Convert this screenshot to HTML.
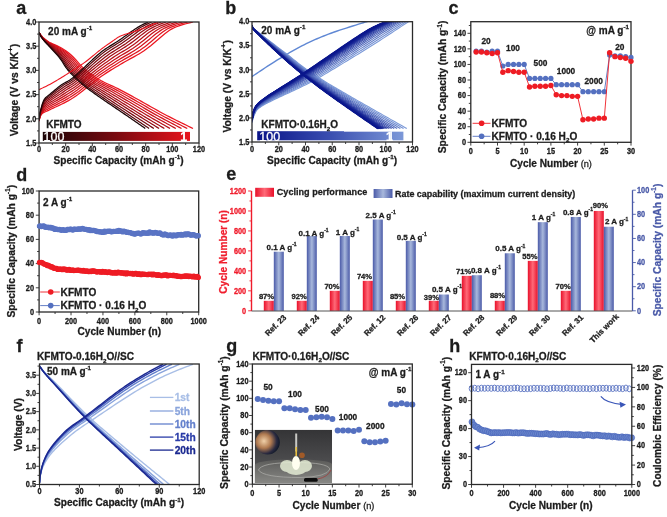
<!DOCTYPE html>
<html><head><meta charset="utf-8"><style>html,body{margin:0;padding:0;background:#fff;}svg{display:block;font-family:"Liberation Sans",sans-serif;filter:blur(0.4px);}</style></head><body>
<svg width="667" height="517" viewBox="0 0 667 517" font-family="Liberation Sans, sans-serif">
<rect width="667" height="517" fill="#ffffff"/>
<defs>
<clipPath id="ca"><rect x="39" y="22" width="160" height="121"/></clipPath>
<clipPath id="cb"><rect x="252" y="21.7" width="160.5" height="120.3"/></clipPath>
<clipPath id="cf"><rect x="39.5" y="364" width="159.7" height="120.5"/></clipPath>
<linearGradient id="gra" x1="0" x2="1"><stop offset="0" stop-color="#1a0406"/><stop offset="0.5" stop-color="#7a0a10"/><stop offset="1" stop-color="#e8141c"/></linearGradient>
<linearGradient id="grb" x1="0" x2="1"><stop offset="0" stop-color="#0a1488"/><stop offset="0.5" stop-color="#3a4eb0"/><stop offset="1" stop-color="#7c98d8"/></linearGradient>
<linearGradient id="barR" x1="0" x2="1"><stop offset="0" stop-color="#e8102a"/><stop offset="0.5" stop-color="#ff6a78"/><stop offset="1" stop-color="#e8102a"/></linearGradient>
<linearGradient id="barB" x1="0" x2="1"><stop offset="0" stop-color="#4a5aa8"/><stop offset="0.5" stop-color="#a8b8dc"/><stop offset="1" stop-color="#4a5aa8"/></linearGradient>
<radialGradient id="planet" cx="0.35" cy="0.45" r="0.65"><stop offset="0" stop-color="#f0d0a8"/><stop offset="0.45" stop-color="#b07a50"/><stop offset="0.8" stop-color="#2a2a40"/><stop offset="1" stop-color="#101828"/></radialGradient>
<radialGradient id="glow" cx="0.5" cy="0.5" r="0.5"><stop offset="0" stop-color="#ffffe0"/><stop offset="0.5" stop-color="#e8f0c0"/><stop offset="1" stop-color="#a0b090" stop-opacity="0"/></radialGradient>
<linearGradient id="photobg" x1="0" y1="0" x2="0" y2="1"><stop offset="0" stop-color="#343436"/><stop offset="0.6" stop-color="#4c4c4e"/><stop offset="1" stop-color="#6a6a6a"/></linearGradient>
<linearGradient id="tray" x1="0" y1="0" x2="0" y2="1"><stop offset="0" stop-color="#5c5c5a"/><stop offset="1" stop-color="#878784"/></linearGradient>
</defs>
<text x="16.30" y="13.80" font-size="18" font-weight="bold" text-anchor="start" fill="#1c1c1c" stroke="#1c1c1c" stroke-width="0.28">a</text>
<line x1="39.00" y1="143.00" x2="39.00" y2="146.30" stroke="#2a2a2a" stroke-width="0.9"/>
<text transform="translate(39.00 151.60) scale(0.93 1.12)" font-size="7.9" font-weight="bold" text-anchor="middle" fill="#1c1c1c" stroke="#1c1c1c" stroke-width="0.28">0</text>
<line x1="52.33" y1="143.00" x2="52.33" y2="145.00" stroke="#2a2a2a" stroke-width="0.9"/>
<line x1="65.67" y1="143.00" x2="65.67" y2="146.30" stroke="#2a2a2a" stroke-width="0.9"/>
<text transform="translate(65.67 151.60) scale(0.93 1.12)" font-size="7.9" font-weight="bold" text-anchor="middle" fill="#1c1c1c" stroke="#1c1c1c" stroke-width="0.28">20</text>
<line x1="79.00" y1="143.00" x2="79.00" y2="145.00" stroke="#2a2a2a" stroke-width="0.9"/>
<line x1="92.33" y1="143.00" x2="92.33" y2="146.30" stroke="#2a2a2a" stroke-width="0.9"/>
<text transform="translate(92.33 151.60) scale(0.93 1.12)" font-size="7.9" font-weight="bold" text-anchor="middle" fill="#1c1c1c" stroke="#1c1c1c" stroke-width="0.28">40</text>
<line x1="105.67" y1="143.00" x2="105.67" y2="145.00" stroke="#2a2a2a" stroke-width="0.9"/>
<line x1="119.00" y1="143.00" x2="119.00" y2="146.30" stroke="#2a2a2a" stroke-width="0.9"/>
<text transform="translate(119.00 151.60) scale(0.93 1.12)" font-size="7.9" font-weight="bold" text-anchor="middle" fill="#1c1c1c" stroke="#1c1c1c" stroke-width="0.28">60</text>
<line x1="132.33" y1="143.00" x2="132.33" y2="145.00" stroke="#2a2a2a" stroke-width="0.9"/>
<line x1="145.67" y1="143.00" x2="145.67" y2="146.30" stroke="#2a2a2a" stroke-width="0.9"/>
<text transform="translate(145.67 151.60) scale(0.93 1.12)" font-size="7.9" font-weight="bold" text-anchor="middle" fill="#1c1c1c" stroke="#1c1c1c" stroke-width="0.28">80</text>
<line x1="159.00" y1="143.00" x2="159.00" y2="145.00" stroke="#2a2a2a" stroke-width="0.9"/>
<line x1="172.33" y1="143.00" x2="172.33" y2="146.30" stroke="#2a2a2a" stroke-width="0.9"/>
<text transform="translate(172.33 151.60) scale(0.93 1.12)" font-size="7.9" font-weight="bold" text-anchor="middle" fill="#1c1c1c" stroke="#1c1c1c" stroke-width="0.28">100</text>
<line x1="185.67" y1="143.00" x2="185.67" y2="145.00" stroke="#2a2a2a" stroke-width="0.9"/>
<line x1="199.00" y1="143.00" x2="199.00" y2="146.30" stroke="#2a2a2a" stroke-width="0.9"/>
<text transform="translate(199.00 151.60) scale(0.93 1.12)" font-size="7.9" font-weight="bold" text-anchor="middle" fill="#1c1c1c" stroke="#1c1c1c" stroke-width="0.28">120</text>
<line x1="35.70" y1="143.00" x2="39.00" y2="143.00" stroke="#2a2a2a" stroke-width="0.9"/>
<text transform="translate(36.30 145.70) scale(0.93 1.12)" font-size="7.9" font-weight="bold" text-anchor="end" fill="#1c1c1c" stroke="#1c1c1c" stroke-width="0.28">1.5</text>
<line x1="37.00" y1="130.90" x2="39.00" y2="130.90" stroke="#2a2a2a" stroke-width="0.9"/>
<line x1="35.70" y1="118.80" x2="39.00" y2="118.80" stroke="#2a2a2a" stroke-width="0.9"/>
<text transform="translate(36.30 121.50) scale(0.93 1.12)" font-size="7.9" font-weight="bold" text-anchor="end" fill="#1c1c1c" stroke="#1c1c1c" stroke-width="0.28">2.0</text>
<line x1="37.00" y1="106.70" x2="39.00" y2="106.70" stroke="#2a2a2a" stroke-width="0.9"/>
<line x1="35.70" y1="94.60" x2="39.00" y2="94.60" stroke="#2a2a2a" stroke-width="0.9"/>
<text transform="translate(36.30 97.30) scale(0.93 1.12)" font-size="7.9" font-weight="bold" text-anchor="end" fill="#1c1c1c" stroke="#1c1c1c" stroke-width="0.28">2.5</text>
<line x1="37.00" y1="82.50" x2="39.00" y2="82.50" stroke="#2a2a2a" stroke-width="0.9"/>
<line x1="35.70" y1="70.40" x2="39.00" y2="70.40" stroke="#2a2a2a" stroke-width="0.9"/>
<text transform="translate(36.30 73.10) scale(0.93 1.12)" font-size="7.9" font-weight="bold" text-anchor="end" fill="#1c1c1c" stroke="#1c1c1c" stroke-width="0.28">3.0</text>
<line x1="37.00" y1="58.30" x2="39.00" y2="58.30" stroke="#2a2a2a" stroke-width="0.9"/>
<line x1="35.70" y1="46.20" x2="39.00" y2="46.20" stroke="#2a2a2a" stroke-width="0.9"/>
<text transform="translate(36.30 48.90) scale(0.93 1.12)" font-size="7.9" font-weight="bold" text-anchor="end" fill="#1c1c1c" stroke="#1c1c1c" stroke-width="0.28">3.5</text>
<line x1="37.00" y1="34.10" x2="39.00" y2="34.10" stroke="#2a2a2a" stroke-width="0.9"/>
<line x1="35.70" y1="22.00" x2="39.00" y2="22.00" stroke="#2a2a2a" stroke-width="0.9"/>
<text transform="translate(36.30 24.70) scale(0.93 1.12)" font-size="7.9" font-weight="bold" text-anchor="end" fill="#1c1c1c" stroke="#1c1c1c" stroke-width="0.28">4.0</text>
<text x="53.50" y="164.20" font-size="10.1" font-weight="bold" text-anchor="start" fill="#1c1c1c" stroke="#1c1c1c" stroke-width="0.28">Specific Capacity (mAh g<tspan dy="-4.85" font-size="6.26">-1</tspan><tspan dy="4.85">)</tspan></text>
<text x="18.20" y="90.00" font-size="10.3" font-weight="bold" text-anchor="middle" fill="#1c1c1c" stroke="#1c1c1c" stroke-width="0.28" transform="rotate(-90 18.20 90.00)">Voltage (V vs K/K<tspan dy="-4.94" font-size="7.73">+</tspan><tspan dy="4.94">)</tspan></text>
<text x="48.10" y="34.80" font-size="10.0" font-weight="bold" text-anchor="start" fill="#1c1c1c" stroke="#1c1c1c" stroke-width="0.28">20 mA g<tspan dy="-4.80" font-size="6.20">-1</tspan></text>
<polyline points="39.00,32.65 39.64,33.49 40.28,34.36 40.92,35.19 41.57,35.97 42.21,36.70 42.85,37.34 43.49,37.93 44.13,38.49 44.77,39.03 45.42,39.55 46.06,40.04 46.70,40.51 47.34,40.95 47.98,41.38 48.62,41.78 49.27,42.17 49.91,42.53 50.55,42.87 51.19,43.18 51.83,43.48 52.48,43.77 53.12,44.04 53.76,44.31 54.40,44.58 56.75,45.59 59.10,46.74 61.45,48.04 63.80,49.45 66.15,51.00 68.49,52.76 70.84,54.76 73.19,56.98 75.54,59.35 77.89,62.07 80.24,64.86 82.59,67.35 84.94,69.45 87.29,71.35 89.64,73.13 91.99,74.83 94.34,76.46 96.68,78.00 99.03,79.46 101.38,80.83 103.73,82.06 106.08,83.21 108.43,84.30 110.78,85.36 113.13,86.42 115.48,87.52 117.83,88.67 120.18,89.88 122.53,91.10 124.87,92.35 127.22,93.61 129.57,94.89 131.92,96.17 134.27,97.46 136.62,98.75 138.97,100.05 141.32,101.36 143.67,102.68 146.02,104.01 148.37,105.35 150.72,106.68 153.06,108.00 155.41,109.32 157.76,110.63 160.11,111.93 162.46,113.21 164.81,114.47 167.16,115.71 169.51,116.92 171.86,118.11 174.21,119.29 176.56,120.46 178.91,121.61 181.25,122.77 183.60,123.91 185.95,125.05 188.30,126.19 190.65,127.33 193.00,128.48" fill="none" stroke="#ec1620" stroke-width="1.25" stroke-opacity="1.0" stroke-linejoin="round" clip-path="url(#ca)"/>
<polyline points="39.00,121.22 39.64,118.44 40.28,116.49 40.92,115.21 41.57,114.26 42.21,113.61 42.85,113.10 43.49,112.67 44.13,112.32 44.77,112.03 45.42,111.76 46.06,111.49 46.70,111.21 47.34,110.92 47.98,110.62 48.62,110.32 49.27,110.00 49.91,109.68 50.55,109.37 51.19,109.05 51.83,108.74 52.48,108.44 53.12,108.14 53.76,107.84 54.40,107.54 56.75,106.45 59.10,105.35 61.45,104.23 63.80,103.07 66.15,101.86 68.49,100.59 70.84,99.24 73.19,97.80 75.54,96.24 77.89,94.56 80.24,92.80 82.59,90.96 84.94,89.09 87.29,87.19 89.64,85.28 91.99,83.38 94.34,81.51 96.68,79.68 99.03,77.93 101.38,76.26 103.73,74.66 106.08,73.11 108.43,71.61 110.78,70.15 113.13,68.72 115.48,67.32 117.83,65.92 120.18,64.52 122.53,63.12 124.87,61.76 127.22,60.45 129.57,59.16 131.92,57.89 134.27,56.60 136.62,55.29 138.97,53.92 141.32,52.49 143.67,50.97 146.02,49.34 148.37,47.57 150.72,45.71 153.06,43.76 155.41,41.76 157.76,39.74 160.11,37.71 162.46,35.71 164.81,33.77 167.16,31.96 169.51,30.32 171.86,28.87 174.21,27.69 176.56,26.77 178.91,25.91 181.25,25.10 183.60,24.41 185.95,23.77 188.30,23.17 190.65,22.59 193.00,22.00" fill="none" stroke="#ec1620" stroke-width="1.25" stroke-opacity="1.0" stroke-linejoin="round" clip-path="url(#ca)"/>
<polyline points="39.00,32.65 39.62,33.49 40.24,34.37 40.85,35.20 41.47,35.99 42.09,36.71 42.71,37.37 43.32,37.97 43.94,38.53 44.56,39.08 45.18,39.59 45.80,40.09 46.41,40.56 47.03,41.02 47.65,41.45 48.27,41.87 48.88,42.27 49.50,42.65 50.12,43.00 50.74,43.33 51.36,43.65 51.97,43.96 52.59,44.26 53.21,44.56 53.83,44.85 56.09,45.95 58.35,47.17 60.61,48.53 62.87,49.97 65.14,51.55 67.40,53.33 69.66,55.36 71.92,57.62 74.18,60.01 76.44,62.70 78.71,65.42 80.97,67.85 83.23,69.91 85.49,71.78 87.75,73.54 90.02,75.23 92.28,76.84 94.54,78.37 96.80,79.83 99.06,81.20 101.32,82.46 103.59,83.63 105.85,84.74 108.11,85.82 110.37,86.90 112.63,88.01 114.90,89.16 117.16,90.36 119.42,91.57 121.68,92.81 123.94,94.05 126.20,95.31 128.47,96.57 130.73,97.84 132.99,99.11 135.25,100.39 137.51,101.68 139.77,102.97 142.04,104.27 144.30,105.58 146.56,106.88 148.82,108.18 151.08,109.47 153.35,110.76 155.61,112.03 157.87,113.29 160.13,114.53 162.39,115.75 164.65,116.95 166.92,118.14 169.18,119.31 171.44,120.47 173.70,121.63 175.96,122.77 178.22,123.92 180.49,125.06 182.75,126.19 185.01,127.33 187.27,128.48" fill="none" stroke="#df151e" stroke-width="1.25" stroke-opacity="1.0" stroke-linejoin="round" clip-path="url(#ca)"/>
<polyline points="39.00,121.05 39.62,118.18 40.24,116.13 40.86,114.75 41.48,113.70 42.10,112.91 42.72,112.26 43.33,111.70 43.95,111.22 44.57,110.82 45.19,110.45 45.81,110.10 46.43,109.77 47.05,109.44 47.67,109.11 48.29,108.78 48.91,108.45 49.53,108.13 50.15,107.81 50.76,107.49 51.38,107.18 52.00,106.87 52.62,106.56 53.24,106.25 53.86,105.95 56.13,104.82 58.39,103.68 60.66,102.53 62.93,101.34 65.20,100.12 67.46,98.84 69.73,97.51 72.00,96.10 74.26,94.62 76.53,93.05 78.80,91.39 81.06,89.65 83.33,87.86 85.60,86.03 87.86,84.19 90.13,82.34 92.40,80.50 94.67,78.71 96.93,76.98 99.20,75.33 101.47,73.72 103.73,72.17 106.00,70.66 108.27,69.19 110.53,67.75 112.80,66.33 115.07,64.91 117.33,63.50 119.60,62.09 121.87,60.73 124.13,59.41 126.40,58.13 128.67,56.87 130.94,55.60 133.20,54.31 135.47,52.99 137.74,51.61 140.00,50.15 142.27,48.59 144.54,46.91 146.80,45.14 149.07,43.29 151.34,41.40 153.60,39.47 155.87,37.55 158.14,35.64 160.41,33.79 162.67,32.06 164.94,30.48 167.21,29.06 169.47,27.88 171.74,26.94 174.01,26.06 176.27,25.23 178.54,24.51 180.81,23.85 183.07,23.22 185.34,22.62 187.61,22.00" fill="none" stroke="#df151e" stroke-width="1.25" stroke-opacity="1.0" stroke-linejoin="round" clip-path="url(#ca)"/>
<polyline points="39.00,32.65 39.59,33.50 40.19,34.37 40.78,35.21 41.38,36.00 41.97,36.73 42.56,37.39 43.16,38.00 43.75,38.57 44.35,39.12 44.94,39.64 45.53,40.14 46.13,40.62 46.72,41.09 47.32,41.53 47.91,41.96 48.50,42.37 49.10,42.76 49.69,43.13 50.28,43.49 50.88,43.83 51.47,44.16 52.07,44.48 52.66,44.80 53.25,45.12 55.43,46.30 57.60,47.59 59.78,49.01 61.95,50.50 64.13,52.10 66.30,53.91 68.48,55.96 70.65,58.25 72.82,60.67 75.00,63.33 77.17,65.98 79.35,68.34 81.52,70.36 83.70,72.21 85.87,73.95 88.04,75.62 90.22,77.22 92.39,78.75 94.57,80.20 96.74,81.58 98.92,82.85 101.09,84.04 103.27,85.17 105.44,86.28 107.61,87.38 109.79,88.49 111.96,89.65 114.14,90.84 116.31,92.04 118.49,93.26 120.66,94.49 122.84,95.73 125.01,96.98 127.18,98.23 129.36,99.47 131.53,100.73 133.71,101.99 135.88,103.26 138.06,104.53 140.23,105.81 142.40,107.08 144.58,108.35 146.75,109.62 148.93,110.88 151.10,112.13 153.28,113.37 155.45,114.59 157.63,115.80 159.80,116.99 161.97,118.17 164.15,119.33 166.32,120.49 168.50,121.64 170.67,122.78 172.85,123.92 175.02,125.06 177.20,126.20 179.37,127.34 181.54,128.48" fill="none" stroke="#d2131d" stroke-width="1.25" stroke-opacity="1.0" stroke-linejoin="round" clip-path="url(#ca)"/>
<polyline points="39.00,120.87 39.60,117.92 40.19,115.77 40.79,114.30 41.39,113.14 41.98,112.21 42.58,111.42 43.18,110.72 43.77,110.12 44.37,109.60 44.97,109.14 45.56,108.72 46.16,108.32 46.76,107.95 47.35,107.59 47.95,107.24 48.55,106.91 49.14,106.57 49.74,106.25 50.34,105.93 50.93,105.61 51.53,105.30 52.13,104.98 52.72,104.67 53.32,104.35 55.51,103.18 57.69,102.01 59.88,100.82 62.06,99.61 64.24,98.38 66.43,97.10 68.61,95.78 70.80,94.41 72.98,93.00 75.17,91.53 77.35,89.98 79.54,88.34 81.72,86.63 83.91,84.88 86.09,83.09 88.28,81.29 90.46,79.50 92.65,77.74 94.83,76.04 97.01,74.39 99.20,72.79 101.38,71.24 103.57,69.72 105.75,68.23 107.94,66.77 110.12,65.33 112.31,63.91 114.49,62.48 116.68,61.07 118.86,59.70 121.05,58.38 123.23,57.11 125.42,55.85 127.60,54.60 129.78,53.34 131.97,52.05 134.15,50.72 136.34,49.32 138.52,47.84 140.71,46.25 142.89,44.57 145.08,42.82 147.26,41.03 149.45,39.21 151.63,37.38 153.82,35.57 156.00,33.81 158.18,32.15 160.37,30.63 162.55,29.24 164.74,28.07 166.92,27.11 169.11,26.20 171.29,25.36 173.48,24.61 175.66,23.92 177.85,23.27 180.03,22.65 182.22,22.00" fill="none" stroke="#d2131d" stroke-width="1.25" stroke-opacity="1.0" stroke-linejoin="round" clip-path="url(#ca)"/>
<polyline points="39.00,32.65 39.57,33.50 40.14,34.38 40.71,35.23 41.28,36.02 41.85,36.75 42.42,37.42 42.99,38.03 43.56,38.61 44.13,39.17 44.70,39.69 45.27,40.20 45.84,40.68 46.41,41.15 46.98,41.61 47.55,42.04 48.12,42.47 48.69,42.87 49.26,43.26 49.83,43.64 50.40,44.00 50.97,44.35 51.54,44.70 52.11,45.05 52.68,45.39 54.77,46.66 56.86,48.02 58.94,49.50 61.03,51.02 63.12,52.65 65.20,54.48 67.29,56.56 69.38,58.89 71.46,61.34 73.55,63.95 75.64,66.53 77.73,68.83 79.81,70.81 81.90,72.64 83.99,74.36 86.07,76.02 88.16,77.60 90.25,79.12 92.34,80.58 94.42,81.96 96.51,83.24 98.60,84.45 100.68,85.61 102.77,86.74 104.86,87.85 106.94,88.98 109.03,90.14 111.12,91.32 113.21,92.51 115.29,93.71 117.38,94.93 119.47,96.15 121.55,97.38 123.64,98.61 125.73,99.84 127.81,101.07 129.90,102.31 131.99,103.55 134.08,104.79 136.16,106.04 138.25,107.29 140.34,108.53 142.42,109.77 144.51,111.00 146.60,112.23 148.68,113.45 150.77,114.65 152.86,115.85 154.95,117.03 157.03,118.19 159.12,119.35 161.21,120.50 163.29,121.65 165.38,122.79 167.47,123.93 169.55,125.07 171.64,126.20 173.73,127.34 175.82,128.48" fill="none" stroke="#c4121b" stroke-width="1.25" stroke-opacity="1.0" stroke-linejoin="round" clip-path="url(#ca)"/>
<polyline points="39.00,120.70 39.57,117.66 40.15,115.41 40.72,113.84 41.30,112.58 41.87,111.51 42.45,110.58 43.02,109.74 43.59,109.02 44.17,108.39 44.74,107.83 45.32,107.33 45.89,106.88 46.47,106.46 47.04,106.07 47.61,105.71 48.19,105.36 48.76,105.02 49.34,104.69 49.91,104.37 50.49,104.05 51.06,103.73 51.63,103.41 52.21,103.08 52.78,102.76 54.88,101.55 56.99,100.34 59.09,99.12 61.19,97.89 63.29,96.64 65.40,95.36 67.50,94.05 69.60,92.71 71.70,91.38 73.81,90.01 75.91,88.57 78.01,87.03 80.11,85.40 82.22,83.72 84.32,81.99 86.42,80.25 88.52,78.50 90.63,76.78 92.73,75.09 94.83,73.46 96.93,71.86 99.04,70.30 101.14,68.77 103.24,67.27 105.34,65.80 107.44,64.34 109.55,62.90 111.65,61.47 113.75,60.04 115.85,58.67 117.96,57.35 120.06,56.08 122.16,54.83 124.26,53.60 126.37,52.36 128.47,51.11 130.57,49.83 132.67,48.50 134.78,47.09 136.88,45.59 138.98,44.00 141.08,42.35 143.19,40.66 145.29,38.94 147.39,37.22 149.49,35.51 151.60,33.84 153.70,32.25 155.80,30.78 157.90,29.43 160.00,28.26 162.11,27.28 164.21,26.35 166.31,25.49 168.41,24.71 170.52,24.00 172.62,23.33 174.72,22.67 176.82,22.00" fill="none" stroke="#c4121b" stroke-width="1.25" stroke-opacity="1.0" stroke-linejoin="round" clip-path="url(#ca)"/>
<polyline points="39.00,32.65 39.55,33.50 40.09,34.38 40.64,35.24 41.18,36.03 41.73,36.77 42.28,37.44 42.82,38.06 43.37,38.65 43.92,39.21 44.46,39.74 45.01,40.25 45.55,40.74 46.10,41.22 46.65,41.68 47.19,42.13 47.74,42.57 48.29,42.99 48.83,43.39 49.38,43.79 49.92,44.17 50.47,44.55 51.02,44.92 51.56,45.29 52.11,45.66 54.11,47.01 56.11,48.45 58.11,49.98 60.11,51.55 62.11,53.20 64.11,55.06 66.11,57.16 68.11,59.53 70.11,62.00 72.11,64.58 74.10,67.09 76.10,69.32 78.10,71.27 80.10,73.06 82.10,74.77 84.10,76.41 86.10,77.98 88.10,79.50 90.10,80.95 92.10,82.33 94.10,83.63 96.10,84.87 98.10,86.05 100.10,87.20 102.10,88.33 104.10,89.47 106.10,90.62 108.10,91.80 110.10,92.98 112.10,94.17 114.10,95.37 116.10,96.57 118.10,97.78 120.10,98.99 122.10,100.20 124.10,101.41 126.10,102.62 128.10,103.84 130.10,105.05 132.09,106.27 134.09,107.49 136.09,108.70 138.09,109.91 140.09,111.12 142.09,112.33 144.09,113.52 146.09,114.72 148.09,115.89 150.09,117.06 152.09,118.22 154.09,119.37 156.09,120.52 158.09,121.66 160.09,122.80 162.09,123.94 164.09,125.07 166.09,126.21 168.09,127.34 170.09,128.48" fill="none" stroke="#b51019" stroke-width="1.25" stroke-opacity="1.0" stroke-linejoin="round" clip-path="url(#ca)"/>
<polyline points="39.00,120.52 39.55,117.39 40.10,115.05 40.66,113.39 41.21,112.02 41.76,110.82 42.31,109.74 42.86,108.77 43.41,107.91 43.97,107.17 44.52,106.52 45.07,105.94 45.62,105.43 46.17,104.98 46.73,104.56 47.28,104.17 47.83,103.81 48.38,103.47 48.93,103.13 49.48,102.80 50.04,102.48 50.59,102.16 51.14,101.83 51.69,101.50 52.24,101.16 54.26,99.92 56.28,98.67 58.30,97.42 60.32,96.16 62.34,94.89 64.36,93.61 66.38,92.31 68.40,91.02 70.42,89.76 72.44,88.49 74.46,87.16 76.48,85.72 78.51,84.17 80.53,82.56 82.55,80.90 84.57,79.20 86.59,77.50 88.61,75.81 90.63,74.15 92.65,72.52 94.67,70.93 96.69,69.37 98.71,67.83 100.73,66.31 102.75,64.82 104.77,63.35 106.79,61.89 108.81,60.45 110.83,59.02 112.85,57.64 114.87,56.32 116.89,55.05 118.91,53.81 120.93,52.59 122.95,51.39 124.97,50.18 126.99,48.95 129.01,47.67 131.03,46.34 133.05,44.92 135.07,43.44 137.09,41.89 139.11,40.29 141.13,38.68 143.15,37.05 145.17,35.44 147.19,33.86 149.21,32.35 151.23,30.93 153.25,29.61 155.27,28.45 157.29,27.45 159.31,26.50 161.33,25.61 163.35,24.82 165.37,24.08 167.39,23.38 169.41,22.70 171.43,22.00" fill="none" stroke="#b51019" stroke-width="1.25" stroke-opacity="1.0" stroke-linejoin="round" clip-path="url(#ca)"/>
<polyline points="39.00,32.65 39.52,33.50 40.04,34.39 40.57,35.25 41.09,36.05 41.61,36.79 42.13,37.47 42.66,38.10 43.18,38.69 43.70,39.26 44.22,39.79 44.75,40.30 45.27,40.80 45.79,41.28 46.31,41.76 46.84,42.21 47.36,42.66 47.88,43.10 48.40,43.52 48.92,43.94 49.45,44.34 49.97,44.74 50.49,45.14 51.01,45.53 51.54,45.93 53.45,47.37 55.36,48.88 57.27,50.47 59.19,52.07 61.10,53.75 63.01,55.63 64.92,57.76 66.83,60.16 68.75,62.66 70.66,65.21 72.57,67.65 74.48,69.81 76.40,71.72 78.31,73.49 80.22,75.18 82.13,76.80 84.04,78.37 85.96,79.87 87.87,81.32 89.78,82.71 91.69,84.03 93.61,85.28 95.52,86.49 97.43,87.66 99.34,88.81 101.26,89.95 103.17,91.11 105.08,92.28 106.99,93.45 108.90,94.62 110.82,95.80 112.73,96.99 114.64,98.18 116.55,99.38 118.47,100.56 120.38,101.75 122.29,102.94 124.20,104.13 126.11,105.31 128.03,106.50 129.94,107.69 131.85,108.88 133.76,110.06 135.68,111.24 137.59,112.43 139.50,113.60 141.41,114.78 143.33,115.94 145.24,117.10 147.15,118.25 149.06,119.39 150.97,120.54 152.89,121.68 154.80,122.81 156.71,123.95 158.62,125.08 160.54,126.21 162.45,127.34 164.36,128.48" fill="none" stroke="#a50e17" stroke-width="1.25" stroke-opacity="1.0" stroke-linejoin="round" clip-path="url(#ca)"/>
<polyline points="39.00,120.35 39.53,117.13 40.06,114.68 40.59,112.93 41.12,111.46 41.65,110.12 42.18,108.90 42.71,107.79 43.23,106.81 43.76,105.96 44.29,105.20 44.82,104.55 45.35,103.99 45.88,103.49 46.41,103.04 46.94,102.64 47.47,102.26 48.00,101.91 48.53,101.57 49.06,101.24 49.59,100.91 50.12,100.59 50.65,100.25 51.17,99.91 51.70,99.57 53.64,98.28 55.58,97.00 57.52,95.72 59.46,94.44 61.39,93.15 63.33,91.87 65.27,90.58 67.21,89.32 69.15,88.13 71.08,86.98 73.02,85.75 74.96,84.41 76.90,82.95 78.83,81.41 80.77,79.80 82.71,78.16 84.65,76.50 86.59,74.84 88.52,73.20 90.46,71.59 92.40,70.00 94.34,68.43 96.28,66.88 98.21,65.36 100.15,63.85 102.09,62.36 104.03,60.89 105.97,59.43 107.90,57.99 109.84,56.61 111.78,55.29 113.72,54.02 115.65,52.79 117.59,51.59 119.53,50.41 121.47,49.24 123.41,48.06 125.34,46.85 127.28,45.59 129.22,44.26 131.16,42.87 133.10,41.42 135.03,39.92 136.97,38.41 138.91,36.89 140.85,35.37 142.79,33.88 144.72,32.44 146.66,31.08 148.60,29.80 150.54,28.65 152.47,27.62 154.41,26.65 156.35,25.74 158.29,24.92 160.23,24.15 162.16,23.43 164.10,22.72 166.04,22.00" fill="none" stroke="#a50e17" stroke-width="1.25" stroke-opacity="1.0" stroke-linejoin="round" clip-path="url(#ca)"/>
<polyline points="39.00,32.65 39.50,33.50 40.00,34.39 40.50,35.26 41.00,36.06 41.50,36.81 42.00,37.49 42.50,38.13 43.00,38.73 43.50,39.30 44.00,39.83 44.51,40.35 45.01,40.86 45.51,41.35 46.01,41.83 46.51,42.29 47.01,42.75 47.51,43.20 48.01,43.64 48.51,44.08 49.01,44.50 49.51,44.92 50.01,45.34 50.51,45.76 51.01,46.17 52.84,47.70 54.68,49.27 56.51,50.92 58.34,52.55 60.17,54.25 62.00,56.16 63.84,58.31 65.67,60.75 67.50,63.26 69.33,65.78 71.16,68.16 73.00,70.27 74.83,72.13 76.66,73.89 78.49,75.56 80.33,77.16 82.16,78.72 83.99,80.22 85.82,81.66 87.65,83.05 89.49,84.38 91.32,85.66 93.15,86.89 94.98,88.08 96.82,89.25 98.65,90.40 100.48,91.56 102.31,92.72 104.14,93.88 105.98,95.04 107.81,96.20 109.64,97.37 111.47,98.55 113.30,99.73 115.14,100.90 116.97,102.06 118.80,103.23 120.63,104.39 122.47,105.55 124.30,106.72 126.13,107.88 127.96,109.04 129.79,110.20 131.63,111.36 133.46,112.52 135.29,113.67 137.12,114.83 138.96,115.98 140.79,117.13 142.62,118.27 144.45,119.41 146.28,120.55 148.12,121.69 149.95,122.82 151.78,123.95 153.61,125.08 155.44,126.22 157.28,127.35 159.11,128.48" fill="none" stroke="#930c14" stroke-width="1.25" stroke-opacity="1.0" stroke-linejoin="round" clip-path="url(#ca)"/>
<polyline points="39.00,120.19 39.51,116.89 40.02,114.35 40.53,112.52 41.03,110.94 41.54,109.48 42.05,108.13 42.56,106.89 43.07,105.80 43.58,104.84 44.09,104.00 44.60,103.28 45.10,102.67 45.61,102.13 46.12,101.65 46.63,101.23 47.14,100.85 47.65,100.49 48.16,100.14 48.67,99.81 49.17,99.48 49.68,99.14 50.19,98.80 50.70,98.46 51.21,98.10 53.07,96.78 54.93,95.47 56.80,94.16 58.66,92.85 60.52,91.56 62.38,90.27 64.25,89.00 66.11,87.77 67.97,86.65 69.83,85.59 71.70,84.46 73.56,83.20 75.42,81.82 77.28,80.35 79.15,78.80 81.01,77.20 82.87,75.58 84.73,73.96 86.60,72.34 88.46,70.73 90.32,69.15 92.18,67.57 94.05,66.02 95.91,64.48 97.77,62.95 99.63,61.45 101.50,59.96 103.36,58.50 105.22,57.05 107.08,55.67 108.95,54.35 110.81,53.08 112.67,51.86 114.53,50.67 116.40,49.52 118.26,48.38 120.12,47.25 121.98,46.09 123.85,44.90 125.71,43.66 127.57,42.35 129.43,40.99 131.30,39.59 133.16,38.17 135.02,36.74 136.88,35.31 138.75,33.90 140.61,32.53 142.47,31.22 144.33,29.97 146.20,28.82 148.06,27.77 149.92,26.78 151.78,25.86 153.65,25.01 155.51,24.22 157.37,23.47 159.23,22.75 161.10,22.00" fill="none" stroke="#930c14" stroke-width="1.25" stroke-opacity="1.0" stroke-linejoin="round" clip-path="url(#ca)"/>
<polyline points="39.00,32.65 39.48,33.50 39.96,34.40 40.44,35.27 40.91,36.07 41.39,36.82 41.87,37.51 42.35,38.16 42.83,38.76 43.31,39.34 43.79,39.88 44.26,40.40 44.74,40.91 45.22,41.41 45.70,41.89 46.18,42.37 46.66,42.84 47.14,43.31 47.61,43.76 48.09,44.21 48.57,44.66 49.05,45.10 49.53,45.54 50.01,45.98 50.49,46.42 52.24,48.02 53.99,49.66 55.74,51.36 57.49,53.03 59.25,54.76 61.00,56.69 62.75,58.86 64.50,61.33 66.25,63.87 68.01,66.36 69.76,68.67 71.51,70.72 73.26,72.55 75.02,74.28 76.77,75.93 78.52,77.53 80.27,79.07 82.02,80.56 83.78,82.00 85.53,83.40 87.28,84.74 89.03,86.04 90.78,87.29 92.54,88.50 94.29,89.68 96.04,90.85 97.79,92.00 99.54,93.16 101.30,94.31 103.05,95.46 104.80,96.61 106.55,97.76 108.30,98.92 110.06,100.08 111.81,101.23 113.56,102.37 115.31,103.51 117.06,104.65 118.82,105.79 120.57,106.93 122.32,108.06 124.07,109.20 125.83,110.33 127.58,111.47 129.33,112.61 131.08,113.75 132.83,114.89 134.59,116.03 136.34,117.16 138.09,118.30 139.84,119.43 141.59,120.57 143.35,121.70 145.10,122.83 146.85,123.96 148.60,125.09 150.35,126.22 152.11,127.35 153.86,128.48" fill="none" stroke="#7a0a11" stroke-width="1.25" stroke-opacity="1.0" stroke-linejoin="round" clip-path="url(#ca)"/>
<polyline points="39.00,120.03 39.49,116.65 39.98,114.02 40.46,112.10 40.95,110.43 41.44,108.84 41.93,107.36 42.42,106.00 42.91,104.79 43.39,103.73 43.88,102.80 44.37,102.01 44.86,101.34 45.35,100.76 45.83,100.26 46.32,99.82 46.81,99.43 47.30,99.06 47.79,98.72 48.27,98.38 48.76,98.04 49.25,97.70 49.74,97.36 50.23,97.01 50.72,96.64 52.50,95.28 54.29,93.94 56.08,92.60 57.86,91.27 59.65,89.96 61.44,88.67 63.23,87.41 65.01,86.21 66.80,85.16 68.59,84.20 70.37,83.16 72.16,82.00 73.95,80.69 75.73,79.29 77.52,77.80 79.31,76.25 81.10,74.66 82.88,73.07 84.67,71.47 86.46,69.88 88.24,68.29 90.03,66.72 91.82,65.15 93.61,63.60 95.39,62.06 97.18,60.54 98.97,59.04 100.75,57.56 102.54,56.12 104.33,54.73 106.12,53.40 107.90,52.14 109.69,50.92 111.48,49.76 113.26,48.63 115.05,47.52 116.84,46.43 118.63,45.34 120.41,44.21 122.20,43.05 123.99,41.83 125.77,40.56 127.56,39.25 129.35,37.92 131.14,36.59 132.92,35.25 134.71,33.92 136.50,32.62 138.28,31.36 140.07,30.14 141.86,29.00 143.64,27.93 145.43,26.92 147.22,25.98 149.01,25.11 150.79,24.29 152.58,23.52 154.37,22.77 156.15,22.00" fill="none" stroke="#7a0a11" stroke-width="1.25" stroke-opacity="1.0" stroke-linejoin="round" clip-path="url(#ca)"/>
<polyline points="39.00,32.65 39.46,33.50 39.92,34.40 40.38,35.28 40.83,36.09 41.29,36.84 41.75,37.53 42.21,38.18 42.67,38.80 43.13,39.37 43.59,39.92 44.05,40.45 44.50,40.96 44.96,41.46 45.42,41.96 45.88,42.44 46.34,42.93 46.80,43.40 47.26,43.87 47.72,44.34 48.17,44.80 48.63,45.27 49.09,45.73 49.55,46.18 50.01,46.64 51.69,48.32 53.37,50.02 55.05,51.77 56.73,53.47 58.40,55.22 60.08,57.16 61.76,59.37 63.44,61.86 65.12,64.42 66.80,66.88 68.48,69.13 70.16,71.13 71.84,72.93 73.52,74.64 75.20,76.27 76.88,77.85 78.56,79.39 80.24,80.87 81.91,82.31 83.59,83.71 85.27,85.07 86.95,86.39 88.63,87.66 90.31,88.88 91.99,90.08 93.67,91.25 95.35,92.41 97.03,93.56 98.71,94.70 100.39,95.84 102.07,96.97 103.75,98.11 105.42,99.26 107.10,100.40 108.78,101.53 110.46,102.66 112.14,103.78 113.82,104.89 115.50,106.01 117.18,107.12 118.86,108.23 120.54,109.34 122.22,110.46 123.90,111.57 125.58,112.69 127.25,113.81 128.93,114.94 130.61,116.07 132.29,117.19 133.97,118.32 135.65,119.45 137.33,120.58 139.01,121.71 140.69,122.84 142.37,123.97 144.05,125.09 145.73,126.22 147.41,127.35 149.09,128.48" fill="none" stroke="#5a080d" stroke-width="1.25" stroke-opacity="1.0" stroke-linejoin="round" clip-path="url(#ca)"/>
<polyline points="39.00,119.88 39.47,116.44 39.94,113.72 40.41,111.72 40.88,109.96 41.35,108.25 41.82,106.66 42.29,105.18 42.76,103.88 43.22,102.72 43.69,101.71 44.16,100.85 44.63,100.14 45.10,99.52 45.57,99.00 46.04,98.54 46.51,98.14 46.98,97.77 47.45,97.42 47.92,97.08 48.39,96.74 48.86,96.40 49.33,96.04 49.80,95.69 50.27,95.31 51.98,93.92 53.70,92.54 55.42,91.18 57.14,89.83 58.86,88.51 60.58,87.22 62.30,85.97 64.01,84.80 65.73,83.81 67.45,82.93 69.17,81.99 70.89,80.91 72.61,79.67 74.33,78.32 76.04,76.88 77.76,75.38 79.48,73.83 81.20,72.26 82.92,70.69 84.64,69.10 86.36,67.52 88.07,65.94 89.79,64.36 91.51,62.80 93.23,61.25 94.95,59.71 96.67,58.20 98.39,56.72 100.10,55.26 101.82,53.87 103.54,52.54 105.26,51.28 106.98,50.07 108.70,48.92 110.42,47.81 112.13,46.74 113.85,45.69 115.57,44.65 117.29,43.59 119.01,42.50 120.73,41.36 122.45,40.17 124.16,38.94 125.88,37.70 127.60,36.45 129.32,35.19 131.04,33.94 132.76,32.70 134.48,31.48 136.19,30.30 137.91,29.15 139.63,28.07 141.35,27.04 143.07,26.09 144.79,25.19 146.51,24.36 148.22,23.56 149.94,22.79 151.66,22.00" fill="none" stroke="#5a080d" stroke-width="1.25" stroke-opacity="1.0" stroke-linejoin="round" clip-path="url(#ca)"/>
<polyline points="39.00,32.65 39.44,33.50 39.89,34.41 40.33,35.28 40.77,36.10 41.21,36.85 41.66,37.55 42.10,38.21 42.54,38.82 42.98,39.40 43.43,39.95 43.87,40.48 44.31,41.00 44.76,41.51 45.20,42.01 45.64,42.50 46.08,42.99 46.53,43.48 46.97,43.96 47.41,44.44 47.86,44.92 48.30,45.40 48.74,45.87 49.18,46.35 49.63,46.82 51.25,48.55 52.87,50.31 54.49,52.09 56.11,53.82 57.73,55.58 59.35,57.55 60.97,59.77 62.59,62.28 64.22,64.86 65.84,67.30 67.46,69.50 69.08,71.46 70.70,73.23 72.32,74.92 73.94,76.55 75.56,78.12 77.18,79.64 78.80,81.12 80.43,82.56 82.05,83.96 83.67,85.33 85.29,86.66 86.91,87.95 88.53,89.19 90.15,90.40 91.77,91.58 93.39,92.74 95.02,93.88 96.64,95.01 98.26,96.14 99.88,97.26 101.50,98.39 103.12,99.52 104.74,100.65 106.36,101.77 107.98,102.88 109.60,103.99 111.23,105.09 112.85,106.18 114.47,107.27 116.09,108.37 117.71,109.46 119.33,110.55 120.95,111.65 122.57,112.75 124.19,113.86 125.81,114.98 127.44,116.10 129.06,117.22 130.68,118.34 132.30,119.46 133.92,120.59 135.54,121.72 137.16,122.84 138.78,123.97 140.40,125.10 142.02,126.23 143.65,127.35 145.27,128.48" fill="none" stroke="#1c0406" stroke-width="1.25" stroke-opacity="1.0" stroke-linejoin="round" clip-path="url(#ca)"/>
<polyline points="39.00,119.77 39.45,116.26 39.91,113.48 40.36,111.42 40.82,109.59 41.27,107.79 41.73,106.10 42.18,104.53 42.64,103.14 43.09,101.91 43.54,100.83 44.00,99.93 44.45,99.18 44.91,98.53 45.36,97.99 45.82,97.52 46.27,97.11 46.73,96.73 47.18,96.38 47.63,96.04 48.09,95.69 48.54,95.35 49.00,94.99 49.45,94.63 49.91,94.25 51.57,92.83 53.23,91.43 54.90,90.04 56.56,88.68 58.23,87.35 59.89,86.06 61.55,84.81 63.22,83.67 64.88,82.73 66.54,81.92 68.21,81.05 69.87,80.03 71.54,78.85 73.20,77.55 74.86,76.15 76.53,74.68 78.19,73.16 79.85,71.62 81.52,70.06 83.18,68.48 84.84,66.90 86.51,65.31 88.17,63.73 89.84,62.16 91.50,60.60 93.16,59.05 94.83,57.53 96.49,56.04 98.15,54.58 99.82,53.18 101.48,51.86 103.15,50.59 104.81,49.39 106.47,48.25 108.14,47.16 109.80,46.12 111.46,45.10 113.13,44.10 114.79,43.09 116.46,42.06 118.12,40.98 119.78,39.85 121.45,38.70 123.11,37.52 124.77,36.34 126.44,35.15 128.10,33.96 129.77,32.77 131.43,31.58 133.09,30.42 134.76,29.28 136.42,28.18 138.08,27.14 139.75,26.17 141.41,25.26 143.08,24.41 144.74,23.59 146.40,22.81 148.07,22.00" fill="none" stroke="#1c0406" stroke-width="1.25" stroke-opacity="1.0" stroke-linejoin="round" clip-path="url(#ca)"/>
<polyline points="39.00,89.76 39.63,89.44 40.41,89.06 41.32,88.62 42.33,88.13 43.44,87.59 44.62,87.01 45.87,86.39 47.15,85.74 48.45,85.08 49.76,84.39 51.06,83.69 52.33,82.98 53.61,82.26 54.92,81.50 56.27,80.70 57.64,79.88 59.04,79.04 60.46,78.17 61.89,77.30 63.32,76.41 64.76,75.51 66.18,74.61 67.60,73.71 69.00,72.82 70.40,71.93 71.80,71.03 73.22,70.12 74.64,69.20 76.06,68.27 77.47,67.34 78.88,66.41 80.28,65.47 81.66,64.53 83.02,63.58 84.36,62.64 85.67,61.69 86.95,60.73 88.21,59.76 89.44,58.77 90.66,57.78 91.87,56.78 93.06,55.79 94.24,54.80 95.41,53.82 96.58,52.85 97.74,51.90 98.90,50.97 100.07,50.07 101.25,49.18 102.44,48.29 103.65,47.40 104.87,46.52 106.07,45.66 107.27,44.81 108.44,43.98 109.58,43.19 110.68,42.43 111.73,41.70 112.73,41.02 113.67,40.39 114.51,39.82 115.24,39.31 115.89,38.84 116.48,38.42 117.03,38.03 117.56,37.67 118.10,37.32 118.66,36.99 119.28,36.65 119.97,36.30 120.76,35.94 121.67,35.55 122.70,35.15 123.84,34.74 125.08,34.33 126.38,33.92 127.74,33.51 129.12,33.10 130.52,32.69 131.91,32.29 133.28,31.89 134.59,31.49 135.84,31.10 137.00,30.71 138.09,30.33 139.13,29.96 140.14,29.59 141.12,29.22 142.07,28.86 142.99,28.50 143.90,28.15 144.79,27.79 145.68,27.43 146.56,27.08 147.44,26.72 148.33,26.36 149.25,25.98 150.21,25.58 151.19,25.16 152.18,24.74 153.15,24.32 154.11,23.91 155.02,23.51 155.88,23.13 156.67,22.78 157.38,22.47 157.98,22.21 158.47,22.00" fill="none" stroke="#ec1620" stroke-width="1.1" stroke-opacity="1.0" stroke-linejoin="round" clip-path="url(#ca)"/>
<rect x="42.8" y="131.9" width="147.2" height="9" fill="url(#gra)"/>
<text x="43.60" y="141.00" font-size="12.5" font-weight="normal" text-anchor="start" fill="#ffffff" stroke="#ffffff" stroke-width="0.28">100</text>
<text x="180.20" y="141.00" font-size="12.5" font-weight="bold" text-anchor="start" fill="#ffffff" stroke="#ffffff" stroke-width="0.28">1</text>
<text x="46.20" y="127.60" font-size="10.0" font-weight="bold" text-anchor="start" fill="#1c1c1c" stroke="#1c1c1c" stroke-width="0.28">KFMTO</text>
<rect x="39.00" y="22.00" width="160.00" height="121.00" fill="none" stroke="#2a2a2a" stroke-width="1.3"/>
<text x="225.30" y="13.80" font-size="18" font-weight="bold" text-anchor="start" fill="#1c1c1c" stroke="#1c1c1c" stroke-width="0.28">b</text>
<line x1="252.00" y1="142.00" x2="252.00" y2="145.30" stroke="#2a2a2a" stroke-width="0.9"/>
<text transform="translate(252.00 151.50) scale(0.93 1.12)" font-size="7.9" font-weight="bold" text-anchor="middle" fill="#1c1c1c" stroke="#1c1c1c" stroke-width="0.28">0</text>
<line x1="265.38" y1="142.00" x2="265.38" y2="144.00" stroke="#2a2a2a" stroke-width="0.9"/>
<line x1="278.75" y1="142.00" x2="278.75" y2="145.30" stroke="#2a2a2a" stroke-width="0.9"/>
<text transform="translate(278.75 151.50) scale(0.93 1.12)" font-size="7.9" font-weight="bold" text-anchor="middle" fill="#1c1c1c" stroke="#1c1c1c" stroke-width="0.28">20</text>
<line x1="292.12" y1="142.00" x2="292.12" y2="144.00" stroke="#2a2a2a" stroke-width="0.9"/>
<line x1="305.50" y1="142.00" x2="305.50" y2="145.30" stroke="#2a2a2a" stroke-width="0.9"/>
<text transform="translate(305.50 151.50) scale(0.93 1.12)" font-size="7.9" font-weight="bold" text-anchor="middle" fill="#1c1c1c" stroke="#1c1c1c" stroke-width="0.28">40</text>
<line x1="318.88" y1="142.00" x2="318.88" y2="144.00" stroke="#2a2a2a" stroke-width="0.9"/>
<line x1="332.25" y1="142.00" x2="332.25" y2="145.30" stroke="#2a2a2a" stroke-width="0.9"/>
<text transform="translate(332.25 151.50) scale(0.93 1.12)" font-size="7.9" font-weight="bold" text-anchor="middle" fill="#1c1c1c" stroke="#1c1c1c" stroke-width="0.28">60</text>
<line x1="345.62" y1="142.00" x2="345.62" y2="144.00" stroke="#2a2a2a" stroke-width="0.9"/>
<line x1="359.00" y1="142.00" x2="359.00" y2="145.30" stroke="#2a2a2a" stroke-width="0.9"/>
<text transform="translate(359.00 151.50) scale(0.93 1.12)" font-size="7.9" font-weight="bold" text-anchor="middle" fill="#1c1c1c" stroke="#1c1c1c" stroke-width="0.28">80</text>
<line x1="372.38" y1="142.00" x2="372.38" y2="144.00" stroke="#2a2a2a" stroke-width="0.9"/>
<line x1="385.75" y1="142.00" x2="385.75" y2="145.30" stroke="#2a2a2a" stroke-width="0.9"/>
<text transform="translate(385.75 151.50) scale(0.93 1.12)" font-size="7.9" font-weight="bold" text-anchor="middle" fill="#1c1c1c" stroke="#1c1c1c" stroke-width="0.28">100</text>
<line x1="399.12" y1="142.00" x2="399.12" y2="144.00" stroke="#2a2a2a" stroke-width="0.9"/>
<line x1="412.50" y1="142.00" x2="412.50" y2="145.30" stroke="#2a2a2a" stroke-width="0.9"/>
<text transform="translate(412.50 151.50) scale(0.93 1.12)" font-size="7.9" font-weight="bold" text-anchor="middle" fill="#1c1c1c" stroke="#1c1c1c" stroke-width="0.28">120</text>
<line x1="248.70" y1="142.00" x2="252.00" y2="142.00" stroke="#2a2a2a" stroke-width="0.9"/>
<text transform="translate(249.30 144.70) scale(0.93 1.12)" font-size="7.9" font-weight="bold" text-anchor="end" fill="#1c1c1c" stroke="#1c1c1c" stroke-width="0.28">1.5</text>
<line x1="250.00" y1="129.97" x2="252.00" y2="129.97" stroke="#2a2a2a" stroke-width="0.9"/>
<line x1="248.70" y1="117.94" x2="252.00" y2="117.94" stroke="#2a2a2a" stroke-width="0.9"/>
<text transform="translate(249.30 120.64) scale(0.93 1.12)" font-size="7.9" font-weight="bold" text-anchor="end" fill="#1c1c1c" stroke="#1c1c1c" stroke-width="0.28">2.0</text>
<line x1="250.00" y1="105.91" x2="252.00" y2="105.91" stroke="#2a2a2a" stroke-width="0.9"/>
<line x1="248.70" y1="93.88" x2="252.00" y2="93.88" stroke="#2a2a2a" stroke-width="0.9"/>
<text transform="translate(249.30 96.58) scale(0.93 1.12)" font-size="7.9" font-weight="bold" text-anchor="end" fill="#1c1c1c" stroke="#1c1c1c" stroke-width="0.28">2.5</text>
<line x1="250.00" y1="81.85" x2="252.00" y2="81.85" stroke="#2a2a2a" stroke-width="0.9"/>
<line x1="248.70" y1="69.82" x2="252.00" y2="69.82" stroke="#2a2a2a" stroke-width="0.9"/>
<text transform="translate(249.30 72.52) scale(0.93 1.12)" font-size="7.9" font-weight="bold" text-anchor="end" fill="#1c1c1c" stroke="#1c1c1c" stroke-width="0.28">3.0</text>
<line x1="250.00" y1="57.79" x2="252.00" y2="57.79" stroke="#2a2a2a" stroke-width="0.9"/>
<line x1="248.70" y1="45.76" x2="252.00" y2="45.76" stroke="#2a2a2a" stroke-width="0.9"/>
<text transform="translate(249.30 48.46) scale(0.93 1.12)" font-size="7.9" font-weight="bold" text-anchor="end" fill="#1c1c1c" stroke="#1c1c1c" stroke-width="0.28">3.5</text>
<line x1="250.00" y1="33.73" x2="252.00" y2="33.73" stroke="#2a2a2a" stroke-width="0.9"/>
<line x1="248.70" y1="21.70" x2="252.00" y2="21.70" stroke="#2a2a2a" stroke-width="0.9"/>
<text transform="translate(249.30 24.40) scale(0.93 1.12)" font-size="7.9" font-weight="bold" text-anchor="end" fill="#1c1c1c" stroke="#1c1c1c" stroke-width="0.28">4.0</text>
<text x="267.00" y="164.20" font-size="10.1" font-weight="bold" text-anchor="start" fill="#1c1c1c" stroke="#1c1c1c" stroke-width="0.28">Specific Capacity (mAh g<tspan dy="-4.85" font-size="6.26">-1</tspan><tspan dy="4.85">)</tspan></text>
<text x="231.20" y="86.30" font-size="10.3" font-weight="bold" text-anchor="middle" fill="#1c1c1c" stroke="#1c1c1c" stroke-width="0.28" transform="rotate(-90 231.20 86.30)">Voltage (V vs K/K<tspan dy="-4.94" font-size="7.73">+</tspan><tspan dy="4.94">)</tspan></text>
<text x="261.30" y="33.90" font-size="10.0" font-weight="bold" text-anchor="start" fill="#1c1c1c" stroke="#1c1c1c" stroke-width="0.28">20 mA g<tspan dy="-4.80" font-size="6.20">-1</tspan></text>
<polyline points="252.00,76.56 253.20,75.76 254.70,74.77 256.45,73.59 258.41,72.28 260.55,70.85 262.82,69.34 265.18,67.77 267.60,66.18 270.03,64.60 272.44,63.06 274.78,61.58 277.01,60.20 279.19,58.87 281.40,57.53 283.63,56.19 285.87,54.85 288.13,53.52 290.40,52.20 292.68,50.89 294.96,49.61 297.24,48.35 299.51,47.13 301.78,45.94 304.03,44.80 306.25,43.70 308.43,42.64 310.59,41.63 312.73,40.65 314.87,39.69 317.03,38.75 319.21,37.83 321.42,36.92 323.69,36.01 326.02,35.10 328.42,34.18 330.91,33.25 333.60,32.28 336.55,31.25 339.68,30.20 342.94,29.13 346.24,28.07 349.52,27.02 352.72,26.02 355.76,25.07 358.58,24.19 361.11,23.41 363.28,22.73 365.02,22.18 366.32,21.77 367.23,21.48 367.82,21.31 368.14,21.22 368.23,21.21 368.15,21.25 367.96,21.33 367.69,21.43 367.42,21.54 367.18,21.63 367.03,21.69 367.02,21.70" fill="none" stroke="#6088d4" stroke-width="1.4" stroke-opacity="1.0" stroke-linejoin="round" clip-path="url(#cb)"/>
<polyline points="252.00,26.51 252.64,27.75 253.29,28.28 253.93,28.80 254.58,29.32 255.22,29.83 255.87,30.34 256.51,30.85 257.16,31.36 257.80,31.86 258.45,32.37 259.09,32.87 259.74,33.37 260.38,33.88 261.03,34.38 261.67,34.88 262.32,35.38 262.96,35.88 263.61,36.38 264.25,36.88 264.90,37.38 265.54,37.88 266.19,38.38 266.83,38.88 267.47,39.37 269.84,41.19 272.20,43.01 274.56,44.81 276.92,46.61 279.28,48.41 281.64,50.20 284.00,51.98 286.36,53.75 288.72,55.55 291.08,57.41 293.44,59.31 295.80,61.22 298.16,63.12 300.52,64.99 302.88,66.80 305.24,68.55 307.60,70.24 309.97,71.89 312.33,73.50 314.69,75.06 317.05,76.60 319.41,78.09 321.77,79.58 324.13,81.02 326.49,82.46 328.85,83.87 331.21,85.28 333.57,86.68 335.93,88.07 338.29,89.45 340.65,90.83 343.01,92.20 345.37,93.56 347.73,94.93 350.09,96.29 352.46,97.65 354.82,99.00 357.18,100.36 359.54,101.71 361.90,103.06 364.26,104.40 366.62,105.75 368.98,107.09 371.34,108.43 373.70,109.77 376.06,111.11 378.42,112.45 380.78,113.79 383.14,115.13 385.50,116.46 387.86,117.80 390.22,119.14 392.59,120.47 394.95,121.81 397.31,123.15 399.67,124.49 402.03,125.83 404.39,127.18 406.75,128.53" fill="none" stroke="#7c9ad8" stroke-width="1.1" stroke-opacity="1.0" stroke-linejoin="round" clip-path="url(#cb)"/>
<polyline points="252.00,122.75 252.65,119.85 253.30,117.40 253.96,115.65 254.61,114.16 255.26,112.69 255.91,111.48 256.56,110.52 257.22,109.73 257.87,109.05 258.52,108.46 259.17,107.93 259.82,107.44 260.48,106.97 261.13,106.52 261.78,106.11 262.43,105.71 263.08,105.32 263.74,104.95 264.39,104.58 265.04,104.22 265.69,103.88 266.34,103.53 267.00,103.19 267.65,102.85 270.04,101.64 272.42,100.44 274.81,99.27 277.20,98.14 279.58,97.03 281.97,95.93 284.36,94.84 286.75,93.75 289.13,92.66 291.52,91.56 293.91,90.45 296.29,89.32 298.68,88.17 301.07,87.01 303.46,85.86 305.84,84.71 308.23,83.53 310.62,82.29 313.00,80.99 315.39,79.65 317.78,78.29 320.16,76.91 322.55,75.51 324.94,74.10 327.33,72.69 329.71,71.27 332.10,69.84 334.49,68.41 336.87,66.98 339.26,65.54 341.65,64.10 344.04,62.65 346.42,61.20 348.81,59.75 351.20,58.29 353.58,56.84 355.97,55.37 358.36,53.91 360.75,52.44 363.13,50.97 365.52,49.49 367.91,48.01 370.29,46.52 372.68,45.02 375.07,43.50 377.46,41.98 379.84,40.45 382.23,38.91 384.62,37.37 387.00,35.81 389.39,34.26 391.78,32.69 394.16,31.13 396.55,29.56 398.94,27.98 401.33,26.41 403.71,24.83 406.10,23.26 408.49,21.70" fill="none" stroke="#7c9ad8" stroke-width="1.1" stroke-opacity="1.0" stroke-linejoin="round" clip-path="url(#cb)"/>
<polyline points="252.00,26.41 252.63,27.78 253.26,28.32 253.89,28.85 254.53,29.37 255.16,29.88 255.79,30.40 256.42,30.91 257.05,31.42 257.68,31.92 258.31,32.43 258.95,32.94 259.58,33.44 260.21,33.95 260.84,34.45 261.47,34.95 262.10,35.46 262.74,35.96 263.37,36.46 264.00,36.96 264.63,37.46 265.26,37.97 265.89,38.47 266.52,38.96 267.16,39.46 269.47,41.29 271.78,43.10 274.09,44.92 276.40,46.72 278.71,48.52 281.03,50.31 283.34,52.09 285.65,53.86 287.96,55.66 290.27,57.50 292.59,59.38 294.90,61.27 297.21,63.14 299.52,64.98 301.83,66.78 304.15,68.51 306.46,70.20 308.77,71.84 311.08,73.45 313.39,75.01 315.70,76.55 318.02,78.05 320.33,79.54 322.64,80.99 324.95,82.43 327.26,83.85 329.58,85.26 331.89,86.67 334.20,88.06 336.51,89.45 338.82,90.83 341.14,92.21 343.45,93.58 345.76,94.95 348.07,96.31 350.38,97.67 352.69,99.02 355.01,100.38 357.32,101.73 359.63,103.07 361.94,104.42 364.25,105.77 366.57,107.11 368.88,108.45 371.19,109.79 373.50,111.13 375.81,112.47 378.13,113.80 380.44,115.14 382.75,116.47 385.06,117.81 387.37,119.15 389.68,120.48 392.00,121.82 394.31,123.15 396.62,124.49 398.93,125.83 401.24,127.18 403.56,128.53" fill="none" stroke="#7591d3" stroke-width="1.1" stroke-opacity="1.0" stroke-linejoin="round" clip-path="url(#cb)"/>
<polyline points="252.00,122.43 252.64,119.38 253.28,116.91 253.92,115.16 254.57,113.66 255.21,112.22 255.85,111.02 256.49,110.06 257.13,109.27 257.77,108.59 258.42,108.00 259.06,107.46 259.70,106.96 260.34,106.49 260.98,106.04 261.62,105.62 262.27,105.21 262.91,104.82 263.55,104.44 264.19,104.06 264.83,103.70 265.47,103.34 266.12,102.99 266.76,102.65 267.40,102.30 269.75,101.06 272.10,99.83 274.45,98.65 276.79,97.50 279.14,96.38 281.49,95.26 283.84,94.14 286.19,93.03 288.54,91.92 290.89,90.80 293.24,89.67 295.59,88.53 297.93,87.36 300.28,86.18 302.63,85.02 304.98,83.85 307.33,82.65 309.68,81.40 312.03,80.10 314.38,78.76 316.73,77.39 319.08,76.01 321.42,74.61 323.77,73.21 326.12,71.80 328.47,70.38 330.82,68.95 333.17,67.53 335.52,66.10 337.87,64.66 340.22,63.22 342.56,61.79 344.91,60.34 347.26,58.90 349.61,57.45 351.96,55.99 354.31,54.54 356.66,53.08 359.01,51.62 361.36,50.16 363.71,48.69 366.05,47.22 368.40,45.75 370.75,44.26 373.10,42.77 375.45,41.27 377.80,39.76 380.15,38.25 382.50,36.73 384.85,35.22 387.19,33.70 389.54,32.19 391.89,30.68 394.24,29.18 396.59,27.68 398.94,26.18 401.29,24.68 403.64,23.19 405.99,21.70" fill="none" stroke="#7591d3" stroke-width="1.1" stroke-opacity="1.0" stroke-linejoin="round" clip-path="url(#cb)"/>
<polyline points="252.00,26.30 252.62,27.81 253.24,28.36 253.85,28.89 254.47,29.42 255.09,29.94 255.71,30.45 256.33,30.96 256.95,31.47 257.56,31.99 258.18,32.49 258.80,33.00 259.42,33.51 260.04,34.02 260.65,34.52 261.27,35.03 261.89,35.53 262.51,36.04 263.13,36.54 263.75,37.05 264.36,37.55 264.98,38.05 265.60,38.55 266.22,39.05 266.84,39.55 269.10,41.38 271.36,43.20 273.63,45.02 275.89,46.83 278.15,48.63 280.42,50.42 282.68,52.20 284.94,53.97 287.20,55.76 289.47,57.59 291.73,59.45 293.99,61.31 296.26,63.16 298.52,64.98 300.78,66.75 303.05,68.48 305.31,70.16 307.57,71.80 309.84,73.40 312.10,74.96 314.36,76.50 316.63,78.01 318.89,79.50 321.15,80.95 323.42,82.41 325.68,83.83 327.94,85.25 330.21,86.67 332.47,88.06 334.73,89.45 336.99,90.84 339.26,92.22 341.52,93.59 343.78,94.96 346.05,96.32 348.31,97.68 350.57,99.04 352.84,100.39 355.10,101.74 357.36,103.09 359.63,104.44 361.89,105.78 364.15,107.12 366.42,108.46 368.68,109.80 370.94,111.14 373.21,112.48 375.47,113.82 377.73,115.15 379.99,116.49 382.26,117.82 384.52,119.15 386.78,120.49 389.05,121.82 391.31,123.16 393.57,124.50 395.84,125.83 398.10,127.18 400.36,128.53" fill="none" stroke="#6782ca" stroke-width="1.1" stroke-opacity="1.0" stroke-linejoin="round" clip-path="url(#cb)"/>
<polyline points="252.00,122.12 252.63,118.90 253.26,116.41 253.89,114.67 254.52,113.17 255.16,111.74 255.79,110.56 256.42,109.60 257.05,108.81 257.68,108.13 258.31,107.53 258.94,106.99 259.57,106.48 260.21,106.01 260.84,105.55 261.47,105.13 262.10,104.71 262.73,104.31 263.36,103.93 263.99,103.55 264.62,103.18 265.25,102.81 265.89,102.45 266.52,102.10 267.15,101.75 269.46,100.48 271.77,99.23 274.08,98.03 276.39,96.86 278.70,95.72 281.01,94.58 283.32,93.45 285.63,92.31 287.95,91.18 290.26,90.04 292.57,88.89 294.88,87.73 297.19,86.55 299.50,85.36 301.81,84.18 304.12,82.99 306.43,81.78 308.74,80.51 311.05,79.20 313.36,77.86 315.68,76.49 317.99,75.11 320.30,73.71 322.61,72.31 324.92,70.90 327.23,69.48 329.54,68.07 331.85,66.64 334.16,65.22 336.47,63.79 338.78,62.35 341.09,60.92 343.40,59.48 345.72,58.04 348.03,56.60 350.34,55.15 352.65,53.70 354.96,52.26 357.27,50.80 359.58,49.35 361.89,47.90 364.20,46.44 366.51,44.98 368.82,43.51 371.13,42.03 373.44,40.55 375.76,39.07 378.07,37.58 380.38,36.10 382.69,34.62 385.00,33.15 387.31,31.69 389.62,30.24 391.93,28.80 394.24,27.37 396.55,25.95 398.86,24.53 401.17,23.11 403.49,21.70" fill="none" stroke="#6782ca" stroke-width="1.1" stroke-opacity="1.0" stroke-linejoin="round" clip-path="url(#cb)"/>
<polyline points="252.00,26.19 252.60,27.84 253.21,28.40 253.81,28.94 254.42,29.46 255.02,29.99 255.63,30.50 256.23,31.02 256.84,31.53 257.44,32.05 258.05,32.56 258.65,33.07 259.26,33.58 259.86,34.09 260.47,34.60 261.07,35.10 261.68,35.61 262.28,36.12 262.89,36.62 263.49,37.13 264.10,37.63 264.70,38.14 265.31,38.64 265.91,39.14 266.52,39.64 268.73,41.48 270.95,43.30 273.16,45.12 275.37,46.93 277.59,48.73 279.80,50.53 282.02,52.31 284.23,54.08 286.45,55.86 288.66,57.68 290.88,59.51 293.09,61.35 295.31,63.18 297.52,64.97 299.73,66.73 301.95,68.44 304.16,70.11 306.38,71.75 308.59,73.35 310.81,74.91 313.02,76.46 315.24,77.96 317.45,79.46 319.66,80.92 321.88,82.38 324.09,83.82 326.31,85.24 328.52,86.66 330.74,88.06 332.95,89.46 335.17,90.85 337.38,92.23 339.59,93.60 341.81,94.97 344.02,96.34 346.24,97.70 348.45,99.06 350.67,100.41 352.88,101.76 355.10,103.11 357.31,104.45 359.52,105.80 361.74,107.14 363.95,108.48 366.17,109.82 368.38,111.16 370.60,112.49 372.81,113.83 375.03,115.16 377.24,116.50 379.46,117.83 381.67,119.16 383.88,120.50 386.10,121.83 388.31,123.16 390.53,124.50 392.74,125.84 394.96,127.18 397.17,128.53" fill="none" stroke="#5a73c1" stroke-width="1.1" stroke-opacity="1.0" stroke-linejoin="round" clip-path="url(#cb)"/>
<polyline points="252.00,121.80 252.62,118.43 253.24,115.91 253.86,114.18 254.48,112.68 255.10,111.26 255.72,110.09 256.35,109.15 256.97,108.35 257.59,107.67 258.21,107.07 258.83,106.52 259.45,106.01 260.07,105.53 260.69,105.07 261.31,104.63 261.93,104.22 262.55,103.81 263.17,103.42 263.79,103.03 264.42,102.65 265.04,102.28 265.66,101.92 266.28,101.55 266.90,101.19 269.17,99.90 271.44,98.62 273.72,97.40 275.99,96.22 278.26,95.06 280.53,93.91 282.81,92.75 285.08,91.59 287.35,90.44 289.62,89.28 291.90,88.11 294.17,86.93 296.44,85.74 298.72,84.53 300.99,83.33 303.26,82.13 305.53,80.90 307.81,79.63 310.08,78.31 312.35,76.96 314.62,75.59 316.90,74.21 319.17,72.81 321.44,71.41 323.71,70.00 325.99,68.59 328.26,67.18 330.53,65.76 332.80,64.34 335.08,62.91 337.35,61.48 339.62,60.05 341.90,58.62 344.17,57.18 346.44,55.75 348.71,54.31 350.99,52.87 353.26,51.43 355.53,49.99 357.80,48.54 360.08,47.10 362.35,45.66 364.62,44.21 366.89,42.76 369.17,41.30 371.44,39.84 373.71,38.38 375.99,36.92 378.26,35.47 380.53,34.02 382.80,32.59 385.08,31.18 387.35,29.79 389.62,28.42 391.89,27.06 394.17,25.71 396.44,24.37 398.71,23.04 400.98,21.70" fill="none" stroke="#5a73c1" stroke-width="1.1" stroke-opacity="1.0" stroke-linejoin="round" clip-path="url(#cb)"/>
<polyline points="252.00,26.10 252.59,27.87 253.19,28.43 253.78,28.98 254.37,29.51 254.96,30.04 255.56,30.55 256.15,31.07 256.74,31.59 257.34,32.10 257.93,32.62 258.52,33.13 259.11,33.64 259.71,34.15 260.30,34.66 260.89,35.17 261.48,35.68 262.08,36.19 262.67,36.70 263.26,37.20 263.86,37.71 264.45,38.21 265.04,38.72 265.63,39.22 266.23,39.73 268.40,41.56 270.57,43.39 272.74,45.22 274.91,47.03 277.08,48.83 279.25,50.62 281.42,52.41 283.59,54.18 285.76,55.96 287.93,57.76 290.10,59.57 292.27,61.39 294.44,63.19 296.61,64.97 298.78,66.71 300.95,68.41 303.12,70.07 305.29,71.71 307.46,73.30 309.63,74.87 311.80,76.42 313.97,77.92 316.14,79.43 318.31,80.89 320.48,82.35 322.65,83.80 324.82,85.23 326.99,86.65 329.16,88.06 331.33,89.46 333.50,90.85 335.67,92.24 337.84,93.61 340.01,94.99 342.18,96.35 344.35,97.71 346.52,99.07 348.69,100.43 350.86,101.78 353.03,103.13 355.20,104.47 357.38,105.82 359.55,107.16 361.72,108.50 363.89,109.83 366.06,111.17 368.23,112.51 370.40,113.84 372.57,115.18 374.74,116.51 376.91,117.84 379.08,119.17 381.25,120.50 383.42,121.84 385.59,123.17 387.76,124.50 389.93,125.84 392.10,127.18 394.27,128.53" fill="none" stroke="#4e65b9" stroke-width="1.1" stroke-opacity="1.0" stroke-linejoin="round" clip-path="url(#cb)"/>
<polyline points="252.00,121.51 252.61,118.00 253.22,115.46 253.83,113.74 254.45,112.23 255.06,110.83 255.67,109.67 256.28,108.73 256.89,107.94 257.50,107.25 258.11,106.64 258.72,106.09 259.34,105.58 259.95,105.09 260.56,104.63 261.17,104.19 261.78,103.76 262.39,103.35 263.00,102.95 263.61,102.56 264.23,102.18 264.84,101.80 265.45,101.43 266.06,101.06 266.67,100.69 268.91,99.37 271.15,98.07 273.38,96.83 275.62,95.64 277.86,94.47 280.10,93.29 282.34,92.11 284.57,90.94 286.81,89.76 289.05,88.59 291.29,87.40 293.53,86.21 295.76,85.00 298.00,83.78 300.24,82.57 302.48,81.35 304.72,80.10 306.95,78.82 309.19,77.50 311.43,76.15 313.67,74.78 315.91,73.39 318.14,72.00 320.38,70.60 322.62,69.19 324.86,67.78 327.10,66.37 329.33,64.96 331.57,63.54 333.81,62.12 336.05,60.69 338.29,59.27 340.52,57.84 342.76,56.41 345.00,54.98 347.24,53.54 349.48,52.11 351.71,50.68 353.95,49.24 356.19,47.81 358.43,46.38 360.67,44.94 362.90,43.51 365.14,42.08 367.38,40.63 369.62,39.19 371.85,37.75 374.09,36.31 376.33,34.89 378.57,33.48 380.81,32.09 383.04,30.72 385.28,29.39 387.52,28.08 389.76,26.78 392.00,25.50 394.23,24.23 396.47,22.97 398.71,21.70" fill="none" stroke="#4e65b9" stroke-width="1.1" stroke-opacity="1.0" stroke-linejoin="round" clip-path="url(#cb)"/>
<polyline points="252.00,26.01 252.58,27.89 253.16,28.46 253.75,29.01 254.33,29.55 254.91,30.08 255.49,30.60 256.07,31.12 256.66,31.64 257.24,32.15 257.82,32.67 258.40,33.18 258.98,33.70 259.56,34.21 260.15,34.72 260.73,35.23 261.31,35.74 261.89,36.25 262.47,36.76 263.06,37.27 263.64,37.78 264.22,38.28 264.80,38.79 265.38,39.29 265.97,39.80 268.10,41.64 270.23,43.48 272.36,45.30 274.49,47.11 276.62,48.92 278.75,50.71 280.88,52.50 283.01,54.27 285.14,56.04 287.27,57.83 289.40,59.63 291.53,61.42 293.66,63.21 295.79,64.97 297.92,66.69 300.05,68.38 302.18,70.04 304.31,71.67 306.44,73.26 308.57,74.83 310.70,76.38 312.83,77.89 314.96,79.39 317.09,80.87 319.22,82.33 321.35,83.78 323.49,85.21 325.62,86.64 327.75,88.06 329.88,89.46 332.01,90.86 334.14,92.25 336.27,93.62 338.40,95.00 340.53,96.37 342.66,97.73 344.79,99.09 346.92,100.44 349.05,101.79 351.18,103.14 353.31,104.48 355.44,105.83 357.57,107.17 359.70,108.51 361.83,109.85 363.96,111.18 366.09,112.52 368.22,113.85 370.35,115.19 372.48,116.52 374.61,117.85 376.74,119.18 378.87,120.51 381.00,121.84 383.13,123.17 385.27,124.51 387.40,125.84 389.53,127.18 391.66,128.53" fill="none" stroke="#4359b2" stroke-width="1.1" stroke-opacity="1.0" stroke-linejoin="round" clip-path="url(#cb)"/>
<polyline points="252.00,121.25 252.60,117.61 253.21,115.05 253.81,113.34 254.41,111.82 255.01,110.44 255.62,109.30 256.22,108.35 256.82,107.56 257.42,106.87 258.03,106.26 258.63,105.71 259.23,105.19 259.84,104.70 260.44,104.23 261.04,103.79 261.64,103.36 262.25,102.94 262.85,102.53 263.45,102.14 264.06,101.75 264.66,101.36 265.26,100.99 265.86,100.61 266.47,100.24 268.67,98.89 270.88,97.58 273.09,96.32 275.29,95.12 277.50,93.93 279.71,92.74 281.91,91.54 284.12,90.35 286.33,89.16 288.53,87.96 290.74,86.77 292.95,85.56 295.15,84.33 297.36,83.10 299.57,81.88 301.77,80.65 303.98,79.39 306.19,78.09 308.39,76.77 310.60,75.41 312.81,74.04 315.01,72.66 317.22,71.26 319.43,69.86 321.63,68.46 323.84,67.05 326.05,65.64 328.26,64.23 330.46,62.82 332.67,61.40 334.88,59.98 337.08,58.56 339.29,57.13 341.50,55.71 343.70,54.28 345.91,52.85 348.12,51.43 350.32,50.00 352.53,48.57 354.74,47.15 356.94,45.72 359.15,44.30 361.36,42.89 363.56,41.46 365.77,40.03 367.98,38.61 370.18,37.18 372.39,35.77 374.60,34.37 376.80,32.99 379.01,31.64 381.22,30.31 383.42,29.03 385.63,27.77 387.84,26.53 390.04,25.32 392.25,24.11 394.46,22.91 396.66,21.70" fill="none" stroke="#4359b2" stroke-width="1.1" stroke-opacity="1.0" stroke-linejoin="round" clip-path="url(#cb)"/>
<polyline points="252.00,25.93 252.57,27.92 253.14,28.49 253.72,29.04 254.29,29.58 254.86,30.12 255.43,30.64 256.01,31.16 256.58,31.68 257.15,32.20 257.72,32.72 258.29,33.23 258.87,33.75 259.44,34.26 260.01,34.77 260.58,35.29 261.16,35.80 261.73,36.31 262.30,36.82 262.87,37.33 263.44,37.84 264.02,38.35 264.59,38.85 265.16,39.36 265.73,39.86 267.83,41.71 269.92,43.55 272.02,45.37 274.11,47.19 276.21,49.00 278.30,50.79 280.40,52.58 282.49,54.35 284.59,56.12 286.68,57.90 288.78,59.68 290.87,61.45 292.97,63.22 295.06,64.96 297.16,66.68 299.25,68.36 301.35,70.01 303.44,71.63 305.54,73.23 307.63,74.79 309.73,76.34 311.82,77.86 313.92,79.37 316.01,80.85 318.11,82.31 320.20,83.77 322.30,85.20 324.39,86.64 326.49,88.06 328.58,89.47 330.68,90.86 332.77,92.26 334.87,93.63 336.96,95.01 339.06,96.38 341.15,97.74 343.25,99.10 345.34,100.45 347.44,101.80 349.53,103.15 351.63,104.50 353.72,105.84 355.82,107.18 357.91,108.52 360.01,109.86 362.10,111.19 364.20,112.53 366.29,113.86 368.39,115.19 370.48,116.52 372.58,117.86 374.67,119.19 376.76,120.52 378.86,121.85 380.95,123.18 383.05,124.51 385.14,125.84 387.24,127.18 389.33,128.53" fill="none" stroke="#3a4dac" stroke-width="1.1" stroke-opacity="1.0" stroke-linejoin="round" clip-path="url(#cb)"/>
<polyline points="252.00,121.02 252.60,117.27 253.19,114.69 253.79,112.98 254.38,111.46 254.98,110.09 255.57,108.96 256.17,108.02 256.76,107.23 257.36,106.54 257.95,105.92 258.55,105.36 259.14,104.84 259.74,104.35 260.33,103.88 260.93,103.43 261.52,103.00 262.12,102.57 262.71,102.16 263.31,101.76 263.90,101.37 264.50,100.98 265.09,100.59 265.69,100.21 266.28,99.84 268.46,98.47 270.64,97.14 272.82,95.87 275.00,94.65 277.18,93.45 279.36,92.25 281.54,91.03 283.72,89.82 285.90,88.62 288.07,87.41 290.25,86.20 292.43,84.98 294.61,83.74 296.79,82.50 298.97,81.27 301.15,80.02 303.33,78.75 305.51,77.45 307.69,76.12 309.86,74.76 312.04,73.39 314.22,72.00 316.40,70.61 318.58,69.21 320.76,67.81 322.94,66.40 325.12,65.00 327.30,63.59 329.48,62.18 331.65,60.76 333.83,59.35 336.01,57.93 338.19,56.51 340.37,55.09 342.55,53.66 344.73,52.24 346.91,50.82 349.09,49.40 351.27,47.98 353.44,46.56 355.62,45.15 357.80,43.73 359.98,42.33 362.16,40.91 364.34,39.50 366.52,38.09 368.70,36.68 370.88,35.28 373.06,33.91 375.23,32.56 377.41,31.24 379.59,29.95 381.77,28.70 383.95,27.50 386.13,26.31 388.31,25.15 390.49,24.00 392.67,22.85 394.85,21.70" fill="none" stroke="#3a4dac" stroke-width="1.1" stroke-opacity="1.0" stroke-linejoin="round" clip-path="url(#cb)"/>
<polyline points="252.00,25.87 252.56,27.93 253.13,28.51 253.69,29.07 254.26,29.61 254.82,30.15 255.38,30.67 255.95,31.20 256.51,31.72 257.07,32.24 257.64,32.76 258.20,33.27 258.77,33.79 259.33,34.31 259.89,34.82 260.46,35.33 261.02,35.85 261.58,36.36 262.15,36.87 262.71,37.38 263.28,37.89 263.84,38.40 264.40,38.91 264.97,39.41 265.53,39.92 267.59,41.77 269.66,43.61 271.72,45.44 273.79,47.26 275.85,49.07 277.91,50.86 279.98,52.65 282.04,54.42 284.11,56.18 286.17,57.95 288.23,59.72 290.30,61.48 292.36,63.23 294.43,64.96 296.49,66.66 298.55,68.34 300.62,69.98 302.68,71.60 304.75,73.20 306.81,74.76 308.87,76.31 310.94,77.83 313.00,79.34 315.06,80.83 317.13,82.30 319.19,83.76 321.26,85.20 323.32,86.63 325.38,88.05 327.45,89.47 329.51,90.87 331.58,92.26 333.64,93.64 335.70,95.02 337.77,96.39 339.83,97.75 341.90,99.11 343.96,100.46 346.02,101.81 348.09,103.16 350.15,104.51 352.22,105.85 354.28,107.19 356.34,108.53 358.41,109.87 360.47,111.20 362.54,112.54 364.60,113.87 366.66,115.20 368.73,116.53 370.79,117.86 372.86,119.19 374.92,120.52 376.98,121.85 379.05,123.18 381.11,124.51 383.17,125.85 385.24,127.18 387.30,128.53" fill="none" stroke="#3244a6" stroke-width="1.1" stroke-opacity="1.0" stroke-linejoin="round" clip-path="url(#cb)"/>
<polyline points="252.00,120.82 252.59,116.97 253.18,114.37 253.77,112.67 254.35,111.15 254.94,109.79 255.53,108.66 256.12,107.73 256.71,106.94 257.30,106.24 257.89,105.63 258.47,105.06 259.06,104.54 259.65,104.04 260.24,103.57 260.83,103.12 261.42,102.68 262.01,102.25 262.59,101.84 263.18,101.43 263.77,101.03 264.36,100.64 264.95,100.25 265.54,99.87 266.13,99.48 268.28,98.10 270.43,96.75 272.59,95.47 274.74,94.25 276.90,93.03 279.05,91.81 281.21,90.59 283.36,89.37 285.52,88.15 287.67,86.93 289.83,85.70 291.98,84.47 294.14,83.23 296.29,81.98 298.45,80.73 300.60,79.47 302.76,78.19 304.91,76.88 307.06,75.55 309.22,74.19 311.37,72.82 313.53,71.43 315.68,70.04 317.84,68.64 319.99,67.24 322.15,65.83 324.30,64.43 326.46,63.03 328.61,61.62 330.77,60.21 332.92,58.79 335.08,57.38 337.23,55.96 339.39,54.54 341.54,53.12 343.69,51.71 345.85,50.29 348.00,48.87 350.16,47.46 352.31,46.05 354.47,44.64 356.62,43.24 358.78,41.84 360.93,40.43 363.09,39.03 365.24,37.63 367.40,36.24 369.55,34.86 371.71,33.51 373.86,32.18 376.02,30.88 378.17,29.62 380.33,28.42 382.48,27.26 384.63,26.12 386.79,25.00 388.94,23.90 391.10,22.81 393.25,21.70" fill="none" stroke="#3244a6" stroke-width="1.1" stroke-opacity="1.0" stroke-linejoin="round" clip-path="url(#cb)"/>
<polyline points="252.00,25.81 252.56,27.95 253.11,28.53 253.67,29.10 254.23,29.64 254.78,30.18 255.34,30.70 255.90,31.23 256.45,31.75 257.01,32.27 257.57,32.79 258.12,33.31 258.68,33.83 259.23,34.34 259.79,34.86 260.35,35.38 260.90,35.89 261.46,36.40 262.02,36.91 262.57,37.43 263.13,37.94 263.69,38.45 264.24,38.95 264.80,39.46 265.36,39.97 267.39,41.82 269.43,43.67 271.47,45.50 273.51,47.32 275.54,49.13 277.58,50.92 279.62,52.71 281.66,54.48 283.69,56.24 285.73,58.00 287.77,59.76 289.80,61.50 291.84,63.24 293.88,64.96 295.92,66.65 297.95,68.32 299.99,69.96 302.03,71.58 304.07,73.17 306.10,74.74 308.14,76.29 310.18,77.81 312.22,79.32 314.25,80.81 316.29,82.28 318.33,83.75 320.37,85.19 322.40,86.63 324.44,88.05 326.48,89.47 328.51,90.87 330.55,92.27 332.59,93.65 334.63,95.03 336.66,96.40 338.70,97.76 340.74,99.12 342.78,100.47 344.81,101.82 346.85,103.17 348.89,104.52 350.93,105.86 352.96,107.20 355.00,108.54 357.04,109.88 359.08,111.21 361.11,112.54 363.15,113.88 365.19,115.21 367.23,116.54 369.26,117.87 371.30,119.20 373.34,120.53 375.37,121.85 377.41,123.18 379.45,124.51 381.49,125.85 383.52,127.18 385.56,128.53" fill="none" stroke="#2a3ba2" stroke-width="1.1" stroke-opacity="1.0" stroke-linejoin="round" clip-path="url(#cb)"/>
<polyline points="252.00,120.64 252.58,116.71 253.17,114.10 253.75,112.40 254.33,110.88 254.91,109.53 255.50,108.41 256.08,107.48 256.66,106.69 257.25,105.99 257.83,105.37 258.41,104.81 258.99,104.28 259.58,103.78 260.16,103.31 260.74,102.85 261.33,102.41 261.91,101.98 262.49,101.56 263.07,101.15 263.66,100.75 264.24,100.35 264.82,99.96 265.41,99.57 265.99,99.18 268.12,97.78 270.26,96.42 272.39,95.13 274.52,93.90 276.66,92.67 278.79,91.45 280.93,90.21 283.06,88.97 285.19,87.74 287.33,86.51 289.46,85.28 291.60,84.04 293.73,82.79 295.86,81.53 298.00,80.27 300.13,79.00 302.27,77.72 304.40,76.40 306.53,75.06 308.67,73.70 310.80,72.33 312.93,70.94 315.07,69.55 317.20,68.15 319.34,66.75 321.47,65.35 323.60,63.95 325.74,62.55 327.87,61.14 330.01,59.73 332.14,58.32 334.27,56.90 336.41,55.49 338.54,54.08 340.68,52.66 342.81,51.25 344.94,49.83 347.08,48.42 349.21,47.01 351.34,45.61 353.48,44.20 355.61,42.81 357.75,41.42 359.88,40.02 362.01,38.63 364.15,37.24 366.28,35.86 368.42,34.50 370.55,33.16 372.68,31.85 374.82,30.58 376.95,29.35 379.09,28.18 381.22,27.05 383.35,25.95 385.49,24.87 387.62,23.82 389.76,22.77 391.89,21.70" fill="none" stroke="#2a3ba2" stroke-width="1.1" stroke-opacity="1.0" stroke-linejoin="round" clip-path="url(#cb)"/>
<polyline points="252.00,25.76 252.55,27.97 253.10,28.55 253.65,29.12 254.20,29.66 254.75,30.20 255.30,30.73 255.85,31.25 256.40,31.78 256.95,32.30 257.50,32.82 258.06,33.34 258.61,33.86 259.16,34.38 259.71,34.89 260.26,35.41 260.81,35.93 261.36,36.44 261.91,36.95 262.46,37.46 263.01,37.97 263.56,38.49 264.11,38.99 264.66,39.50 265.21,40.01 267.23,41.87 269.24,43.71 271.26,45.54 273.27,47.36 275.29,49.18 277.30,50.97 279.32,52.76 281.33,54.53 283.35,56.29 285.36,58.04 287.38,59.79 289.39,61.52 291.41,63.25 293.42,64.96 295.44,66.64 297.45,68.30 299.47,69.94 301.49,71.55 303.50,73.15 305.52,74.71 307.53,76.27 309.55,77.79 311.56,79.30 313.58,80.79 315.59,82.27 317.61,83.74 319.62,85.18 321.64,86.63 323.65,88.05 325.67,89.47 327.68,90.87 329.70,92.27 331.71,93.65 333.73,95.03 335.74,96.40 337.76,97.77 339.77,99.13 341.79,100.48 343.81,101.83 345.82,103.18 347.84,104.53 349.85,105.87 351.87,107.21 353.88,108.55 355.90,109.88 357.91,111.22 359.93,112.55 361.94,113.88 363.96,115.21 365.97,116.54 367.99,117.87 370.00,119.20 372.02,120.53 374.03,121.86 376.05,123.19 378.06,124.52 380.08,125.85 382.09,127.19 384.11,128.53" fill="none" stroke="#24349e" stroke-width="1.1" stroke-opacity="1.0" stroke-linejoin="round" clip-path="url(#cb)"/>
<polyline points="252.00,120.50 252.58,116.50 253.16,113.88 253.73,112.18 254.31,110.66 254.89,109.31 255.47,108.20 256.05,107.27 256.63,106.48 257.20,105.78 257.78,105.16 258.36,104.59 258.94,104.06 259.52,103.56 260.09,103.09 260.67,102.63 261.25,102.18 261.83,101.75 262.41,101.33 262.98,100.92 263.56,100.51 264.14,100.11 264.72,99.71 265.30,99.32 265.88,98.93 267.99,97.52 270.11,96.15 272.22,94.85 274.34,93.61 276.46,92.38 278.57,91.14 280.69,89.89 282.81,88.65 284.92,87.41 287.04,86.17 289.16,84.92 291.27,83.67 293.39,82.42 295.51,81.15 297.62,79.89 299.74,78.61 301.86,77.32 303.97,76.00 306.09,74.66 308.21,73.29 310.32,71.92 312.44,70.53 314.56,69.14 316.67,67.74 318.79,66.34 320.91,64.94 323.02,63.54 325.14,62.14 327.26,60.74 329.37,59.33 331.49,57.92 333.61,56.51 335.72,55.10 337.84,53.69 339.95,52.27 342.07,50.86 344.19,49.45 346.30,48.05 348.42,46.64 350.54,45.24 352.65,43.84 354.77,42.45 356.89,41.07 359.00,39.68 361.12,38.30 363.24,36.92 365.35,35.55 367.47,34.20 369.59,32.87 371.70,31.58 373.82,30.33 375.94,29.12 378.05,27.98 380.17,26.88 382.29,25.81 384.40,24.77 386.52,23.75 388.64,22.73 390.75,21.70" fill="none" stroke="#24349e" stroke-width="1.1" stroke-opacity="1.0" stroke-linejoin="round" clip-path="url(#cb)"/>
<polyline points="252.00,25.72 252.55,27.98 253.09,28.56 253.64,29.13 254.18,29.68 254.73,30.22 255.27,30.75 255.82,31.27 256.36,31.80 256.91,32.32 257.46,32.84 258.00,33.36 258.55,33.89 259.09,34.40 259.64,34.92 260.18,35.44 260.73,35.95 261.28,36.47 261.82,36.98 262.37,37.49 262.91,38.01 263.46,38.52 264.00,39.03 264.55,39.54 265.09,40.04 267.09,41.90 269.09,43.75 271.09,45.58 273.09,47.40 275.08,49.22 277.08,51.01 279.08,52.80 281.08,54.57 283.07,56.32 285.07,58.08 287.07,59.82 289.07,61.54 291.06,63.25 293.06,64.95 295.06,66.63 297.06,68.29 299.05,69.92 301.05,71.54 303.05,73.13 305.05,74.70 307.04,76.25 309.04,77.77 311.04,79.29 313.04,80.78 315.03,82.26 317.03,83.73 319.03,85.18 321.03,86.62 323.02,88.05 325.02,89.47 327.02,90.88 329.02,92.28 331.01,93.66 333.01,95.04 335.01,96.41 337.01,97.77 339.00,99.13 341.00,100.49 343.00,101.84 345.00,103.19 346.99,104.53 348.99,105.88 350.99,107.22 352.99,108.55 354.98,109.89 356.98,111.22 358.98,112.56 360.98,113.89 362.97,115.22 364.97,116.55 366.97,117.88 368.97,119.20 370.96,120.53 372.96,121.86 374.96,123.19 376.96,124.52 378.95,125.85 380.95,127.19 382.95,128.53" fill="none" stroke="#202f9a" stroke-width="1.6" stroke-opacity="1.0" stroke-linejoin="round" clip-path="url(#cb)"/>
<polyline points="252.00,120.38 252.57,116.32 253.15,113.70 253.72,112.00 254.30,110.48 254.87,109.14 255.45,108.03 256.02,107.10 256.59,106.31 257.17,105.61 257.74,104.99 258.32,104.42 258.89,103.89 259.47,103.39 260.04,102.91 260.62,102.45 261.19,102.00 261.76,101.57 262.34,101.14 262.91,100.73 263.49,100.32 264.06,99.92 264.64,99.52 265.21,99.12 265.78,98.73 267.89,97.31 269.99,95.93 272.09,94.62 274.20,93.37 276.30,92.14 278.40,90.89 280.50,89.64 282.61,88.38 284.71,87.14 286.81,85.89 288.91,84.64 291.02,83.39 293.12,82.12 295.22,80.85 297.32,79.58 299.43,78.30 301.53,77.00 303.63,75.68 305.74,74.33 307.84,72.97 309.94,71.59 312.04,70.20 314.15,68.81 316.25,67.41 318.35,66.01 320.45,64.62 322.56,63.22 324.66,61.82 326.76,60.42 328.86,59.01 330.97,57.60 333.07,56.20 335.17,54.79 337.28,53.38 339.38,51.97 341.48,50.56 343.58,49.15 345.69,47.74 347.79,46.34 349.89,44.95 351.99,43.55 354.10,42.17 356.20,40.79 358.30,39.41 360.41,38.03 362.51,36.66 364.61,35.29 366.71,33.95 368.82,32.64 370.92,31.36 373.02,30.13 375.12,28.94 377.23,27.82 379.33,26.74 381.43,25.70 383.53,24.68 385.64,23.69 387.74,22.70 389.84,21.70" fill="none" stroke="#202f9a" stroke-width="1.6" stroke-opacity="1.0" stroke-linejoin="round" clip-path="url(#cb)"/>
<polyline points="252.00,25.69 252.54,27.99 253.08,28.57 253.63,29.15 254.17,29.69 254.71,30.23 255.25,30.76 255.79,31.29 256.34,31.82 256.88,32.34 257.42,32.86 257.96,33.38 258.50,33.90 259.05,34.42 259.59,34.94 260.13,35.46 260.67,35.97 261.21,36.49 261.76,37.00 262.30,37.51 262.84,38.03 263.38,38.54 263.92,39.05 264.47,39.56 265.01,40.07 266.99,41.93 268.98,43.77 270.96,45.61 272.94,47.43 274.93,49.25 276.91,51.04 278.90,52.83 280.88,54.60 282.87,56.35 284.85,58.10 286.83,59.83 288.82,61.55 290.80,63.26 292.79,64.95 294.77,66.63 296.76,68.28 298.74,69.91 300.72,71.52 302.71,73.11 304.69,74.68 306.68,76.24 308.66,77.76 310.65,79.28 312.63,80.77 314.61,82.25 316.60,83.72 318.58,85.17 320.57,86.62 322.55,88.05 324.54,89.47 326.52,90.88 328.50,92.28 330.49,93.66 332.47,95.04 334.46,96.41 336.44,97.78 338.43,99.14 340.41,100.49 342.39,101.84 344.38,103.19 346.36,104.54 348.35,105.88 350.33,107.22 352.31,108.56 354.30,109.89 356.28,111.23 358.27,112.56 360.25,113.89 362.24,115.22 364.22,116.55 366.20,117.88 368.19,119.21 370.17,120.53 372.16,121.86 374.14,123.19 376.13,124.52 378.11,125.85 380.09,127.19 382.08,128.53" fill="none" stroke="#1c2b98" stroke-width="1.6" stroke-opacity="1.0" stroke-linejoin="round" clip-path="url(#cb)"/>
<polyline points="252.00,120.30 252.57,116.20 253.14,113.56 253.71,111.87 254.29,110.34 254.86,109.01 255.43,107.91 256.00,106.98 256.57,106.19 257.14,105.49 257.72,104.86 258.29,104.29 258.86,103.76 259.43,103.26 260.00,102.78 260.57,102.31 261.14,101.87 261.72,101.43 262.29,101.00 262.86,100.59 263.43,100.18 264.00,99.77 264.57,99.37 265.14,98.97 265.72,98.58 267.81,97.15 269.90,95.76 271.99,94.45 274.09,93.20 276.18,91.96 278.27,90.71 280.36,89.45 282.45,88.19 284.55,86.93 286.64,85.68 288.73,84.43 290.82,83.17 292.92,81.90 295.01,80.63 297.10,79.35 299.19,78.06 301.28,76.76 303.38,75.43 305.47,74.09 307.56,72.72 309.65,71.35 311.75,69.96 313.84,68.56 315.93,67.17 318.02,65.77 320.12,64.37 322.21,62.98 324.30,61.58 326.39,60.18 328.48,58.77 330.58,57.37 332.67,55.96 334.76,54.55 336.85,53.14 338.95,51.73 341.04,50.33 343.13,48.92 345.22,47.52 347.32,46.12 349.41,44.72 351.50,43.34 353.59,41.96 355.68,40.58 357.78,39.20 359.87,37.83 361.96,36.46 364.05,35.11 366.15,33.77 368.24,32.47 370.33,31.20 372.42,29.98 374.51,28.80 376.61,27.70 378.70,26.64 380.79,25.61 382.88,24.62 384.98,23.65 387.07,22.68 389.16,21.70" fill="none" stroke="#1c2b98" stroke-width="1.6" stroke-opacity="1.0" stroke-linejoin="round" clip-path="url(#cb)"/>
<polyline points="252.00,25.67 252.54,27.99 253.08,28.58 253.62,29.16 254.16,29.70 254.69,30.24 255.23,30.77 255.77,31.30 256.31,31.83 256.85,32.35 257.39,32.88 257.93,33.40 258.47,33.92 259.01,34.44 259.55,34.96 260.08,35.47 260.62,35.99 261.16,36.51 261.70,37.02 262.24,37.53 262.78,38.05 263.32,38.56 263.86,39.07 264.40,39.58 264.94,40.09 266.91,41.95 268.88,43.80 270.85,45.63 272.83,47.46 274.80,49.27 276.77,51.07 278.75,52.85 280.72,54.62 282.69,56.38 284.67,58.12 286.64,59.85 288.61,61.56 290.59,63.26 292.56,64.95 294.53,66.62 296.51,68.27 298.48,69.90 300.45,71.51 302.43,73.10 304.40,74.67 306.37,76.23 308.35,77.75 310.32,79.27 312.29,80.77 314.26,82.25 316.24,83.72 318.21,85.17 320.18,86.62 322.16,88.05 324.13,89.47 326.10,90.88 328.08,92.28 330.05,93.66 332.02,95.05 334.00,96.42 335.97,97.78 337.94,99.14 339.92,100.50 341.89,101.85 343.86,103.20 345.84,104.54 347.81,105.88 349.78,107.22 351.76,108.56 353.73,109.90 355.70,111.23 357.67,112.56 359.65,113.89 361.62,115.22 363.59,116.55 365.57,117.88 367.54,119.21 369.51,120.54 371.49,121.86 373.46,123.19 375.43,124.52 377.41,125.85 379.38,127.19 381.35,128.53" fill="none" stroke="#192796" stroke-width="1.6" stroke-opacity="1.0" stroke-linejoin="round" clip-path="url(#cb)"/>
<polyline points="252.00,120.23 252.57,116.09 253.14,113.45 253.71,111.76 254.28,110.23 254.85,108.90 255.41,107.80 255.98,106.87 256.55,106.08 257.12,105.38 257.69,104.76 258.26,104.19 258.83,103.65 259.40,103.15 259.97,102.67 260.54,102.20 261.11,101.75 261.68,101.32 262.24,100.89 262.81,100.47 263.38,100.06 263.95,99.65 264.52,99.25 265.09,98.85 265.66,98.45 267.74,97.02 269.83,95.62 271.91,94.31 273.99,93.05 276.08,91.81 278.16,90.55 280.24,89.29 282.33,88.02 284.41,86.77 286.50,85.51 288.58,84.25 290.66,82.99 292.75,81.72 294.83,80.44 296.91,79.16 299.00,77.87 301.08,76.56 303.16,75.23 305.25,73.88 307.33,72.52 309.42,71.14 311.50,69.75 313.58,68.36 315.67,66.96 317.75,65.57 319.83,64.17 321.92,62.78 324.00,61.38 326.08,59.98 328.17,58.58 330.25,57.17 332.33,55.76 334.42,54.36 336.50,52.95 338.59,51.54 340.67,50.14 342.75,48.73 344.84,47.33 346.92,45.93 349.00,44.54 351.09,43.15 353.17,41.78 355.25,40.41 357.34,39.03 359.42,37.66 361.51,36.30 363.59,34.95 365.67,33.62 367.76,32.33 369.84,31.07 371.92,29.85 374.01,28.69 376.09,27.59 378.17,26.55 380.26,25.54 382.34,24.57 384.42,23.61 386.51,22.67 388.59,21.70" fill="none" stroke="#192796" stroke-width="1.6" stroke-opacity="1.0" stroke-linejoin="round" clip-path="url(#cb)"/>
<polyline points="252.00,25.65 252.54,28.00 253.07,28.59 253.61,29.17 254.14,29.71 254.68,30.26 255.22,30.79 255.75,31.31 256.29,31.84 256.82,32.37 257.36,32.89 257.90,33.41 258.43,33.93 258.97,34.45 259.50,34.97 260.04,35.49 260.58,36.01 261.11,36.52 261.65,37.04 262.18,37.55 262.72,38.07 263.25,38.58 263.79,39.09 264.33,39.60 264.86,40.11 266.82,41.97 268.79,43.82 270.75,45.65 272.71,47.48 274.67,49.30 276.64,51.09 278.60,52.88 280.56,54.65 282.52,56.40 284.48,58.14 286.45,59.86 288.41,61.57 290.37,63.27 292.33,64.95 294.29,66.62 296.26,68.26 298.22,69.89 300.18,71.50 302.14,73.09 304.10,74.66 306.07,76.21 308.03,77.74 309.99,79.26 311.95,80.76 313.92,82.24 315.88,83.72 317.84,85.17 319.80,86.62 321.76,88.05 323.73,89.47 325.69,90.88 327.65,92.29 329.61,93.67 331.57,95.05 333.54,96.42 335.50,97.78 337.46,99.15 339.42,100.50 341.39,101.85 343.35,103.20 345.31,104.54 347.27,105.89 349.23,107.23 351.20,108.56 353.16,109.90 355.12,111.23 357.08,112.57 359.04,113.90 361.01,115.23 362.97,116.56 364.93,117.88 366.89,119.21 368.85,120.54 370.82,121.86 372.78,123.19 374.74,124.52 376.70,125.85 378.67,127.19 380.63,128.53" fill="none" stroke="#162494" stroke-width="1.6" stroke-opacity="1.0" stroke-linejoin="round" clip-path="url(#cb)"/>
<polyline points="252.00,120.15 252.57,115.98 253.13,113.34 253.70,111.64 254.27,110.12 254.83,108.79 255.40,107.70 255.97,106.77 256.53,105.98 257.10,105.28 257.67,104.65 258.23,104.08 258.80,103.54 259.37,103.04 259.93,102.56 260.50,102.09 261.07,101.64 261.64,101.20 262.20,100.77 262.77,100.35 263.34,99.94 263.90,99.53 264.47,99.13 265.04,98.73 265.60,98.33 267.68,96.89 269.75,95.49 271.83,94.17 273.90,92.91 275.98,91.66 278.05,90.40 280.13,89.13 282.20,87.86 284.28,86.60 286.35,85.34 288.43,84.07 290.50,82.81 292.58,81.53 294.65,80.25 296.73,78.97 298.80,77.67 300.88,76.36 302.95,75.03 305.03,73.68 307.10,72.32 309.18,70.94 311.25,69.55 313.33,68.16 315.40,66.76 317.48,65.36 319.55,63.97 321.63,62.58 323.70,61.18 325.78,59.78 327.85,58.38 329.93,56.97 332.00,55.57 334.08,54.16 336.15,52.75 338.23,51.35 340.30,49.94 342.38,48.54 344.45,47.14 346.52,45.75 348.60,44.36 350.67,42.97 352.75,41.60 354.82,40.23 356.90,38.86 358.97,37.50 361.05,36.14 363.12,34.79 365.20,33.47 367.27,32.18 369.35,30.93 371.42,29.72 373.50,28.57 375.57,27.49 377.65,26.47 379.72,25.47 381.80,24.52 383.87,23.58 385.95,22.65 388.02,21.70" fill="none" stroke="#162494" stroke-width="1.6" stroke-opacity="1.0" stroke-linejoin="round" clip-path="url(#cb)"/>
<polyline points="252.00,25.63 252.53,28.01 253.07,28.60 253.60,29.17 254.13,29.72 254.67,30.27 255.20,30.80 255.73,31.33 256.27,31.85 256.80,32.38 257.34,32.90 257.87,33.42 258.40,33.95 258.94,34.47 259.47,34.99 260.00,35.50 260.54,36.02 261.07,36.54 261.60,37.05 262.14,37.57 262.67,38.08 263.20,38.59 263.74,39.10 264.27,39.62 264.80,40.13 266.76,41.99 268.71,43.84 270.66,45.67 272.62,47.50 274.57,49.32 276.52,51.11 278.48,52.90 280.43,54.67 282.38,56.42 284.34,58.16 286.29,59.88 288.24,61.58 290.20,63.27 292.15,64.95 294.10,66.61 296.06,68.26 298.01,69.89 299.96,71.49 301.92,73.08 303.87,74.65 305.82,76.21 307.78,77.74 309.73,79.25 311.68,80.75 313.64,82.24 315.59,83.71 317.54,85.17 319.50,86.62 321.45,88.05 323.40,89.48 325.36,90.88 327.31,92.29 329.26,93.67 331.22,95.05 333.17,96.42 335.12,97.79 337.08,99.15 339.03,100.50 340.98,101.85 342.94,103.20 344.89,104.55 346.84,105.89 348.79,107.23 350.75,108.57 352.70,109.90 354.65,111.24 356.61,112.57 358.56,113.90 360.51,115.23 362.47,116.56 364.42,117.89 366.37,119.21 368.33,120.54 370.28,121.87 372.23,123.19 374.19,124.52 376.14,125.85 378.09,127.19 380.05,128.53" fill="none" stroke="#142192" stroke-width="1.6" stroke-opacity="1.0" stroke-linejoin="round" clip-path="url(#cb)"/>
<polyline points="252.00,120.10 252.56,115.90 253.13,113.25 253.69,111.56 254.26,110.03 254.82,108.71 255.39,107.61 255.95,106.69 256.52,105.90 257.08,105.20 257.65,104.57 258.21,103.99 258.78,103.46 259.34,102.95 259.91,102.47 260.47,102.00 261.04,101.55 261.60,101.11 262.17,100.68 262.73,100.26 263.30,99.84 263.86,99.43 264.43,99.03 264.99,98.63 265.56,98.23 267.62,96.78 269.69,95.37 271.76,94.06 273.83,92.79 275.90,91.54 277.96,90.28 280.03,89.00 282.10,87.73 284.17,86.46 286.24,85.20 288.30,83.93 290.37,82.66 292.44,81.39 294.51,80.10 296.58,78.82 298.64,77.52 300.71,76.20 302.78,74.87 304.85,73.52 306.92,72.15 308.98,70.77 311.05,69.39 313.12,67.99 315.19,66.60 317.26,65.20 319.32,63.81 321.39,62.41 323.46,61.02 325.53,59.62 327.60,58.22 329.66,56.81 331.73,55.41 333.80,54.00 335.87,52.60 337.94,51.19 340.00,49.79 342.07,48.39 344.14,46.99 346.21,45.60 348.28,44.21 350.34,42.83 352.41,41.46 354.48,40.09 356.55,38.72 358.62,37.36 360.68,36.01 362.75,34.67 364.82,33.35 366.89,32.07 368.96,30.82 371.02,29.62 373.09,28.48 375.16,27.41 377.23,26.40 379.30,25.42 381.36,24.47 383.43,23.55 385.50,22.64 387.57,21.70" fill="none" stroke="#142192" stroke-width="1.6" stroke-opacity="1.0" stroke-linejoin="round" clip-path="url(#cb)"/>
<polyline points="252.00,25.61 252.53,28.01 253.06,28.61 253.59,29.18 254.12,29.73 254.66,30.27 255.19,30.81 255.72,31.34 256.25,31.86 256.78,32.39 257.31,32.91 257.84,33.44 258.37,33.96 258.90,34.48 259.44,35.00 259.97,35.52 260.50,36.04 261.03,36.55 261.56,37.07 262.09,37.58 262.62,38.10 263.15,38.61 263.68,39.12 264.22,39.63 264.75,40.14 266.69,42.00 268.64,43.86 270.58,45.69 272.52,47.52 274.47,49.34 276.41,51.13 278.36,52.92 280.30,54.69 282.25,56.44 284.19,58.17 286.14,59.89 288.08,61.59 290.02,63.27 291.97,64.95 293.91,66.61 295.86,68.25 297.80,69.88 299.75,71.49 301.69,73.07 303.63,74.64 305.58,76.20 307.52,77.73 309.47,79.25 311.41,80.75 313.36,82.23 315.30,83.71 317.25,85.16 319.19,86.61 321.13,88.05 323.08,89.48 325.02,90.88 326.97,92.29 328.91,93.67 330.86,95.05 332.80,96.42 334.75,97.79 336.69,99.15 338.63,100.51 340.58,101.86 342.52,103.21 344.47,104.55 346.41,105.89 348.36,107.23 350.30,108.57 352.24,109.91 354.19,111.24 356.13,112.57 358.08,113.90 360.02,115.23 361.97,116.56 363.91,117.89 365.86,119.21 367.80,120.54 369.74,121.87 371.69,123.19 373.63,124.52 375.58,125.85 377.52,127.19 379.47,128.53" fill="none" stroke="#111e91" stroke-width="1.6" stroke-opacity="1.0" stroke-linejoin="round" clip-path="url(#cb)"/>
<polyline points="252.00,120.04 252.56,115.81 253.13,113.15 253.69,111.47 254.25,109.94 254.81,108.62 255.38,107.53 255.94,106.60 256.50,105.81 257.07,105.11 257.63,104.48 258.19,103.91 258.76,103.37 259.32,102.87 259.88,102.38 260.44,101.91 261.01,101.46 261.57,101.02 262.13,100.59 262.70,100.16 263.26,99.75 263.82,99.34 264.39,98.93 264.95,98.53 265.51,98.13 267.57,96.67 269.63,95.26 271.69,93.94 273.76,92.68 275.82,91.42 277.88,90.15 279.94,88.87 282.00,87.60 284.06,86.33 286.12,85.06 288.18,83.79 290.24,82.52 292.31,81.24 294.37,79.95 296.43,78.66 298.49,77.36 300.55,76.04 302.61,74.71 304.67,73.36 306.73,71.99 308.79,70.61 310.85,69.22 312.92,67.83 314.98,66.43 317.04,65.04 319.10,63.64 321.16,62.25 323.22,60.86 325.28,59.46 327.34,58.06 329.40,56.66 331.47,55.25 333.53,53.85 335.59,52.44 337.65,51.04 339.71,49.64 341.77,48.24 343.83,46.84 345.89,45.45 347.95,44.06 350.02,42.68 352.08,41.31 354.14,39.95 356.20,38.59 358.26,37.23 360.32,35.88 362.38,34.54 364.44,33.23 366.50,31.95 368.56,30.71 370.63,29.52 372.69,28.39 374.75,27.33 376.81,26.33 378.87,25.36 380.93,24.43 382.99,23.52 385.05,22.62 387.11,21.70" fill="none" stroke="#111e91" stroke-width="1.6" stroke-opacity="1.0" stroke-linejoin="round" clip-path="url(#cb)"/>
<polyline points="252.00,25.59 252.53,28.02 253.06,28.61 253.59,29.19 254.12,29.73 254.65,30.28 255.18,30.81 255.71,31.34 256.23,31.87 256.76,32.40 257.29,32.92 257.82,33.45 258.35,33.97 258.88,34.49 259.41,35.01 259.94,35.53 260.47,36.05 261.00,36.56 261.53,37.08 262.06,37.59 262.59,38.11 263.12,38.62 263.64,39.13 264.17,39.64 264.70,40.15 266.64,42.02 268.58,43.87 270.52,45.71 272.45,47.53 274.39,49.35 276.33,51.15 278.27,52.93 280.21,54.70 282.14,56.45 284.08,58.19 286.02,59.90 287.96,61.59 289.89,63.27 291.83,64.95 293.77,66.60 295.71,68.25 297.65,69.87 299.58,71.48 301.52,73.07 303.46,74.64 305.40,76.19 307.33,77.72 309.27,79.24 311.21,80.74 313.15,82.23 315.08,83.71 317.02,85.16 318.96,86.61 320.90,88.05 322.84,89.48 324.77,90.89 326.71,92.29 328.65,93.67 330.59,95.06 332.52,96.43 334.46,97.79 336.40,99.16 338.34,100.51 340.28,101.86 342.21,103.21 344.15,104.55 346.09,105.90 348.03,107.24 349.96,108.57 351.90,109.91 353.84,111.24 355.78,112.57 357.72,113.90 359.65,115.23 361.59,116.56 363.53,117.89 365.47,119.22 367.40,120.54 369.34,121.87 371.28,123.19 373.22,124.52 375.16,125.85 377.09,127.19 379.03,128.53" fill="none" stroke="#0f1c90" stroke-width="1.6" stroke-opacity="1.0" stroke-linejoin="round" clip-path="url(#cb)"/>
<polyline points="252.00,119.99 252.56,115.74 253.12,113.09 253.68,111.40 254.25,109.87 254.81,108.55 255.37,107.47 255.93,106.54 256.49,105.75 257.05,105.05 257.62,104.42 258.18,103.84 258.74,103.30 259.30,102.80 259.86,102.32 260.42,101.85 260.98,101.39 261.55,100.95 262.11,100.52 262.67,100.09 263.23,99.68 263.79,99.26 264.35,98.86 264.92,98.45 265.48,98.05 267.53,96.60 269.59,95.18 271.64,93.86 273.70,92.59 275.76,91.33 277.81,90.06 279.87,88.78 281.92,87.50 283.98,86.23 286.04,84.95 288.09,83.68 290.15,82.41 292.20,81.13 294.26,79.84 296.32,78.55 298.37,77.24 300.43,75.92 302.48,74.59 304.54,73.23 306.59,71.87 308.65,70.49 310.71,69.10 312.76,67.71 314.82,66.31 316.87,64.92 318.93,63.52 320.99,62.13 323.04,60.74 325.10,59.34 327.15,57.94 329.21,56.54 331.26,55.13 333.32,53.73 335.38,52.33 337.43,50.92 339.49,49.52 341.54,48.12 343.60,46.73 345.66,45.34 347.71,43.95 349.77,42.58 351.82,41.21 353.88,39.85 355.94,38.49 357.99,37.13 360.05,35.78 362.10,34.45 364.16,33.14 366.21,31.86 368.27,30.63 370.33,29.45 372.38,28.32 374.44,27.27 376.49,26.28 378.55,25.32 380.61,24.40 382.66,23.50 384.72,22.61 386.77,21.70" fill="none" stroke="#0f1c90" stroke-width="1.6" stroke-opacity="1.0" stroke-linejoin="round" clip-path="url(#cb)"/>
<polyline points="252.00,25.58 252.53,28.02 253.05,28.62 253.58,29.19 254.11,29.74 254.64,30.29 255.16,30.82 255.69,31.35 256.22,31.88 256.75,32.41 257.27,32.93 257.80,33.46 258.33,33.98 258.86,34.50 259.38,35.02 259.91,35.54 260.44,36.06 260.97,36.57 261.49,37.09 262.02,37.60 262.55,38.12 263.08,38.63 263.60,39.14 264.13,39.66 264.66,40.17 266.59,42.03 268.52,43.88 270.45,45.72 272.38,47.55 274.32,49.37 276.25,51.16 278.18,52.95 280.11,54.72 282.04,56.46 283.97,58.20 285.90,59.91 287.83,61.60 289.76,63.28 291.70,64.95 293.63,66.60 295.56,68.24 297.49,69.87 299.42,71.47 301.35,73.06 303.28,74.63 305.21,76.19 307.14,77.72 309.08,79.24 311.01,80.74 312.94,82.23 314.87,83.70 316.80,85.16 318.73,86.61 320.66,88.05 322.59,89.48 324.52,90.89 326.46,92.29 328.39,93.67 330.32,95.06 332.25,96.43 334.18,97.79 336.11,99.16 338.04,100.51 339.97,101.86 341.90,103.21 343.84,104.56 345.77,105.90 347.70,107.24 349.63,108.57 351.56,109.91 353.49,111.24 355.42,112.58 357.35,113.91 359.28,115.24 361.22,116.56 363.15,117.89 365.08,119.22 367.01,120.54 368.94,121.87 370.87,123.20 372.80,124.52 374.73,125.85 376.66,127.19 378.60,128.53" fill="none" stroke="#0e1a8e" stroke-width="1.6" stroke-opacity="1.0" stroke-linejoin="round" clip-path="url(#cb)"/>
<polyline points="252.00,119.95 252.56,115.68 253.12,113.02 253.68,111.33 254.24,109.80 254.80,108.49 255.36,107.40 255.92,106.48 256.48,105.69 257.04,104.99 257.60,104.36 258.16,103.78 258.72,103.24 259.28,102.73 259.84,102.25 260.40,101.78 260.96,101.32 261.52,100.88 262.08,100.45 262.64,100.02 263.20,99.60 263.76,99.19 264.32,98.78 264.88,98.38 265.44,97.98 267.49,96.52 269.54,95.10 271.60,93.77 273.65,92.50 275.70,91.24 277.75,89.97 279.80,88.68 281.85,87.40 283.90,86.13 285.95,84.85 288.00,83.58 290.05,82.30 292.10,81.02 294.15,79.73 296.20,78.43 298.25,77.13 300.30,75.80 302.36,74.47 304.41,73.11 306.46,71.75 308.51,70.37 310.56,68.98 312.61,67.58 314.66,66.19 316.71,64.79 318.76,63.40 320.81,62.01 322.86,60.62 324.91,59.22 326.96,57.82 329.01,56.42 331.06,55.01 333.11,53.61 335.17,52.21 337.22,50.81 339.27,49.41 341.32,48.01 343.37,46.62 345.42,45.23 347.47,43.84 349.52,42.47 351.57,41.10 353.62,39.74 355.67,38.38 357.72,37.03 359.77,35.68 361.82,34.35 363.87,33.05 365.93,31.78 367.98,30.55 370.03,29.37 372.08,28.25 374.13,27.21 376.18,26.22 378.23,25.28 380.28,24.37 382.33,23.48 384.38,22.60 386.43,21.70" fill="none" stroke="#0e1a8e" stroke-width="1.6" stroke-opacity="1.0" stroke-linejoin="round" clip-path="url(#cb)"/>
<polyline points="252.00,25.56 252.53,28.02 253.05,28.62 253.58,29.20 254.10,29.75 254.63,30.30 255.15,30.83 255.68,31.36 256.21,31.89 256.73,32.41 257.26,32.94 257.78,33.46 258.31,33.99 258.83,34.51 259.36,35.03 259.89,35.55 260.41,36.07 260.94,36.58 261.46,37.10 261.99,37.62 262.51,38.13 263.04,38.64 263.56,39.16 264.09,39.67 264.62,40.18 266.54,42.04 268.46,43.90 270.39,45.73 272.31,47.56 274.24,49.38 276.16,51.18 278.09,52.96 280.01,54.73 281.94,56.48 283.86,58.21 285.79,59.92 287.71,61.60 289.63,63.28 291.56,64.95 293.48,66.60 295.41,68.24 297.33,69.86 299.26,71.47 301.18,73.05 303.11,74.62 305.03,76.18 306.95,77.71 308.88,79.23 310.80,80.74 312.73,82.22 314.65,83.70 316.58,85.16 318.50,86.61 320.43,88.05 322.35,89.48 324.27,90.89 326.20,92.29 328.12,93.68 330.05,95.06 331.97,96.43 333.90,97.80 335.82,99.16 337.75,100.51 339.67,101.87 341.60,103.22 343.52,104.56 345.44,105.90 347.37,107.24 349.29,108.58 351.22,109.91 353.14,111.25 355.07,112.58 356.99,113.91 358.92,115.24 360.84,116.56 362.76,117.89 364.69,119.22 366.61,120.54 368.54,121.87 370.46,123.20 372.39,124.52 374.31,125.85 376.24,127.19 378.16,128.53" fill="none" stroke="#0c188d" stroke-width="1.6" stroke-opacity="1.0" stroke-linejoin="round" clip-path="url(#cb)"/>
<polyline points="252.00,119.91 252.56,115.62 253.12,112.95 253.68,111.27 254.23,109.74 254.79,108.42 255.35,107.34 255.91,106.42 256.47,105.62 257.03,104.92 257.59,104.29 258.15,103.71 258.70,103.17 259.26,102.67 259.82,102.18 260.38,101.71 260.94,101.26 261.50,100.81 262.06,100.38 262.62,99.95 263.17,99.53 263.73,99.12 264.29,98.71 264.85,98.30 265.41,97.90 267.45,96.44 269.50,95.02 271.55,93.69 273.59,92.41 275.64,91.15 277.68,89.88 279.73,88.59 281.77,87.30 283.82,86.02 285.86,84.75 287.91,83.47 289.95,82.19 292.00,80.91 294.05,79.62 296.09,78.32 298.14,77.01 300.18,75.69 302.23,74.34 304.27,72.99 306.32,71.62 308.36,70.24 310.41,68.85 312.45,67.46 314.50,66.07 316.55,64.67 318.59,63.28 320.64,61.89 322.68,60.50 324.73,59.10 326.77,57.70 328.82,56.30 330.86,54.90 332.91,53.49 334.95,52.09 337.00,50.69 339.05,49.29 341.09,47.90 343.14,46.50 345.18,45.12 347.23,43.73 349.27,42.36 351.32,40.99 353.36,39.64 355.41,38.28 357.45,36.93 359.50,35.58 361.55,34.26 363.59,32.96 365.64,31.69 367.68,30.47 369.73,29.30 371.77,28.18 373.82,27.15 375.86,26.17 377.91,25.24 379.95,24.34 382.00,23.46 384.05,22.59 386.09,21.70" fill="none" stroke="#0c188d" stroke-width="1.6" stroke-opacity="1.0" stroke-linejoin="round" clip-path="url(#cb)"/>
<polyline points="252.00,25.55 252.52,28.03 253.05,28.63 253.57,29.21 254.10,29.75 254.62,30.30 255.14,30.84 255.67,31.37 256.19,31.90 256.71,32.42 257.24,32.95 257.76,33.47 258.29,34.00 258.81,34.52 259.33,35.04 259.86,35.56 260.38,36.08 260.91,36.59 261.43,37.11 261.95,37.63 262.48,38.14 263.00,38.66 263.52,39.17 264.05,39.68 264.57,40.19 266.49,42.06 268.41,43.91 270.33,45.75 272.24,47.58 274.16,49.39 276.08,51.19 278.00,52.98 279.92,54.75 281.83,56.49 283.75,58.22 285.67,59.93 287.59,61.61 289.50,63.28 291.42,64.95 293.34,66.59 295.26,68.23 297.18,69.85 299.09,71.46 301.01,73.05 302.93,74.62 304.85,76.17 306.76,77.71 308.68,79.23 310.60,80.73 312.52,82.22 314.44,83.70 316.35,85.16 318.27,86.61 320.19,88.05 322.11,89.48 324.03,90.89 325.94,92.29 327.86,93.68 329.78,95.06 331.70,96.43 333.61,97.80 335.53,99.16 337.45,100.52 339.37,101.87 341.29,103.22 343.20,104.56 345.12,105.90 347.04,107.24 348.96,108.58 350.88,109.92 352.79,111.25 354.71,112.58 356.63,113.91 358.55,115.24 360.46,116.57 362.38,117.89 364.30,119.22 366.22,120.54 368.14,121.87 370.05,123.20 371.97,124.52 373.89,125.85 375.81,127.19 377.73,128.53" fill="none" stroke="#0a168c" stroke-width="1.6" stroke-opacity="1.0" stroke-linejoin="round" clip-path="url(#cb)"/>
<polyline points="252.00,119.86 252.56,115.55 253.11,112.88 253.67,111.20 254.23,109.67 254.79,108.36 255.34,107.28 255.90,106.35 256.46,105.56 257.02,104.86 257.57,104.23 258.13,103.65 258.69,103.11 259.24,102.60 259.80,102.12 260.36,101.64 260.92,101.19 261.47,100.75 262.03,100.31 262.59,99.88 263.15,99.46 263.70,99.05 264.26,98.64 264.82,98.23 265.38,97.83 267.42,96.36 269.46,94.93 271.50,93.60 273.54,92.33 275.58,91.06 277.62,89.79 279.66,88.49 281.70,87.20 283.74,85.92 285.78,84.64 287.82,83.36 289.86,82.08 291.90,80.80 293.94,79.50 295.98,78.20 298.02,76.89 300.06,75.57 302.10,74.22 304.14,72.87 306.18,71.50 308.22,70.12 310.26,68.73 312.30,67.34 314.34,65.94 316.38,64.55 318.42,63.16 320.46,61.77 322.50,60.38 324.54,58.98 326.58,57.58 328.62,56.18 330.66,54.78 332.70,53.38 334.74,51.98 336.78,50.58 338.82,49.18 340.86,47.78 342.90,46.39 344.94,45.00 346.99,43.62 349.03,42.25 351.07,40.89 353.11,39.53 355.15,38.18 357.19,36.83 359.23,35.49 361.27,34.16 363.31,32.87 365.35,31.61 367.39,30.39 369.43,29.22 371.47,28.11 373.51,27.09 375.55,26.12 377.59,25.20 379.63,24.31 381.67,23.44 383.71,22.58 385.75,21.70" fill="none" stroke="#0a168c" stroke-width="1.6" stroke-opacity="1.0" stroke-linejoin="round" clip-path="url(#cb)"/>
<rect x="257.2" y="131.2" width="146.2" height="9.1" fill="url(#grb)"/>
<text x="259.30" y="140.60" font-size="12.5" font-weight="normal" text-anchor="start" fill="#ffffff" stroke="#ffffff" stroke-width="0.28">100</text>
<text x="386.00" y="140.60" font-size="12.5" font-weight="bold" text-anchor="start" fill="#ffffff" stroke="#ffffff" stroke-width="0.28">1</text>
<rect x="390.6" y="131.2" width="1.3" height="9.1" fill="#ffffff"/>
<rect x="344" y="131.2" width="60" height="0.6" fill="#ffffff"/>
<text x="261.30" y="128.20" font-size="10.0" font-weight="bold" text-anchor="start" fill="#1c1c1c" stroke="#1c1c1c" stroke-width="0.28">KFMTO&#183;0.16H<tspan dy="2.50" font-size="6.20">2</tspan><tspan dy="-2.50">O</tspan></text>
<rect x="252.00" y="21.70" width="160.50" height="120.30" fill="none" stroke="#2a2a2a" stroke-width="1.3"/>
<text x="448.50" y="14.20" font-size="18" font-weight="bold" text-anchor="start" fill="#1c1c1c" stroke="#1c1c1c" stroke-width="0.28">c</text>
<rect x="470.80" y="21.70" width="160.20" height="120.60" fill="none" stroke="#2a2a2a" stroke-width="1.3"/>
<line x1="470.80" y1="142.30" x2="470.80" y2="145.60" stroke="#2a2a2a" stroke-width="0.9"/>
<text transform="translate(470.80 153.80) scale(0.93 1.12)" font-size="7.9" font-weight="bold" text-anchor="middle" fill="#1c1c1c" stroke="#1c1c1c" stroke-width="0.28">0</text>
<line x1="484.15" y1="142.30" x2="484.15" y2="144.30" stroke="#2a2a2a" stroke-width="0.9"/>
<line x1="497.50" y1="142.30" x2="497.50" y2="145.60" stroke="#2a2a2a" stroke-width="0.9"/>
<text transform="translate(497.50 153.80) scale(0.93 1.12)" font-size="7.9" font-weight="bold" text-anchor="middle" fill="#1c1c1c" stroke="#1c1c1c" stroke-width="0.28">5</text>
<line x1="510.85" y1="142.30" x2="510.85" y2="144.30" stroke="#2a2a2a" stroke-width="0.9"/>
<line x1="524.20" y1="142.30" x2="524.20" y2="145.60" stroke="#2a2a2a" stroke-width="0.9"/>
<text transform="translate(524.20 153.80) scale(0.93 1.12)" font-size="7.9" font-weight="bold" text-anchor="middle" fill="#1c1c1c" stroke="#1c1c1c" stroke-width="0.28">10</text>
<line x1="537.55" y1="142.30" x2="537.55" y2="144.30" stroke="#2a2a2a" stroke-width="0.9"/>
<line x1="550.90" y1="142.30" x2="550.90" y2="145.60" stroke="#2a2a2a" stroke-width="0.9"/>
<text transform="translate(550.90 153.80) scale(0.93 1.12)" font-size="7.9" font-weight="bold" text-anchor="middle" fill="#1c1c1c" stroke="#1c1c1c" stroke-width="0.28">15</text>
<line x1="564.25" y1="142.30" x2="564.25" y2="144.30" stroke="#2a2a2a" stroke-width="0.9"/>
<line x1="577.60" y1="142.30" x2="577.60" y2="145.60" stroke="#2a2a2a" stroke-width="0.9"/>
<text transform="translate(577.60 153.80) scale(0.93 1.12)" font-size="7.9" font-weight="bold" text-anchor="middle" fill="#1c1c1c" stroke="#1c1c1c" stroke-width="0.28">20</text>
<line x1="590.95" y1="142.30" x2="590.95" y2="144.30" stroke="#2a2a2a" stroke-width="0.9"/>
<line x1="604.30" y1="142.30" x2="604.30" y2="145.60" stroke="#2a2a2a" stroke-width="0.9"/>
<text transform="translate(604.30 153.80) scale(0.93 1.12)" font-size="7.9" font-weight="bold" text-anchor="middle" fill="#1c1c1c" stroke="#1c1c1c" stroke-width="0.28">25</text>
<line x1="617.65" y1="142.30" x2="617.65" y2="144.30" stroke="#2a2a2a" stroke-width="0.9"/>
<line x1="631.00" y1="142.30" x2="631.00" y2="145.60" stroke="#2a2a2a" stroke-width="0.9"/>
<text transform="translate(631.00 153.80) scale(0.93 1.12)" font-size="7.9" font-weight="bold" text-anchor="middle" fill="#1c1c1c" stroke="#1c1c1c" stroke-width="0.28">30</text>
<line x1="467.50" y1="142.30" x2="470.80" y2="142.30" stroke="#2a2a2a" stroke-width="0.9"/>
<text transform="translate(466.00 145.00) scale(0.93 1.12)" font-size="7.9" font-weight="bold" text-anchor="end" fill="#1c1c1c" stroke="#1c1c1c" stroke-width="0.28">0</text>
<line x1="468.80" y1="134.51" x2="470.80" y2="134.51" stroke="#2a2a2a" stroke-width="0.9"/>
<line x1="467.50" y1="126.73" x2="470.80" y2="126.73" stroke="#2a2a2a" stroke-width="0.9"/>
<text transform="translate(466.00 129.43) scale(0.93 1.12)" font-size="7.9" font-weight="bold" text-anchor="end" fill="#1c1c1c" stroke="#1c1c1c" stroke-width="0.28">20</text>
<line x1="468.80" y1="118.94" x2="470.80" y2="118.94" stroke="#2a2a2a" stroke-width="0.9"/>
<line x1="467.50" y1="111.16" x2="470.80" y2="111.16" stroke="#2a2a2a" stroke-width="0.9"/>
<text transform="translate(466.00 113.86) scale(0.93 1.12)" font-size="7.9" font-weight="bold" text-anchor="end" fill="#1c1c1c" stroke="#1c1c1c" stroke-width="0.28">40</text>
<line x1="468.80" y1="103.37" x2="470.80" y2="103.37" stroke="#2a2a2a" stroke-width="0.9"/>
<line x1="467.50" y1="95.59" x2="470.80" y2="95.59" stroke="#2a2a2a" stroke-width="0.9"/>
<text transform="translate(466.00 98.29) scale(0.93 1.12)" font-size="7.9" font-weight="bold" text-anchor="end" fill="#1c1c1c" stroke="#1c1c1c" stroke-width="0.28">60</text>
<line x1="468.80" y1="87.80" x2="470.80" y2="87.80" stroke="#2a2a2a" stroke-width="0.9"/>
<line x1="467.50" y1="80.01" x2="470.80" y2="80.01" stroke="#2a2a2a" stroke-width="0.9"/>
<text transform="translate(466.00 82.71) scale(0.93 1.12)" font-size="7.9" font-weight="bold" text-anchor="end" fill="#1c1c1c" stroke="#1c1c1c" stroke-width="0.28">80</text>
<line x1="468.80" y1="72.23" x2="470.80" y2="72.23" stroke="#2a2a2a" stroke-width="0.9"/>
<line x1="467.50" y1="64.44" x2="470.80" y2="64.44" stroke="#2a2a2a" stroke-width="0.9"/>
<text transform="translate(466.00 67.14) scale(0.93 1.12)" font-size="7.9" font-weight="bold" text-anchor="end" fill="#1c1c1c" stroke="#1c1c1c" stroke-width="0.28">100</text>
<line x1="468.80" y1="56.66" x2="470.80" y2="56.66" stroke="#2a2a2a" stroke-width="0.9"/>
<line x1="467.50" y1="48.87" x2="470.80" y2="48.87" stroke="#2a2a2a" stroke-width="0.9"/>
<text transform="translate(466.00 51.57) scale(0.93 1.12)" font-size="7.9" font-weight="bold" text-anchor="end" fill="#1c1c1c" stroke="#1c1c1c" stroke-width="0.28">120</text>
<line x1="468.80" y1="41.09" x2="470.80" y2="41.09" stroke="#2a2a2a" stroke-width="0.9"/>
<line x1="467.50" y1="33.30" x2="470.80" y2="33.30" stroke="#2a2a2a" stroke-width="0.9"/>
<text transform="translate(466.00 36.00) scale(0.93 1.12)" font-size="7.9" font-weight="bold" text-anchor="end" fill="#1c1c1c" stroke="#1c1c1c" stroke-width="0.28">140</text>
<line x1="468.80" y1="25.51" x2="470.80" y2="25.51" stroke="#2a2a2a" stroke-width="0.9"/>
<text x="510.00" y="167.00" font-size="10.1" font-weight="bold" text-anchor="start" fill="#1c1c1c" stroke="#1c1c1c" stroke-width="0.28">Cycle Number <tspan font-weight="normal" font-size="9.2">(n)</tspan></text>
<text x="446.50" y="86.90" font-size="10.3" font-weight="bold" text-anchor="middle" fill="#1c1c1c" stroke="#1c1c1c" stroke-width="0.28" transform="rotate(-90 446.50 86.90)">Specific Capacity (mAh g<tspan dy="-4.94" font-size="6.39">-1</tspan><tspan dy="4.94">)</tspan></text>
<polyline points="476.14,51.21 481.48,51.21 486.82,51.99 492.16,51.21 497.50,51.21 502.84,66.00 508.18,64.44 513.52,64.44 518.86,64.44 524.20,64.44 529.54,78.46 534.88,78.46 540.22,78.46 545.56,78.46 550.90,78.46 556.24,84.69 561.58,84.69 566.92,84.69 572.26,84.69 577.60,84.69 582.94,91.69 588.28,91.69 593.62,91.69 598.96,91.69 604.30,91.69 609.64,55.10 614.98,55.88 620.32,55.88 625.66,56.66 631.00,57.44" fill="none" stroke="#5470c0" stroke-width="0.9"/>
<circle cx="476.14" cy="51.21" r="2.6" fill="#5470c0"/>
<circle cx="481.48" cy="51.21" r="2.6" fill="#5470c0"/>
<circle cx="486.82" cy="51.99" r="2.6" fill="#5470c0"/>
<circle cx="492.16" cy="51.21" r="2.6" fill="#5470c0"/>
<circle cx="497.50" cy="51.21" r="2.6" fill="#5470c0"/>
<circle cx="502.84" cy="66.00" r="2.6" fill="#5470c0"/>
<circle cx="508.18" cy="64.44" r="2.6" fill="#5470c0"/>
<circle cx="513.52" cy="64.44" r="2.6" fill="#5470c0"/>
<circle cx="518.86" cy="64.44" r="2.6" fill="#5470c0"/>
<circle cx="524.20" cy="64.44" r="2.6" fill="#5470c0"/>
<circle cx="529.54" cy="78.46" r="2.6" fill="#5470c0"/>
<circle cx="534.88" cy="78.46" r="2.6" fill="#5470c0"/>
<circle cx="540.22" cy="78.46" r="2.6" fill="#5470c0"/>
<circle cx="545.56" cy="78.46" r="2.6" fill="#5470c0"/>
<circle cx="550.90" cy="78.46" r="2.6" fill="#5470c0"/>
<circle cx="556.24" cy="84.69" r="2.6" fill="#5470c0"/>
<circle cx="561.58" cy="84.69" r="2.6" fill="#5470c0"/>
<circle cx="566.92" cy="84.69" r="2.6" fill="#5470c0"/>
<circle cx="572.26" cy="84.69" r="2.6" fill="#5470c0"/>
<circle cx="577.60" cy="84.69" r="2.6" fill="#5470c0"/>
<circle cx="582.94" cy="91.69" r="2.6" fill="#5470c0"/>
<circle cx="588.28" cy="91.69" r="2.6" fill="#5470c0"/>
<circle cx="593.62" cy="91.69" r="2.6" fill="#5470c0"/>
<circle cx="598.96" cy="91.69" r="2.6" fill="#5470c0"/>
<circle cx="604.30" cy="91.69" r="2.6" fill="#5470c0"/>
<circle cx="609.64" cy="55.10" r="2.6" fill="#5470c0"/>
<circle cx="614.98" cy="55.88" r="2.6" fill="#5470c0"/>
<circle cx="620.32" cy="55.88" r="2.6" fill="#5470c0"/>
<circle cx="625.66" cy="56.66" r="2.6" fill="#5470c0"/>
<circle cx="631.00" cy="57.44" r="2.6" fill="#5470c0"/>
<polyline points="476.14,51.99 481.48,51.99 486.82,52.76 492.16,53.54 497.50,52.76 502.84,72.23 508.18,70.67 513.52,71.45 518.86,72.23 524.20,72.23 529.54,87.02 534.88,86.24 540.22,86.24 545.56,86.24 550.90,85.46 556.24,94.81 561.58,95.59 566.92,95.59 572.26,96.36 577.60,96.36 582.94,119.72 588.28,118.94 593.62,118.94 598.96,118.16 604.30,118.16 609.64,52.76 614.98,56.66 620.32,57.44 625.66,58.21 631.00,61.33" fill="none" stroke="#ee1c24" stroke-width="0.9"/>
<circle cx="476.14" cy="51.99" r="2.7" fill="#ee1c24"/>
<circle cx="481.48" cy="51.99" r="2.7" fill="#ee1c24"/>
<circle cx="486.82" cy="52.76" r="2.7" fill="#ee1c24"/>
<circle cx="492.16" cy="53.54" r="2.7" fill="#ee1c24"/>
<circle cx="497.50" cy="52.76" r="2.7" fill="#ee1c24"/>
<circle cx="502.84" cy="72.23" r="2.7" fill="#ee1c24"/>
<circle cx="508.18" cy="70.67" r="2.7" fill="#ee1c24"/>
<circle cx="513.52" cy="71.45" r="2.7" fill="#ee1c24"/>
<circle cx="518.86" cy="72.23" r="2.7" fill="#ee1c24"/>
<circle cx="524.20" cy="72.23" r="2.7" fill="#ee1c24"/>
<circle cx="529.54" cy="87.02" r="2.7" fill="#ee1c24"/>
<circle cx="534.88" cy="86.24" r="2.7" fill="#ee1c24"/>
<circle cx="540.22" cy="86.24" r="2.7" fill="#ee1c24"/>
<circle cx="545.56" cy="86.24" r="2.7" fill="#ee1c24"/>
<circle cx="550.90" cy="85.46" r="2.7" fill="#ee1c24"/>
<circle cx="556.24" cy="94.81" r="2.7" fill="#ee1c24"/>
<circle cx="561.58" cy="95.59" r="2.7" fill="#ee1c24"/>
<circle cx="566.92" cy="95.59" r="2.7" fill="#ee1c24"/>
<circle cx="572.26" cy="96.36" r="2.7" fill="#ee1c24"/>
<circle cx="577.60" cy="96.36" r="2.7" fill="#ee1c24"/>
<circle cx="582.94" cy="119.72" r="2.7" fill="#ee1c24"/>
<circle cx="588.28" cy="118.94" r="2.7" fill="#ee1c24"/>
<circle cx="593.62" cy="118.94" r="2.7" fill="#ee1c24"/>
<circle cx="598.96" cy="118.16" r="2.7" fill="#ee1c24"/>
<circle cx="604.30" cy="118.16" r="2.7" fill="#ee1c24"/>
<circle cx="609.64" cy="52.76" r="2.7" fill="#ee1c24"/>
<circle cx="614.98" cy="56.66" r="2.7" fill="#ee1c24"/>
<circle cx="620.32" cy="57.44" r="2.7" fill="#ee1c24"/>
<circle cx="625.66" cy="58.21" r="2.7" fill="#ee1c24"/>
<circle cx="631.00" cy="61.33" r="2.7" fill="#ee1c24"/>
<text x="486.00" y="43.50" font-size="8.3" font-weight="bold" text-anchor="middle" fill="#1c1c1c" stroke="#1c1c1c" stroke-width="0.28">20</text>
<text x="513.00" y="51.40" font-size="8.3" font-weight="bold" text-anchor="middle" fill="#1c1c1c" stroke="#1c1c1c" stroke-width="0.28">100</text>
<text x="540.50" y="66.00" font-size="8.3" font-weight="bold" text-anchor="middle" fill="#1c1c1c" stroke="#1c1c1c" stroke-width="0.28">500</text>
<text x="566.00" y="74.00" font-size="8.3" font-weight="bold" text-anchor="middle" fill="#1c1c1c" stroke="#1c1c1c" stroke-width="0.28">1000</text>
<text x="593.70" y="84.30" font-size="8.3" font-weight="bold" text-anchor="middle" fill="#1c1c1c" stroke="#1c1c1c" stroke-width="0.28">2000</text>
<text x="619.80" y="50.00" font-size="8.3" font-weight="bold" text-anchor="middle" fill="#1c1c1c" stroke="#1c1c1c" stroke-width="0.28">20</text>
<text x="629.00" y="34.20" font-size="10.0" font-weight="bold" text-anchor="end" fill="#1c1c1c" stroke="#1c1c1c" stroke-width="0.28">@ mA g<tspan dy="-4.80" font-size="6.20">-1</tspan></text>
<line x1="472.60" y1="123.30" x2="490.50" y2="123.30" stroke="#ee1c24" stroke-width="0.9"/>
<circle cx="481.6" cy="123.3" r="2.8" fill="#ee1c24"/>
<text x="491.50" y="126.80" font-size="10.1" font-weight="bold" text-anchor="start" fill="#1c1c1c" stroke="#1c1c1c" stroke-width="0.28">KFMTO</text>
<line x1="472.60" y1="136.30" x2="490.50" y2="136.30" stroke="#5470c0" stroke-width="0.9"/>
<circle cx="481.6" cy="136.3" r="2.8" fill="#5470c0"/>
<text x="491.50" y="139.80" font-size="10.1" font-weight="bold" text-anchor="start" fill="#1c1c1c" stroke="#1c1c1c" stroke-width="0.28">KFMTO &#183; 0.16 H<tspan dy="2.52" font-size="6.26">2</tspan><tspan dy="-2.52">O</tspan></text>
<text x="16.30" y="181.00" font-size="18" font-weight="bold" text-anchor="start" fill="#1c1c1c" stroke="#1c1c1c" stroke-width="0.28">d</text>
<rect x="39.10" y="191.00" width="159.60" height="121.00" fill="none" stroke="#2a2a2a" stroke-width="1.3"/>
<line x1="39.10" y1="312.00" x2="39.10" y2="315.30" stroke="#2a2a2a" stroke-width="0.9"/>
<text transform="translate(39.10 323.80) scale(0.93 1.12)" font-size="7.9" font-weight="bold" text-anchor="middle" fill="#1c1c1c" stroke="#1c1c1c" stroke-width="0.28">0</text>
<line x1="55.06" y1="312.00" x2="55.06" y2="314.00" stroke="#2a2a2a" stroke-width="0.9"/>
<line x1="71.02" y1="312.00" x2="71.02" y2="315.30" stroke="#2a2a2a" stroke-width="0.9"/>
<text transform="translate(71.02 323.80) scale(0.93 1.12)" font-size="7.9" font-weight="bold" text-anchor="middle" fill="#1c1c1c" stroke="#1c1c1c" stroke-width="0.28">200</text>
<line x1="86.98" y1="312.00" x2="86.98" y2="314.00" stroke="#2a2a2a" stroke-width="0.9"/>
<line x1="102.94" y1="312.00" x2="102.94" y2="315.30" stroke="#2a2a2a" stroke-width="0.9"/>
<text transform="translate(102.94 323.80) scale(0.93 1.12)" font-size="7.9" font-weight="bold" text-anchor="middle" fill="#1c1c1c" stroke="#1c1c1c" stroke-width="0.28">400</text>
<line x1="118.90" y1="312.00" x2="118.90" y2="314.00" stroke="#2a2a2a" stroke-width="0.9"/>
<line x1="134.86" y1="312.00" x2="134.86" y2="315.30" stroke="#2a2a2a" stroke-width="0.9"/>
<text transform="translate(134.86 323.80) scale(0.93 1.12)" font-size="7.9" font-weight="bold" text-anchor="middle" fill="#1c1c1c" stroke="#1c1c1c" stroke-width="0.28">600</text>
<line x1="150.82" y1="312.00" x2="150.82" y2="314.00" stroke="#2a2a2a" stroke-width="0.9"/>
<line x1="166.78" y1="312.00" x2="166.78" y2="315.30" stroke="#2a2a2a" stroke-width="0.9"/>
<text transform="translate(166.78 323.80) scale(0.93 1.12)" font-size="7.9" font-weight="bold" text-anchor="middle" fill="#1c1c1c" stroke="#1c1c1c" stroke-width="0.28">800</text>
<line x1="182.74" y1="312.00" x2="182.74" y2="314.00" stroke="#2a2a2a" stroke-width="0.9"/>
<line x1="198.70" y1="312.00" x2="198.70" y2="315.30" stroke="#2a2a2a" stroke-width="0.9"/>
<text transform="translate(198.70 323.80) scale(0.93 1.12)" font-size="7.9" font-weight="bold" text-anchor="middle" fill="#1c1c1c" stroke="#1c1c1c" stroke-width="0.28">1000</text>
<line x1="35.80" y1="312.00" x2="39.10" y2="312.00" stroke="#2a2a2a" stroke-width="0.9"/>
<text transform="translate(34.00 314.70) scale(0.93 1.12)" font-size="7.9" font-weight="bold" text-anchor="end" fill="#1c1c1c" stroke="#1c1c1c" stroke-width="0.28">0</text>
<line x1="37.10" y1="299.90" x2="39.10" y2="299.90" stroke="#2a2a2a" stroke-width="0.9"/>
<line x1="35.80" y1="287.80" x2="39.10" y2="287.80" stroke="#2a2a2a" stroke-width="0.9"/>
<text transform="translate(34.00 290.50) scale(0.93 1.12)" font-size="7.9" font-weight="bold" text-anchor="end" fill="#1c1c1c" stroke="#1c1c1c" stroke-width="0.28">20</text>
<line x1="37.10" y1="275.70" x2="39.10" y2="275.70" stroke="#2a2a2a" stroke-width="0.9"/>
<line x1="35.80" y1="263.60" x2="39.10" y2="263.60" stroke="#2a2a2a" stroke-width="0.9"/>
<text transform="translate(34.00 266.30) scale(0.93 1.12)" font-size="7.9" font-weight="bold" text-anchor="end" fill="#1c1c1c" stroke="#1c1c1c" stroke-width="0.28">40</text>
<line x1="37.10" y1="251.50" x2="39.10" y2="251.50" stroke="#2a2a2a" stroke-width="0.9"/>
<line x1="35.80" y1="239.40" x2="39.10" y2="239.40" stroke="#2a2a2a" stroke-width="0.9"/>
<text transform="translate(34.00 242.10) scale(0.93 1.12)" font-size="7.9" font-weight="bold" text-anchor="end" fill="#1c1c1c" stroke="#1c1c1c" stroke-width="0.28">60</text>
<line x1="37.10" y1="227.30" x2="39.10" y2="227.30" stroke="#2a2a2a" stroke-width="0.9"/>
<line x1="35.80" y1="215.20" x2="39.10" y2="215.20" stroke="#2a2a2a" stroke-width="0.9"/>
<text transform="translate(34.00 217.90) scale(0.93 1.12)" font-size="7.9" font-weight="bold" text-anchor="end" fill="#1c1c1c" stroke="#1c1c1c" stroke-width="0.28">80</text>
<line x1="37.10" y1="203.10" x2="39.10" y2="203.10" stroke="#2a2a2a" stroke-width="0.9"/>
<line x1="35.80" y1="191.00" x2="39.10" y2="191.00" stroke="#2a2a2a" stroke-width="0.9"/>
<text transform="translate(34.00 193.70) scale(0.93 1.12)" font-size="7.9" font-weight="bold" text-anchor="end" fill="#1c1c1c" stroke="#1c1c1c" stroke-width="0.28">100</text>
<text x="77.50" y="334.80" font-size="10.1" font-weight="bold" text-anchor="start" fill="#1c1c1c" stroke="#1c1c1c" stroke-width="0.28">Cycle Number (n)</text>
<text x="15.00" y="251.20" font-size="10.3" font-weight="bold" text-anchor="middle" fill="#1c1c1c" stroke="#1c1c1c" stroke-width="0.28" transform="rotate(-90 15.00 251.20)">Specific Capacity (mAh g<tspan dy="-4.94" font-size="6.39">-1</tspan><tspan dy="4.94">)</tspan></text>
<text x="43.00" y="205.50" font-size="10.0" font-weight="bold" text-anchor="start" fill="#1c1c1c" stroke="#1c1c1c" stroke-width="0.28">2 A g<tspan dy="-4.80" font-size="6.20">-1</tspan></text>
<g fill="#5a74c4"><circle cx="39.42" cy="226.04" r="2.6"/><circle cx="40.38" cy="225.89" r="2.6"/><circle cx="41.33" cy="226.58" r="2.6"/><circle cx="42.29" cy="226.36" r="2.6"/><circle cx="43.25" cy="225.91" r="2.6"/><circle cx="44.21" cy="226.01" r="2.6"/><circle cx="45.16" cy="227.19" r="2.6"/><circle cx="46.12" cy="227.17" r="2.6"/><circle cx="47.08" cy="227.51" r="2.6"/><circle cx="48.04" cy="227.09" r="2.6"/><circle cx="49.00" cy="227.86" r="2.6"/><circle cx="49.95" cy="227.45" r="2.6"/><circle cx="50.91" cy="227.40" r="2.6"/><circle cx="51.87" cy="228.19" r="2.6"/><circle cx="52.83" cy="227.88" r="2.6"/><circle cx="53.78" cy="228.30" r="2.6"/><circle cx="54.74" cy="229.43" r="2.6"/><circle cx="55.70" cy="228.87" r="2.6"/><circle cx="56.66" cy="229.47" r="2.6"/><circle cx="57.61" cy="229.40" r="2.6"/><circle cx="58.57" cy="229.76" r="2.6"/><circle cx="59.53" cy="229.31" r="2.6"/><circle cx="60.49" cy="229.82" r="2.6"/><circle cx="61.44" cy="230.35" r="2.6"/><circle cx="62.40" cy="229.88" r="2.6"/><circle cx="63.36" cy="229.61" r="2.6"/><circle cx="64.32" cy="230.35" r="2.6"/><circle cx="65.27" cy="230.49" r="2.6"/><circle cx="66.23" cy="230.24" r="2.6"/><circle cx="67.19" cy="229.40" r="2.6"/><circle cx="68.15" cy="229.28" r="2.6"/><circle cx="69.10" cy="229.63" r="2.6"/><circle cx="70.06" cy="229.18" r="2.6"/><circle cx="71.02" cy="229.13" r="2.6"/><circle cx="71.98" cy="229.72" r="2.6"/><circle cx="72.94" cy="230.03" r="2.6"/><circle cx="73.89" cy="229.11" r="2.6"/><circle cx="74.85" cy="229.14" r="2.6"/><circle cx="75.81" cy="229.31" r="2.6"/><circle cx="76.77" cy="229.41" r="2.6"/><circle cx="77.72" cy="229.06" r="2.6"/><circle cx="78.68" cy="228.90" r="2.6"/><circle cx="79.64" cy="229.14" r="2.6"/><circle cx="80.60" cy="229.08" r="2.6"/><circle cx="81.55" cy="228.84" r="2.6"/><circle cx="82.51" cy="228.28" r="2.6"/><circle cx="83.47" cy="228.73" r="2.6"/><circle cx="84.43" cy="229.26" r="2.6"/><circle cx="85.38" cy="229.37" r="2.6"/><circle cx="86.34" cy="229.25" r="2.6"/><circle cx="87.30" cy="229.78" r="2.6"/><circle cx="88.26" cy="229.96" r="2.6"/><circle cx="89.21" cy="229.71" r="2.6"/><circle cx="90.17" cy="230.53" r="2.6"/><circle cx="91.13" cy="230.18" r="2.6"/><circle cx="92.09" cy="230.57" r="2.6"/><circle cx="93.04" cy="230.29" r="2.6"/><circle cx="94.00" cy="230.44" r="2.6"/><circle cx="94.96" cy="230.73" r="2.6"/><circle cx="95.92" cy="230.91" r="2.6"/><circle cx="96.88" cy="231.54" r="2.6"/><circle cx="97.83" cy="231.25" r="2.6"/><circle cx="98.79" cy="231.85" r="2.6"/><circle cx="99.75" cy="231.60" r="2.6"/><circle cx="100.71" cy="232.02" r="2.6"/><circle cx="101.66" cy="231.88" r="2.6"/><circle cx="102.62" cy="232.45" r="2.6"/><circle cx="103.58" cy="232.17" r="2.6"/><circle cx="104.54" cy="231.08" r="2.6"/><circle cx="105.49" cy="232.10" r="2.6"/><circle cx="106.45" cy="231.36" r="2.6"/><circle cx="107.41" cy="231.33" r="2.6"/><circle cx="108.37" cy="231.13" r="2.6"/><circle cx="109.32" cy="231.39" r="2.6"/><circle cx="110.28" cy="231.11" r="2.6"/><circle cx="111.24" cy="231.78" r="2.6"/><circle cx="112.20" cy="231.69" r="2.6"/><circle cx="113.15" cy="231.43" r="2.6"/><circle cx="114.11" cy="231.44" r="2.6"/><circle cx="115.07" cy="231.49" r="2.6"/><circle cx="116.03" cy="231.43" r="2.6"/><circle cx="116.98" cy="230.84" r="2.6"/><circle cx="117.94" cy="231.41" r="2.6"/><circle cx="118.90" cy="230.38" r="2.6"/><circle cx="119.86" cy="230.87" r="2.6"/><circle cx="120.82" cy="231.21" r="2.6"/><circle cx="121.77" cy="231.10" r="2.6"/><circle cx="122.73" cy="231.90" r="2.6"/><circle cx="123.69" cy="231.11" r="2.6"/><circle cx="124.65" cy="231.42" r="2.6"/><circle cx="125.60" cy="231.78" r="2.6"/><circle cx="126.56" cy="232.34" r="2.6"/><circle cx="127.52" cy="232.02" r="2.6"/><circle cx="128.48" cy="232.36" r="2.6"/><circle cx="129.43" cy="232.68" r="2.6"/><circle cx="130.39" cy="232.49" r="2.6"/><circle cx="131.35" cy="233.06" r="2.6"/><circle cx="132.31" cy="233.59" r="2.6"/><circle cx="133.26" cy="233.44" r="2.6"/><circle cx="134.22" cy="234.05" r="2.6"/><circle cx="135.18" cy="234.12" r="2.6"/><circle cx="136.14" cy="233.39" r="2.6"/><circle cx="137.09" cy="233.31" r="2.6"/><circle cx="138.05" cy="233.02" r="2.6"/><circle cx="139.01" cy="233.15" r="2.6"/><circle cx="139.97" cy="233.53" r="2.6"/><circle cx="140.92" cy="234.11" r="2.6"/><circle cx="141.88" cy="233.42" r="2.6"/><circle cx="142.84" cy="232.67" r="2.6"/><circle cx="143.80" cy="232.75" r="2.6"/><circle cx="144.76" cy="233.06" r="2.6"/><circle cx="145.71" cy="232.98" r="2.6"/><circle cx="146.67" cy="233.21" r="2.6"/><circle cx="147.63" cy="233.16" r="2.6"/><circle cx="148.59" cy="233.22" r="2.6"/><circle cx="149.54" cy="231.96" r="2.6"/><circle cx="150.50" cy="232.27" r="2.6"/><circle cx="151.46" cy="232.98" r="2.6"/><circle cx="152.42" cy="232.60" r="2.6"/><circle cx="153.37" cy="233.18" r="2.6"/><circle cx="154.33" cy="233.02" r="2.6"/><circle cx="155.29" cy="232.36" r="2.6"/><circle cx="156.25" cy="232.61" r="2.6"/><circle cx="157.20" cy="233.01" r="2.6"/><circle cx="158.16" cy="233.48" r="2.6"/><circle cx="159.12" cy="233.12" r="2.6"/><circle cx="160.08" cy="232.88" r="2.6"/><circle cx="161.03" cy="233.85" r="2.6"/><circle cx="161.99" cy="234.60" r="2.6"/><circle cx="162.95" cy="234.84" r="2.6"/><circle cx="163.91" cy="235.02" r="2.6"/><circle cx="164.86" cy="233.95" r="2.6"/><circle cx="165.82" cy="234.74" r="2.6"/><circle cx="166.78" cy="234.48" r="2.6"/><circle cx="167.74" cy="235.60" r="2.6"/><circle cx="168.70" cy="235.60" r="2.6"/><circle cx="169.65" cy="235.07" r="2.6"/><circle cx="170.61" cy="234.84" r="2.6"/><circle cx="171.57" cy="235.69" r="2.6"/><circle cx="172.53" cy="236.11" r="2.6"/><circle cx="173.48" cy="234.93" r="2.6"/><circle cx="174.44" cy="235.73" r="2.6"/><circle cx="175.40" cy="235.01" r="2.6"/><circle cx="176.36" cy="235.78" r="2.6"/><circle cx="177.31" cy="234.91" r="2.6"/><circle cx="178.27" cy="234.59" r="2.6"/><circle cx="179.23" cy="234.65" r="2.6"/><circle cx="180.19" cy="235.07" r="2.6"/><circle cx="181.14" cy="234.42" r="2.6"/><circle cx="182.10" cy="235.18" r="2.6"/><circle cx="183.06" cy="234.84" r="2.6"/><circle cx="184.02" cy="234.61" r="2.6"/><circle cx="184.97" cy="233.90" r="2.6"/><circle cx="185.93" cy="234.92" r="2.6"/><circle cx="186.89" cy="233.86" r="2.6"/><circle cx="187.85" cy="234.01" r="2.6"/><circle cx="188.80" cy="233.81" r="2.6"/><circle cx="189.76" cy="234.77" r="2.6"/><circle cx="190.72" cy="235.12" r="2.6"/><circle cx="191.68" cy="235.21" r="2.6"/><circle cx="192.64" cy="234.51" r="2.6"/><circle cx="193.59" cy="234.49" r="2.6"/><circle cx="194.55" cy="235.08" r="2.6"/><circle cx="195.51" cy="235.60" r="2.6"/><circle cx="196.47" cy="236.10" r="2.6"/><circle cx="197.42" cy="235.52" r="2.6"/><circle cx="198.38" cy="235.68" r="2.6"/></g>
<g fill="#ee1c24"><circle cx="39.42" cy="262.40" r="2.6"/><circle cx="40.38" cy="262.61" r="2.6"/><circle cx="41.33" cy="262.23" r="2.6"/><circle cx="42.29" cy="262.57" r="2.6"/><circle cx="43.25" cy="263.58" r="2.6"/><circle cx="44.21" cy="264.01" r="2.6"/><circle cx="45.16" cy="264.26" r="2.6"/><circle cx="46.12" cy="264.57" r="2.6"/><circle cx="47.08" cy="265.54" r="2.6"/><circle cx="48.04" cy="265.08" r="2.6"/><circle cx="49.00" cy="265.88" r="2.6"/><circle cx="49.95" cy="266.03" r="2.6"/><circle cx="50.91" cy="267.12" r="2.6"/><circle cx="51.87" cy="266.67" r="2.6"/><circle cx="52.83" cy="267.36" r="2.6"/><circle cx="53.78" cy="268.29" r="2.6"/><circle cx="54.74" cy="267.99" r="2.6"/><circle cx="55.70" cy="268.49" r="2.6"/><circle cx="56.66" cy="268.39" r="2.6"/><circle cx="57.61" cy="269.43" r="2.6"/><circle cx="58.57" cy="269.49" r="2.6"/><circle cx="59.53" cy="268.73" r="2.6"/><circle cx="60.49" cy="269.33" r="2.6"/><circle cx="61.44" cy="269.15" r="2.6"/><circle cx="62.40" cy="269.65" r="2.6"/><circle cx="63.36" cy="268.73" r="2.6"/><circle cx="64.32" cy="269.38" r="2.6"/><circle cx="65.27" cy="269.06" r="2.6"/><circle cx="66.23" cy="270.04" r="2.6"/><circle cx="67.19" cy="269.63" r="2.6"/><circle cx="68.15" cy="270.20" r="2.6"/><circle cx="69.10" cy="269.28" r="2.6"/><circle cx="70.06" cy="269.88" r="2.6"/><circle cx="71.02" cy="270.41" r="2.6"/><circle cx="71.98" cy="270.46" r="2.6"/><circle cx="72.94" cy="269.96" r="2.6"/><circle cx="73.89" cy="270.58" r="2.6"/><circle cx="74.85" cy="270.51" r="2.6"/><circle cx="75.81" cy="270.26" r="2.6"/><circle cx="76.77" cy="270.25" r="2.6"/><circle cx="77.72" cy="270.20" r="2.6"/><circle cx="78.68" cy="270.22" r="2.6"/><circle cx="79.64" cy="270.58" r="2.6"/><circle cx="80.60" cy="270.34" r="2.6"/><circle cx="81.55" cy="270.95" r="2.6"/><circle cx="82.51" cy="270.87" r="2.6"/><circle cx="83.47" cy="270.30" r="2.6"/><circle cx="84.43" cy="271.14" r="2.6"/><circle cx="85.38" cy="271.11" r="2.6"/><circle cx="86.34" cy="271.14" r="2.6"/><circle cx="87.30" cy="270.92" r="2.6"/><circle cx="88.26" cy="271.56" r="2.6"/><circle cx="89.21" cy="271.58" r="2.6"/><circle cx="90.17" cy="271.12" r="2.6"/><circle cx="91.13" cy="271.54" r="2.6"/><circle cx="92.09" cy="270.97" r="2.6"/><circle cx="93.04" cy="270.89" r="2.6"/><circle cx="94.00" cy="271.21" r="2.6"/><circle cx="94.96" cy="271.13" r="2.6"/><circle cx="95.92" cy="271.55" r="2.6"/><circle cx="96.88" cy="272.03" r="2.6"/><circle cx="97.83" cy="271.61" r="2.6"/><circle cx="98.79" cy="271.75" r="2.6"/><circle cx="99.75" cy="271.54" r="2.6"/><circle cx="100.71" cy="272.16" r="2.6"/><circle cx="101.66" cy="272.11" r="2.6"/><circle cx="102.62" cy="271.46" r="2.6"/><circle cx="103.58" cy="272.18" r="2.6"/><circle cx="104.54" cy="272.07" r="2.6"/><circle cx="105.49" cy="271.49" r="2.6"/><circle cx="106.45" cy="272.35" r="2.6"/><circle cx="107.41" cy="272.57" r="2.6"/><circle cx="108.37" cy="271.96" r="2.6"/><circle cx="109.32" cy="272.18" r="2.6"/><circle cx="110.28" cy="272.19" r="2.6"/><circle cx="111.24" cy="272.94" r="2.6"/><circle cx="112.20" cy="272.55" r="2.6"/><circle cx="113.15" cy="273.11" r="2.6"/><circle cx="114.11" cy="272.87" r="2.6"/><circle cx="115.07" cy="272.38" r="2.6"/><circle cx="116.03" cy="273.22" r="2.6"/><circle cx="116.98" cy="273.00" r="2.6"/><circle cx="117.94" cy="272.22" r="2.6"/><circle cx="118.90" cy="272.30" r="2.6"/><circle cx="119.86" cy="272.95" r="2.6"/><circle cx="120.82" cy="272.71" r="2.6"/><circle cx="121.77" cy="272.89" r="2.6"/><circle cx="122.73" cy="273.16" r="2.6"/><circle cx="123.69" cy="272.74" r="2.6"/><circle cx="124.65" cy="273.63" r="2.6"/><circle cx="125.60" cy="272.90" r="2.6"/><circle cx="126.56" cy="273.91" r="2.6"/><circle cx="127.52" cy="272.97" r="2.6"/><circle cx="128.48" cy="273.27" r="2.6"/><circle cx="129.43" cy="273.61" r="2.6"/><circle cx="130.39" cy="273.39" r="2.6"/><circle cx="131.35" cy="273.71" r="2.6"/><circle cx="132.31" cy="273.38" r="2.6"/><circle cx="133.26" cy="274.25" r="2.6"/><circle cx="134.22" cy="273.83" r="2.6"/><circle cx="135.18" cy="273.45" r="2.6"/><circle cx="136.14" cy="273.43" r="2.6"/><circle cx="137.09" cy="274.33" r="2.6"/><circle cx="138.05" cy="274.33" r="2.6"/><circle cx="139.01" cy="273.58" r="2.6"/><circle cx="139.97" cy="274.30" r="2.6"/><circle cx="140.92" cy="274.70" r="2.6"/><circle cx="141.88" cy="273.94" r="2.6"/><circle cx="142.84" cy="274.35" r="2.6"/><circle cx="143.80" cy="274.01" r="2.6"/><circle cx="144.76" cy="274.36" r="2.6"/><circle cx="145.71" cy="274.38" r="2.6"/><circle cx="146.67" cy="274.52" r="2.6"/><circle cx="147.63" cy="274.72" r="2.6"/><circle cx="148.59" cy="274.02" r="2.6"/><circle cx="149.54" cy="274.35" r="2.6"/><circle cx="150.50" cy="274.25" r="2.6"/><circle cx="151.46" cy="274.16" r="2.6"/><circle cx="152.42" cy="274.99" r="2.6"/><circle cx="153.37" cy="274.22" r="2.6"/><circle cx="154.33" cy="274.33" r="2.6"/><circle cx="155.29" cy="274.81" r="2.6"/><circle cx="156.25" cy="274.78" r="2.6"/><circle cx="157.20" cy="275.37" r="2.6"/><circle cx="158.16" cy="274.63" r="2.6"/><circle cx="159.12" cy="275.38" r="2.6"/><circle cx="160.08" cy="274.99" r="2.6"/><circle cx="161.03" cy="275.53" r="2.6"/><circle cx="161.99" cy="275.64" r="2.6"/><circle cx="162.95" cy="275.03" r="2.6"/><circle cx="163.91" cy="275.22" r="2.6"/><circle cx="164.86" cy="275.04" r="2.6"/><circle cx="165.82" cy="274.94" r="2.6"/><circle cx="166.78" cy="274.75" r="2.6"/><circle cx="167.74" cy="275.89" r="2.6"/><circle cx="168.70" cy="275.27" r="2.6"/><circle cx="169.65" cy="275.39" r="2.6"/><circle cx="170.61" cy="275.34" r="2.6"/><circle cx="171.57" cy="275.52" r="2.6"/><circle cx="172.53" cy="275.55" r="2.6"/><circle cx="173.48" cy="275.22" r="2.6"/><circle cx="174.44" cy="275.77" r="2.6"/><circle cx="175.40" cy="275.72" r="2.6"/><circle cx="176.36" cy="275.58" r="2.6"/><circle cx="177.31" cy="276.35" r="2.6"/><circle cx="178.27" cy="275.99" r="2.6"/><circle cx="179.23" cy="276.43" r="2.6"/><circle cx="180.19" cy="276.44" r="2.6"/><circle cx="181.14" cy="276.65" r="2.6"/><circle cx="182.10" cy="276.44" r="2.6"/><circle cx="183.06" cy="276.48" r="2.6"/><circle cx="184.02" cy="276.17" r="2.6"/><circle cx="184.97" cy="276.15" r="2.6"/><circle cx="185.93" cy="275.89" r="2.6"/><circle cx="186.89" cy="276.34" r="2.6"/><circle cx="187.85" cy="275.90" r="2.6"/><circle cx="188.80" cy="276.55" r="2.6"/><circle cx="189.76" cy="276.17" r="2.6"/><circle cx="190.72" cy="276.45" r="2.6"/><circle cx="191.68" cy="276.41" r="2.6"/><circle cx="192.64" cy="276.89" r="2.6"/><circle cx="193.59" cy="276.13" r="2.6"/><circle cx="194.55" cy="276.38" r="2.6"/><circle cx="195.51" cy="277.18" r="2.6"/><circle cx="196.47" cy="276.75" r="2.6"/><circle cx="197.42" cy="276.25" r="2.6"/><circle cx="198.38" cy="277.44" r="2.6"/></g>
<line x1="40.20" y1="292.00" x2="59.80" y2="292.00" stroke="#ee1c24" stroke-width="0.9"/>
<circle cx="50.7" cy="292" r="2.8" fill="#ee1c24"/>
<text x="60.60" y="295.60" font-size="10.1" font-weight="bold" text-anchor="start" fill="#1c1c1c" stroke="#1c1c1c" stroke-width="0.28">KFMTO</text>
<line x1="40.20" y1="305.60" x2="59.80" y2="305.60" stroke="#5470c0" stroke-width="0.9"/>
<circle cx="50.7" cy="305.6" r="2.8" fill="#5470c0"/>
<text x="60.60" y="309.20" font-size="10.1" font-weight="bold" text-anchor="start" fill="#1c1c1c" stroke="#1c1c1c" stroke-width="0.28">KFMTO &#183; 0.16 H<tspan dy="2.52" font-size="6.26">2</tspan><tspan dy="-2.52">O</tspan></text>
<text x="226.30" y="180.30" font-size="18" font-weight="bold" text-anchor="start" fill="#1c1c1c" stroke="#1c1c1c" stroke-width="0.28">e</text>
<line x1="251.50" y1="191.00" x2="251.50" y2="311.00" stroke="#f01c2c" stroke-width="1.4"/>
<line x1="632.50" y1="190.20" x2="632.50" y2="311.00" stroke="#4a5aa8" stroke-width="1.3"/>
<line x1="248.20" y1="310.80" x2="251.50" y2="310.80" stroke="#f01c2c" stroke-width="0.9"/>
<text transform="translate(246.20 313.50) scale(0.93 1.12)" font-size="7.9" font-weight="bold" text-anchor="end" fill="#f01c2c" stroke="#f01c2c" stroke-width="0.28">0</text>
<line x1="249.50" y1="300.82" x2="251.50" y2="300.82" stroke="#f01c2c" stroke-width="0.9"/>
<line x1="248.20" y1="290.83" x2="251.50" y2="290.83" stroke="#f01c2c" stroke-width="0.9"/>
<text transform="translate(246.20 293.53) scale(0.93 1.12)" font-size="7.9" font-weight="bold" text-anchor="end" fill="#f01c2c" stroke="#f01c2c" stroke-width="0.28">200</text>
<line x1="249.50" y1="280.85" x2="251.50" y2="280.85" stroke="#f01c2c" stroke-width="0.9"/>
<line x1="248.20" y1="270.87" x2="251.50" y2="270.87" stroke="#f01c2c" stroke-width="0.9"/>
<text transform="translate(246.20 273.57) scale(0.93 1.12)" font-size="7.9" font-weight="bold" text-anchor="end" fill="#f01c2c" stroke="#f01c2c" stroke-width="0.28">400</text>
<line x1="249.50" y1="260.88" x2="251.50" y2="260.88" stroke="#f01c2c" stroke-width="0.9"/>
<line x1="248.20" y1="250.90" x2="251.50" y2="250.90" stroke="#f01c2c" stroke-width="0.9"/>
<text transform="translate(246.20 253.60) scale(0.93 1.12)" font-size="7.9" font-weight="bold" text-anchor="end" fill="#f01c2c" stroke="#f01c2c" stroke-width="0.28">600</text>
<line x1="249.50" y1="240.92" x2="251.50" y2="240.92" stroke="#f01c2c" stroke-width="0.9"/>
<line x1="248.20" y1="230.93" x2="251.50" y2="230.93" stroke="#f01c2c" stroke-width="0.9"/>
<text transform="translate(246.20 233.63) scale(0.93 1.12)" font-size="7.9" font-weight="bold" text-anchor="end" fill="#f01c2c" stroke="#f01c2c" stroke-width="0.28">800</text>
<line x1="249.50" y1="220.95" x2="251.50" y2="220.95" stroke="#f01c2c" stroke-width="0.9"/>
<line x1="248.20" y1="210.97" x2="251.50" y2="210.97" stroke="#f01c2c" stroke-width="0.9"/>
<text transform="translate(246.20 213.67) scale(0.93 1.12)" font-size="7.9" font-weight="bold" text-anchor="end" fill="#f01c2c" stroke="#f01c2c" stroke-width="0.28">1000</text>
<line x1="249.50" y1="200.98" x2="251.50" y2="200.98" stroke="#f01c2c" stroke-width="0.9"/>
<line x1="248.20" y1="191.00" x2="251.50" y2="191.00" stroke="#f01c2c" stroke-width="0.9"/>
<text transform="translate(246.20 193.70) scale(0.93 1.12)" font-size="7.9" font-weight="bold" text-anchor="end" fill="#f01c2c" stroke="#f01c2c" stroke-width="0.28">1200</text>
<line x1="632.50" y1="310.80" x2="635.80" y2="310.80" stroke="#4a5aa8" stroke-width="0.9"/>
<text transform="translate(637.00 313.60) scale(0.93 1.12)" font-size="7.9" font-weight="bold" text-anchor="start" fill="#4a5aa8" stroke="#4a5aa8" stroke-width="0.28">0</text>
<line x1="632.50" y1="298.74" x2="634.50" y2="298.74" stroke="#4a5aa8" stroke-width="0.9"/>
<line x1="632.50" y1="286.68" x2="635.80" y2="286.68" stroke="#4a5aa8" stroke-width="0.9"/>
<text transform="translate(637.00 289.48) scale(0.93 1.12)" font-size="7.9" font-weight="bold" text-anchor="start" fill="#4a5aa8" stroke="#4a5aa8" stroke-width="0.28">20</text>
<line x1="632.50" y1="274.62" x2="634.50" y2="274.62" stroke="#4a5aa8" stroke-width="0.9"/>
<line x1="632.50" y1="262.56" x2="635.80" y2="262.56" stroke="#4a5aa8" stroke-width="0.9"/>
<text transform="translate(637.00 265.36) scale(0.93 1.12)" font-size="7.9" font-weight="bold" text-anchor="start" fill="#4a5aa8" stroke="#4a5aa8" stroke-width="0.28">40</text>
<line x1="632.50" y1="250.50" x2="634.50" y2="250.50" stroke="#4a5aa8" stroke-width="0.9"/>
<line x1="632.50" y1="238.44" x2="635.80" y2="238.44" stroke="#4a5aa8" stroke-width="0.9"/>
<text transform="translate(637.00 241.24) scale(0.93 1.12)" font-size="7.9" font-weight="bold" text-anchor="start" fill="#4a5aa8" stroke="#4a5aa8" stroke-width="0.28">60</text>
<line x1="632.50" y1="226.38" x2="634.50" y2="226.38" stroke="#4a5aa8" stroke-width="0.9"/>
<line x1="632.50" y1="214.32" x2="635.80" y2="214.32" stroke="#4a5aa8" stroke-width="0.9"/>
<text transform="translate(637.00 217.12) scale(0.93 1.12)" font-size="7.9" font-weight="bold" text-anchor="start" fill="#4a5aa8" stroke="#4a5aa8" stroke-width="0.28">80</text>
<line x1="632.50" y1="202.26" x2="634.50" y2="202.26" stroke="#4a5aa8" stroke-width="0.9"/>
<line x1="632.50" y1="190.20" x2="635.80" y2="190.20" stroke="#4a5aa8" stroke-width="0.9"/>
<text transform="translate(637.00 193.00) scale(0.93 1.12)" font-size="7.9" font-weight="bold" text-anchor="start" fill="#4a5aa8" stroke="#4a5aa8" stroke-width="0.28">100</text>
<text x="226.60" y="251.90" font-size="10.1" font-weight="bold" text-anchor="middle" fill="#f01c2c" stroke="#f01c2c" stroke-width="0.28" transform="rotate(-90 226.60 251.90)">Cycle Number (n)</text>
<text x="660.60" y="250.00" font-size="10.3" font-weight="bold" text-anchor="middle" fill="#4a5aa8" stroke="#4a5aa8" stroke-width="0.28" transform="rotate(-90 660.60 250.00)">Specific Capacity (mAh g<tspan dy="-4.94" font-size="6.39">-1</tspan><tspan dy="4.94">)</tspan></text>
<rect x="255.2" y="187.8" width="18.8" height="9" fill="url(#barR)"/>
<text x="276.80" y="195.20" font-size="9.1" font-weight="bold" text-anchor="start" fill="#1c1c1c" stroke="#1c1c1c" stroke-width="0.28">Cycling performance</text>
<rect x="373.6" y="189" width="18.9" height="9" fill="url(#barB)"/>
<text x="395.00" y="196.80" font-size="8.95" font-weight="bold" text-anchor="start" fill="#1c1c1c" stroke="#1c1c1c" stroke-width="0.28">Rate capability (maximum current density)</text>
<rect x="263.80" y="300.82" width="10" height="10.18" fill="url(#barR)"/>
<rect x="273.80" y="251.71" width="10" height="59.29" fill="url(#barB)"/>
<text x="258.90" y="299.30" font-size="7.6" font-weight="bold" text-anchor="start" fill="#1c1c1c" stroke="#1c1c1c" stroke-width="0.28">87%</text>
<text x="266.50" y="250.30" font-size="8.0" font-weight="bold" text-anchor="start" fill="#1c1c1c" stroke="#1c1c1c" stroke-width="0.28">0.1 A g<tspan dy="-3.84" font-size="4.96">-1</tspan></text>
<text x="286.80" y="318.00" font-size="8.0" font-weight="bold" text-anchor="end" fill="#1c1c1c" stroke="#1c1c1c" stroke-width="0.28" transform="rotate(-45 286.80 318.00)">Ref. 23</text>
<rect x="296.80" y="300.82" width="10" height="10.18" fill="url(#barR)"/>
<rect x="306.80" y="236.03" width="10" height="74.97" fill="url(#barB)"/>
<text x="291.60" y="299.30" font-size="7.6" font-weight="bold" text-anchor="start" fill="#1c1c1c" stroke="#1c1c1c" stroke-width="0.28">92%</text>
<text x="298.50" y="235.50" font-size="8.0" font-weight="bold" text-anchor="start" fill="#1c1c1c" stroke="#1c1c1c" stroke-width="0.28">0.1 A g<tspan dy="-3.84" font-size="4.96">-1</tspan></text>
<text x="319.80" y="318.00" font-size="8.0" font-weight="bold" text-anchor="end" fill="#1c1c1c" stroke="#1c1c1c" stroke-width="0.28" transform="rotate(-45 319.80 318.00)">Ref. 24</text>
<rect x="329.80" y="290.83" width="10" height="20.17" fill="url(#barR)"/>
<rect x="339.80" y="236.03" width="10" height="74.97" fill="url(#barB)"/>
<text x="324.40" y="289.30" font-size="7.6" font-weight="bold" text-anchor="start" fill="#1c1c1c" stroke="#1c1c1c" stroke-width="0.28">70%</text>
<text x="335.80" y="234.70" font-size="8.0" font-weight="bold" text-anchor="start" fill="#1c1c1c" stroke="#1c1c1c" stroke-width="0.28">1 A g<tspan dy="-3.84" font-size="4.96">-1</tspan></text>
<text x="352.80" y="318.00" font-size="8.0" font-weight="bold" text-anchor="end" fill="#1c1c1c" stroke="#1c1c1c" stroke-width="0.28" transform="rotate(-45 352.80 318.00)">Ref. 25</text>
<rect x="362.80" y="280.85" width="10" height="30.15" fill="url(#barR)"/>
<rect x="372.80" y="219.51" width="10" height="91.49" fill="url(#barB)"/>
<text x="356.90" y="279.00" font-size="7.6" font-weight="bold" text-anchor="start" fill="#1c1c1c" stroke="#1c1c1c" stroke-width="0.28">74%</text>
<text x="365.60" y="217.60" font-size="8.0" font-weight="bold" text-anchor="start" fill="#1c1c1c" stroke="#1c1c1c" stroke-width="0.28">2.5 A g<tspan dy="-3.84" font-size="4.96">-1</tspan></text>
<text x="385.80" y="318.00" font-size="8.0" font-weight="bold" text-anchor="end" fill="#1c1c1c" stroke="#1c1c1c" stroke-width="0.28" transform="rotate(-45 385.80 318.00)">Ref. 12</text>
<rect x="395.80" y="300.82" width="10" height="10.18" fill="url(#barR)"/>
<rect x="405.80" y="240.85" width="10" height="70.15" fill="url(#barB)"/>
<text x="389.90" y="298.80" font-size="7.6" font-weight="bold" text-anchor="start" fill="#1c1c1c" stroke="#1c1c1c" stroke-width="0.28">85%</text>
<text x="396.70" y="240.00" font-size="8.0" font-weight="bold" text-anchor="start" fill="#1c1c1c" stroke="#1c1c1c" stroke-width="0.28">0.5 A g<tspan dy="-3.84" font-size="4.96">-1</tspan></text>
<text x="418.80" y="318.00" font-size="8.0" font-weight="bold" text-anchor="end" fill="#1c1c1c" stroke="#1c1c1c" stroke-width="0.28" transform="rotate(-45 418.80 318.00)">Ref. 26</text>
<rect x="428.80" y="300.82" width="10" height="10.18" fill="url(#barR)"/>
<rect x="438.80" y="294.52" width="10" height="16.48" fill="url(#barB)"/>
<text x="423.80" y="299.60" font-size="7.6" font-weight="bold" text-anchor="start" fill="#1c1c1c" stroke="#1c1c1c" stroke-width="0.28">39%</text>
<text x="431.90" y="292.00" font-size="8.0" font-weight="bold" text-anchor="start" fill="#1c1c1c" stroke="#1c1c1c" stroke-width="0.28">0.5 A g<tspan dy="-3.84" font-size="4.96">-1</tspan></text>
<text x="451.80" y="318.00" font-size="8.0" font-weight="bold" text-anchor="end" fill="#1c1c1c" stroke="#1c1c1c" stroke-width="0.28" transform="rotate(-45 451.80 318.00)">Ref. 27</text>
<rect x="461.80" y="275.86" width="10" height="35.14" fill="url(#barR)"/>
<rect x="471.80" y="275.22" width="10" height="35.78" fill="url(#barB)"/>
<text x="456.00" y="274.00" font-size="7.6" font-weight="bold" text-anchor="start" fill="#1c1c1c" stroke="#1c1c1c" stroke-width="0.28">71%</text>
<text x="470.90" y="273.00" font-size="8.0" font-weight="bold" text-anchor="start" fill="#1c1c1c" stroke="#1c1c1c" stroke-width="0.28">0.8 A g<tspan dy="-3.84" font-size="4.96">-1</tspan></text>
<text x="484.80" y="318.00" font-size="8.0" font-weight="bold" text-anchor="end" fill="#1c1c1c" stroke="#1c1c1c" stroke-width="0.28" transform="rotate(-45 484.80 318.00)">Ref. 28</text>
<rect x="494.80" y="300.82" width="10" height="10.18" fill="url(#barR)"/>
<rect x="504.80" y="253.27" width="10" height="57.73" fill="url(#barB)"/>
<text x="489.90" y="298.00" font-size="7.6" font-weight="bold" text-anchor="start" fill="#1c1c1c" stroke="#1c1c1c" stroke-width="0.28">88%</text>
<text x="495.30" y="251.40" font-size="8.0" font-weight="bold" text-anchor="start" fill="#1c1c1c" stroke="#1c1c1c" stroke-width="0.28">0.5 A g<tspan dy="-3.84" font-size="4.96">-1</tspan></text>
<text x="517.80" y="318.00" font-size="8.0" font-weight="bold" text-anchor="end" fill="#1c1c1c" stroke="#1c1c1c" stroke-width="0.28" transform="rotate(-45 517.80 318.00)">Ref. 29</text>
<rect x="527.80" y="260.88" width="10" height="50.12" fill="url(#barR)"/>
<rect x="537.80" y="222.16" width="10" height="88.84" fill="url(#barB)"/>
<text x="522.30" y="259.00" font-size="7.6" font-weight="bold" text-anchor="start" fill="#1c1c1c" stroke="#1c1c1c" stroke-width="0.28">55%</text>
<text x="531.80" y="220.30" font-size="8.0" font-weight="bold" text-anchor="start" fill="#1c1c1c" stroke="#1c1c1c" stroke-width="0.28">1 A g<tspan dy="-3.84" font-size="4.96">-1</tspan></text>
<text x="550.80" y="318.00" font-size="8.0" font-weight="bold" text-anchor="end" fill="#1c1c1c" stroke="#1c1c1c" stroke-width="0.28" transform="rotate(-45 550.80 318.00)">Ref. 30</text>
<rect x="560.80" y="290.83" width="10" height="20.17" fill="url(#barR)"/>
<rect x="570.80" y="216.97" width="10" height="94.03" fill="url(#barB)"/>
<text x="555.60" y="289.30" font-size="7.6" font-weight="bold" text-anchor="start" fill="#1c1c1c" stroke="#1c1c1c" stroke-width="0.28">70%</text>
<text x="562.90" y="214.90" font-size="8.0" font-weight="bold" text-anchor="start" fill="#1c1c1c" stroke="#1c1c1c" stroke-width="0.28">0.8 A g<tspan dy="-3.84" font-size="4.96">-1</tspan></text>
<text x="583.80" y="318.00" font-size="8.0" font-weight="bold" text-anchor="end" fill="#1c1c1c" stroke="#1c1c1c" stroke-width="0.28" transform="rotate(-45 583.80 318.00)">Ref. 31</text>
<rect x="593.80" y="210.97" width="10" height="100.03" fill="url(#barR)"/>
<rect x="603.80" y="226.74" width="10" height="84.26" fill="url(#barB)"/>
<text x="592.70" y="208.10" font-size="7.6" font-weight="bold" text-anchor="start" fill="#1c1c1c" stroke="#1c1c1c" stroke-width="0.28">90%</text>
<text x="604.90" y="224.40" font-size="8.0" font-weight="bold" text-anchor="start" fill="#1c1c1c" stroke="#1c1c1c" stroke-width="0.28">2 A g<tspan dy="-3.84" font-size="4.96">-1</tspan></text>
<text x="619.30" y="317.00" font-size="8.0" font-weight="bold" text-anchor="end" fill="#1c1c1c" stroke="#1c1c1c" stroke-width="0.28" transform="rotate(-45 619.30 317.00)">This work</text>
<line x1="251.50" y1="311.00" x2="632.50" y2="311.00" stroke="#555555" stroke-width="1.0"/>
<text x="16.50" y="351.80" font-size="18" font-weight="bold" text-anchor="start" fill="#1c1c1c" stroke="#1c1c1c" stroke-width="0.28">f</text>
<text x="37.00" y="360.20" font-size="10.1" font-weight="bold" text-anchor="start" fill="#1c1c1c" stroke="#1c1c1c" stroke-width="0.28">KFMTO-0.16H<tspan dy="2.52" font-size="6.26">2</tspan><tspan dy="-2.52">O//SC</tspan></text>
<line x1="39.50" y1="484.50" x2="39.50" y2="487.80" stroke="#2a2a2a" stroke-width="0.9"/>
<text transform="translate(39.50 494.20) scale(0.93 1.12)" font-size="7.9" font-weight="bold" text-anchor="middle" fill="#1c1c1c" stroke="#1c1c1c" stroke-width="0.28">0</text>
<line x1="59.46" y1="484.50" x2="59.46" y2="486.50" stroke="#2a2a2a" stroke-width="0.9"/>
<line x1="79.42" y1="484.50" x2="79.42" y2="487.80" stroke="#2a2a2a" stroke-width="0.9"/>
<text transform="translate(79.42 494.20) scale(0.93 1.12)" font-size="7.9" font-weight="bold" text-anchor="middle" fill="#1c1c1c" stroke="#1c1c1c" stroke-width="0.28">30</text>
<line x1="99.39" y1="484.50" x2="99.39" y2="486.50" stroke="#2a2a2a" stroke-width="0.9"/>
<line x1="119.35" y1="484.50" x2="119.35" y2="487.80" stroke="#2a2a2a" stroke-width="0.9"/>
<text transform="translate(119.35 494.20) scale(0.93 1.12)" font-size="7.9" font-weight="bold" text-anchor="middle" fill="#1c1c1c" stroke="#1c1c1c" stroke-width="0.28">60</text>
<line x1="139.31" y1="484.50" x2="139.31" y2="486.50" stroke="#2a2a2a" stroke-width="0.9"/>
<line x1="159.27" y1="484.50" x2="159.27" y2="487.80" stroke="#2a2a2a" stroke-width="0.9"/>
<text transform="translate(159.27 494.20) scale(0.93 1.12)" font-size="7.9" font-weight="bold" text-anchor="middle" fill="#1c1c1c" stroke="#1c1c1c" stroke-width="0.28">90</text>
<line x1="179.24" y1="484.50" x2="179.24" y2="486.50" stroke="#2a2a2a" stroke-width="0.9"/>
<line x1="199.20" y1="484.50" x2="199.20" y2="487.80" stroke="#2a2a2a" stroke-width="0.9"/>
<text transform="translate(199.20 494.20) scale(0.93 1.12)" font-size="7.9" font-weight="bold" text-anchor="middle" fill="#1c1c1c" stroke="#1c1c1c" stroke-width="0.28">120</text>
<line x1="36.20" y1="484.50" x2="39.50" y2="484.50" stroke="#2a2a2a" stroke-width="0.9"/>
<text transform="translate(36.00 487.20) scale(0.93 1.12)" font-size="7.9" font-weight="bold" text-anchor="end" fill="#1c1c1c" stroke="#1c1c1c" stroke-width="0.28">0.5</text>
<line x1="37.50" y1="475.39" x2="39.50" y2="475.39" stroke="#2a2a2a" stroke-width="0.9"/>
<line x1="36.20" y1="466.28" x2="39.50" y2="466.28" stroke="#2a2a2a" stroke-width="0.9"/>
<text transform="translate(36.00 468.98) scale(0.93 1.12)" font-size="7.9" font-weight="bold" text-anchor="end" fill="#1c1c1c" stroke="#1c1c1c" stroke-width="0.28">1.0</text>
<line x1="37.50" y1="457.18" x2="39.50" y2="457.18" stroke="#2a2a2a" stroke-width="0.9"/>
<line x1="36.20" y1="448.07" x2="39.50" y2="448.07" stroke="#2a2a2a" stroke-width="0.9"/>
<text transform="translate(36.00 450.77) scale(0.93 1.12)" font-size="7.9" font-weight="bold" text-anchor="end" fill="#1c1c1c" stroke="#1c1c1c" stroke-width="0.28">1.5</text>
<line x1="37.50" y1="438.96" x2="39.50" y2="438.96" stroke="#2a2a2a" stroke-width="0.9"/>
<line x1="36.20" y1="429.85" x2="39.50" y2="429.85" stroke="#2a2a2a" stroke-width="0.9"/>
<text transform="translate(36.00 432.55) scale(0.93 1.12)" font-size="7.9" font-weight="bold" text-anchor="end" fill="#1c1c1c" stroke="#1c1c1c" stroke-width="0.28">2.0</text>
<line x1="37.50" y1="420.74" x2="39.50" y2="420.74" stroke="#2a2a2a" stroke-width="0.9"/>
<line x1="36.20" y1="411.63" x2="39.50" y2="411.63" stroke="#2a2a2a" stroke-width="0.9"/>
<text transform="translate(36.00 414.33) scale(0.93 1.12)" font-size="7.9" font-weight="bold" text-anchor="end" fill="#1c1c1c" stroke="#1c1c1c" stroke-width="0.28">2.5</text>
<line x1="37.50" y1="402.52" x2="39.50" y2="402.52" stroke="#2a2a2a" stroke-width="0.9"/>
<line x1="36.20" y1="393.42" x2="39.50" y2="393.42" stroke="#2a2a2a" stroke-width="0.9"/>
<text transform="translate(36.00 396.12) scale(0.93 1.12)" font-size="7.9" font-weight="bold" text-anchor="end" fill="#1c1c1c" stroke="#1c1c1c" stroke-width="0.28">3.0</text>
<line x1="37.50" y1="384.31" x2="39.50" y2="384.31" stroke="#2a2a2a" stroke-width="0.9"/>
<line x1="36.20" y1="375.20" x2="39.50" y2="375.20" stroke="#2a2a2a" stroke-width="0.9"/>
<text transform="translate(36.00 377.90) scale(0.93 1.12)" font-size="7.9" font-weight="bold" text-anchor="end" fill="#1c1c1c" stroke="#1c1c1c" stroke-width="0.28">3.5</text>
<line x1="37.50" y1="366.09" x2="39.50" y2="366.09" stroke="#2a2a2a" stroke-width="0.9"/>
<text x="54.00" y="506.40" font-size="10.1" font-weight="bold" text-anchor="start" fill="#1c1c1c" stroke="#1c1c1c" stroke-width="0.28">Specific Capacity (mAh g<tspan dy="-4.85" font-size="6.26">-1</tspan><tspan dy="4.85">)</tspan></text>
<text x="22.20" y="424.50" font-size="10.3" font-weight="bold" text-anchor="middle" fill="#1c1c1c" stroke="#1c1c1c" stroke-width="0.28" transform="rotate(-90 22.20 424.50)">Voltage (V)</text>
<text x="47.00" y="375.00" font-size="10.0" font-weight="bold" text-anchor="start" fill="#1c1c1c" stroke="#1c1c1c" stroke-width="0.28">50 mA g<tspan dy="-4.80" font-size="6.20">-1</tspan></text>
<polyline points="39.50,366.09 40.04,366.80 40.58,367.53 41.13,368.26 41.67,368.97 42.21,369.66 42.75,370.32 43.29,370.96 43.83,371.57 44.38,372.17 44.92,372.75 45.46,373.31 46.00,373.85 46.54,374.39 47.08,374.91 47.63,375.43 48.17,375.94 48.71,376.45 49.25,376.96 49.79,377.47 50.34,377.98 50.88,378.50 51.42,379.02 51.96,379.54 52.50,380.06 54.49,382.00 56.47,383.98 58.45,385.99 60.44,388.03 62.42,390.10 64.40,392.17 66.39,394.25 68.37,396.32 70.35,398.39 72.34,400.45 74.32,402.50 76.30,404.53 78.29,406.54 80.27,408.54 82.25,410.50 84.24,412.44 86.22,414.35 88.20,416.23 90.19,418.06 92.17,419.88 94.15,421.67 96.14,423.43 98.12,425.18 100.10,426.91 102.09,428.63 104.07,430.34 106.05,432.03 108.04,433.72 110.02,435.39 112.00,437.06 113.99,438.73 115.97,440.39 117.95,442.05 119.94,443.70 121.92,445.36 123.90,447.02 125.89,448.68 127.87,450.34 129.85,451.99 131.84,453.64 133.82,455.29 135.80,456.93 137.79,458.57 139.77,460.20 141.75,461.83 143.74,463.46 145.72,465.08 147.71,466.70 149.69,468.32 151.67,469.94 153.66,471.56 155.64,473.18 157.62,474.80 159.61,476.41 161.59,478.03 163.57,479.64 165.56,481.26 167.54,482.88 169.52,484.50" fill="none" stroke="#a8bee6" stroke-width="1.4" stroke-opacity="1.0" stroke-linejoin="round" clip-path="url(#cf)"/>
<polyline points="39.50,482.68 40.14,476.61 40.78,473.65 41.42,471.02 42.06,468.95 42.70,467.28 43.34,465.88 43.98,464.61 44.61,463.39 45.25,462.22 45.89,461.09 46.53,460.02 47.17,458.99 47.81,458.02 48.45,457.10 49.09,456.22 49.73,455.37 50.37,454.56 51.01,453.78 51.65,453.02 52.29,452.30 52.93,451.58 53.57,450.90 54.21,450.22 54.84,449.56 57.19,447.21 59.53,444.97 61.87,442.80 64.21,440.70 66.55,438.66 68.89,436.67 71.23,434.74 73.57,432.87 75.91,431.07 78.25,429.35 80.59,427.70 82.93,426.10 85.27,424.53 87.61,422.98 89.95,421.44 92.30,419.89 94.64,418.33 96.98,416.76 99.32,415.19 101.66,413.61 104.00,412.04 106.34,410.46 108.68,408.89 111.02,407.32 113.36,405.76 115.70,404.20 118.04,402.65 120.38,401.10 122.72,399.57 125.07,398.05 127.41,396.54 129.75,395.05 132.09,393.58 134.43,392.14 136.77,390.73 139.11,389.34 141.45,387.97 143.79,386.63 146.13,385.32 148.47,384.03 150.81,382.77 153.15,381.54 155.49,380.33 157.83,379.14 160.18,377.98 162.52,376.84 164.86,375.71 167.20,374.61 169.54,373.56 171.88,372.54 174.22,371.56 176.56,370.60 178.90,369.67 181.24,368.75 183.58,367.85 185.92,366.96 188.26,366.07 190.60,365.18 192.95,364.27" fill="none" stroke="#a8bee6" stroke-width="1.4" stroke-opacity="1.0" stroke-linejoin="round" clip-path="url(#cf)"/>
<polyline points="39.50,366.09 40.02,366.79 40.53,367.52 41.05,368.24 41.57,368.94 42.09,369.63 42.60,370.30 43.12,370.95 43.64,371.58 44.15,372.19 44.67,372.78 45.19,373.36 45.70,373.92 46.22,374.48 46.74,375.03 47.26,375.57 47.77,376.10 48.29,376.63 48.81,377.16 49.32,377.69 49.84,378.22 50.36,378.75 50.88,379.28 51.39,379.81 51.91,380.34 53.80,382.29 55.70,384.26 57.59,386.25 59.48,388.27 61.37,390.30 63.27,392.34 65.16,394.38 67.05,396.42 68.95,398.45 70.84,400.48 72.73,402.49 74.62,404.49 76.52,406.47 78.41,408.43 80.30,410.37 82.20,412.29 84.09,414.18 85.98,416.04 87.88,417.87 89.77,419.67 91.66,421.44 93.55,423.20 95.45,424.93 97.34,426.65 99.23,428.35 101.13,430.04 103.02,431.72 104.91,433.40 106.80,435.06 108.70,436.72 110.59,438.37 112.48,440.02 114.38,441.67 116.27,443.33 118.16,444.98 120.06,446.63 121.95,448.29 123.84,449.95 125.73,451.61 127.63,453.27 129.52,454.93 131.41,456.58 133.31,458.24 135.20,459.88 137.09,461.53 138.99,463.18 140.88,464.82 142.77,466.46 144.66,468.11 146.56,469.75 148.45,471.39 150.34,473.03 152.24,474.66 154.13,476.30 156.02,477.94 157.91,479.58 159.81,481.22 161.70,482.86 163.59,484.50" fill="none" stroke="#8aa4dc" stroke-width="1.4" stroke-opacity="1.0" stroke-linejoin="round" clip-path="url(#cf)"/>
<polyline points="39.50,482.68 40.08,476.44 40.67,473.57 41.25,470.94 41.83,468.74 42.42,466.88 43.00,465.29 43.58,463.88 44.17,462.58 44.75,461.34 45.33,460.15 45.92,459.01 46.50,457.93 47.08,456.90 47.66,455.93 48.25,455.01 48.83,454.13 49.41,453.29 50.00,452.49 50.58,451.71 51.16,450.96 51.75,450.24 52.33,449.54 52.91,448.85 53.50,448.18 55.63,445.79 57.77,443.52 59.90,441.33 62.04,439.22 64.17,437.18 66.31,435.21 68.44,433.32 70.58,431.52 72.71,429.80 74.85,428.20 76.98,426.67 79.12,425.20 81.25,423.77 83.39,422.33 85.52,420.89 87.66,419.43 89.79,417.95 91.93,416.45 94.06,414.94 96.20,413.42 98.34,411.90 100.47,410.38 102.61,408.85 104.74,407.33 106.88,405.82 109.01,404.30 111.15,402.79 113.28,401.29 115.42,399.79 117.55,398.31 119.69,396.83 121.82,395.37 123.96,393.92 126.09,392.49 128.23,391.09 130.36,389.71 132.50,388.35 134.63,387.02 136.77,385.71 138.90,384.43 141.04,383.18 143.17,381.95 145.31,380.75 147.44,379.57 149.58,378.41 151.71,377.27 153.85,376.14 155.98,375.04 158.12,373.96 160.25,372.90 162.39,371.86 164.52,370.86 166.66,369.88 168.79,368.92 170.93,367.98 173.06,367.05 175.20,366.13 177.34,365.21 179.47,364.27" fill="none" stroke="#8aa4dc" stroke-width="1.4" stroke-opacity="1.0" stroke-linejoin="round" clip-path="url(#cf)"/>
<polyline points="39.50,366.09 40.00,366.79 40.51,367.51 41.01,368.23 41.51,368.93 42.02,369.62 42.52,370.29 43.02,370.94 43.53,371.58 44.03,372.20 44.53,372.80 45.04,373.38 45.54,373.96 46.04,374.53 46.55,375.09 47.05,375.64 47.55,376.19 48.06,376.74 48.56,377.28 49.06,377.82 49.57,378.35 50.07,378.89 50.57,379.42 51.08,379.96 51.58,380.49 53.42,382.45 55.27,384.42 57.11,386.40 58.95,388.40 60.79,390.42 62.64,392.44 64.48,394.46 66.32,396.48 68.16,398.49 70.01,400.49 71.85,402.49 73.69,404.46 75.54,406.43 77.38,408.38 79.22,410.30 81.06,412.21 82.91,414.09 84.75,415.94 86.59,417.76 88.43,419.55 90.28,421.32 92.12,423.07 93.96,424.79 95.80,426.50 97.65,428.20 99.49,429.88 101.33,431.55 103.18,433.22 105.02,434.88 106.86,436.53 108.70,438.18 110.55,439.82 112.39,441.47 114.23,443.12 116.07,444.76 117.92,446.42 119.76,448.08 121.60,449.74 123.45,451.40 125.29,453.07 127.13,454.73 128.97,456.39 130.82,458.05 132.66,459.71 134.50,461.37 136.34,463.02 138.19,464.68 140.03,466.33 141.87,467.98 143.72,469.64 145.56,471.29 147.40,472.94 149.24,474.59 151.09,476.24 152.93,477.89 154.77,479.54 156.61,481.19 158.46,482.85 160.30,484.50" fill="none" stroke="#6480cc" stroke-width="1.4" stroke-opacity="1.0" stroke-linejoin="round" clip-path="url(#cf)"/>
<polyline points="39.50,482.68 40.05,476.35 40.60,473.52 41.16,470.89 41.71,468.62 42.26,466.66 42.81,464.97 43.36,463.47 43.92,462.13 44.47,460.86 45.02,459.63 45.57,458.45 46.12,457.33 46.68,456.28 47.23,455.28 47.78,454.34 48.33,453.44 48.88,452.58 49.44,451.77 49.99,450.98 50.54,450.22 51.09,449.49 51.64,448.78 52.20,448.09 52.75,447.41 54.77,445.00 56.79,442.71 58.81,440.51 60.83,438.39 62.85,436.36 64.87,434.40 66.90,432.53 68.92,430.76 70.94,429.10 72.96,427.56 74.98,426.10 77.00,424.71 79.02,423.34 81.04,421.97 83.06,420.58 85.08,419.17 87.10,417.74 89.13,416.28 91.15,414.80 93.17,413.31 95.19,411.82 97.21,410.33 99.23,408.84 101.25,407.34 103.27,405.85 105.29,404.36 107.31,402.87 109.34,401.39 111.36,399.92 113.38,398.45 115.40,396.99 117.42,395.54 119.44,394.11 121.46,392.69 123.48,391.29 125.50,389.91 127.52,388.56 129.54,387.23 131.57,385.93 133.59,384.66 135.61,383.41 137.63,382.18 139.65,380.98 141.67,379.80 143.69,378.64 145.71,377.51 147.73,376.38 149.75,375.27 151.77,374.18 153.80,373.10 155.82,372.03 157.84,371.00 159.86,370.00 161.88,369.02 163.90,368.05 165.92,367.10 167.94,366.16 169.96,365.23 171.98,364.27" fill="none" stroke="#6480cc" stroke-width="1.4" stroke-opacity="1.0" stroke-linejoin="round" clip-path="url(#cf)"/>
<polyline points="39.50,366.09 39.99,366.79 40.49,367.50 40.98,368.22 41.47,368.92 41.97,369.61 42.46,370.28 42.95,370.94 43.45,371.58 43.94,372.20 44.43,372.81 44.93,373.40 45.42,373.99 45.91,374.56 46.41,375.13 46.90,375.70 47.40,376.26 47.89,376.81 48.38,377.36 48.88,377.90 49.37,378.45 49.86,378.99 50.36,379.53 50.85,380.07 51.34,380.60 53.15,382.57 54.96,384.53 56.76,386.51 58.57,388.50 60.38,390.50 62.18,392.51 63.99,394.51 65.80,396.52 67.60,398.51 69.41,400.51 71.21,402.48 73.02,404.45 74.83,406.40 76.63,408.34 78.44,410.25 80.25,412.15 82.05,414.02 83.86,415.86 85.67,417.68 87.47,419.47 89.28,421.23 91.09,422.97 92.89,424.69 94.70,426.40 96.51,428.09 98.31,429.76 100.12,431.43 101.93,433.09 103.73,434.74 105.54,436.39 107.35,438.04 109.15,439.68 110.96,441.32 112.76,442.97 114.57,444.61 116.38,446.26 118.18,447.92 119.99,449.59 121.80,451.25 123.60,452.92 125.41,454.59 127.22,456.26 129.02,457.92 130.83,459.58 132.64,461.25 134.44,462.91 136.25,464.57 138.06,466.23 139.86,467.90 141.67,469.56 143.48,471.22 145.28,472.88 147.09,474.54 148.90,476.20 150.70,477.86 152.51,479.52 154.32,481.18 156.12,482.84 157.93,484.50" fill="none" stroke="#2a3ca8" stroke-width="1.4" stroke-opacity="1.0" stroke-linejoin="round" clip-path="url(#cf)"/>
<polyline points="39.50,482.68 40.03,476.28 40.56,473.49 41.09,470.86 41.62,468.53 42.15,466.50 42.68,464.73 43.21,463.18 43.74,461.81 44.27,460.51 44.80,459.25 45.33,458.05 45.85,456.90 46.38,455.83 46.91,454.82 47.44,453.86 47.97,452.95 48.50,452.07 49.03,451.25 49.56,450.46 50.09,449.69 50.62,448.96 51.15,448.24 51.68,447.54 52.21,446.85 54.15,444.43 56.09,442.13 58.03,439.92 59.96,437.80 61.90,435.77 63.84,433.82 65.78,431.97 67.72,430.22 69.66,428.59 71.60,427.10 73.54,425.69 75.47,424.35 77.41,423.03 79.35,421.71 81.29,420.36 83.23,418.99 85.17,417.58 87.11,416.15 89.05,414.70 90.98,413.24 92.92,411.77 94.86,410.30 96.80,408.82 98.74,407.35 100.68,405.87 102.62,404.40 104.56,402.93 106.49,401.47 108.43,400.01 110.37,398.55 112.31,397.10 114.25,395.66 116.19,394.24 118.13,392.83 120.07,391.43 122.00,390.06 123.94,388.71 125.88,387.38 127.82,386.09 129.76,384.82 131.70,383.57 133.64,382.35 135.57,381.15 137.51,379.97 139.45,378.82 141.39,377.68 143.33,376.56 145.27,375.44 147.21,374.34 149.15,373.24 151.08,372.16 153.02,371.11 154.96,370.08 156.90,369.08 158.84,368.11 160.78,367.14 162.72,366.19 164.66,365.24 166.59,364.27" fill="none" stroke="#2a3ca8" stroke-width="1.4" stroke-opacity="1.0" stroke-linejoin="round" clip-path="url(#cf)"/>
<polyline points="39.50,366.09 39.99,366.79 40.47,367.50 40.96,368.21 41.45,368.91 41.93,369.60 42.42,370.28 42.91,370.94 43.39,371.58 43.88,372.21 44.37,372.82 44.86,373.42 45.34,374.00 45.83,374.59 46.32,375.16 46.80,375.73 47.29,376.30 47.78,376.86 48.26,377.41 48.75,377.96 49.24,378.51 49.72,379.05 50.21,379.60 50.70,380.14 51.18,380.68 52.97,382.64 54.75,384.61 56.53,386.58 58.31,388.56 60.10,390.56 61.88,392.55 63.66,394.55 65.44,396.54 67.23,398.53 69.01,400.51 70.79,402.48 72.57,404.44 74.36,406.38 76.14,408.31 77.92,410.22 79.70,412.11 81.49,413.97 83.27,415.81 85.05,417.63 86.83,419.41 88.62,421.17 90.40,422.91 92.18,424.62 93.96,426.33 95.75,428.01 97.53,429.69 99.31,431.35 101.09,433.01 102.87,434.65 104.66,436.30 106.44,437.94 108.22,439.58 110.00,441.22 111.79,442.87 113.57,444.51 115.35,446.16 117.13,447.82 118.92,449.48 120.70,451.15 122.48,452.82 124.26,454.49 126.05,456.16 127.83,457.83 129.61,459.50 131.39,461.17 133.18,462.84 134.96,464.50 136.74,466.17 138.52,467.84 140.31,469.50 142.09,471.17 143.87,472.84 145.65,474.50 147.44,476.17 149.22,477.83 151.00,479.50 152.78,481.17 154.56,482.83 156.35,484.50" fill="none" stroke="#1a2890" stroke-width="1.4" stroke-opacity="1.0" stroke-linejoin="round" clip-path="url(#cf)"/>
<polyline points="39.50,482.68 40.01,476.24 40.53,473.47 41.04,470.84 41.56,468.47 42.07,466.39 42.59,464.58 43.10,462.98 43.62,461.59 44.13,460.27 44.65,459.00 45.16,457.78 45.68,456.62 46.19,455.53 46.70,454.50 47.22,453.53 47.73,452.61 48.25,451.73 48.76,450.91 49.28,450.11 49.79,449.33 50.31,448.60 50.82,447.87 51.34,447.17 51.85,446.48 53.73,444.05 55.62,441.74 57.50,439.52 59.39,437.40 61.27,435.37 63.15,433.43 65.04,431.59 66.92,429.86 68.81,428.26 70.69,426.79 72.57,425.42 74.46,424.11 76.34,422.83 78.22,421.53 80.11,420.22 81.99,418.87 83.88,417.48 85.76,416.07 87.64,414.63 89.53,413.18 91.41,411.73 93.30,410.27 95.18,408.81 97.06,407.35 98.95,405.89 100.83,404.43 102.72,402.97 104.60,401.52 106.48,400.06 108.37,398.62 110.25,397.18 112.14,395.75 114.02,394.33 115.90,392.92 117.79,391.53 119.67,390.16 121.56,388.80 123.44,387.48 125.32,386.19 127.21,384.92 129.09,383.68 130.97,382.46 132.86,381.26 134.74,380.08 136.63,378.93 138.51,377.79 140.39,376.67 142.28,375.56 144.16,374.44 146.05,373.33 147.93,372.24 149.81,371.17 151.70,370.14 153.58,369.13 155.47,368.14 157.35,367.17 159.23,366.20 161.12,365.25 163.00,364.27" fill="none" stroke="#1a2890" stroke-width="1.4" stroke-opacity="1.0" stroke-linejoin="round" clip-path="url(#cf)"/>
<line x1="149.90" y1="397.40" x2="173.40" y2="397.40" stroke="#a8bee6" stroke-width="1.3"/>
<text x="174.70" y="401.00" font-size="10.2" font-weight="bold" text-anchor="start" fill="#a8bee6" stroke="#a8bee6" stroke-width="0.28">1st</text>
<line x1="149.90" y1="411.00" x2="173.40" y2="411.00" stroke="#8aa4dc" stroke-width="1.3"/>
<text x="174.70" y="414.60" font-size="10.2" font-weight="bold" text-anchor="start" fill="#8aa4dc" stroke="#8aa4dc" stroke-width="0.28">5th</text>
<line x1="149.90" y1="424.00" x2="173.40" y2="424.00" stroke="#6480cc" stroke-width="1.3"/>
<text x="174.70" y="427.60" font-size="10.2" font-weight="bold" text-anchor="start" fill="#6480cc" stroke="#6480cc" stroke-width="0.28">10th</text>
<line x1="149.90" y1="437.10" x2="173.40" y2="437.10" stroke="#2a3ca8" stroke-width="1.3"/>
<text x="174.70" y="440.70" font-size="10.2" font-weight="bold" text-anchor="start" fill="#2a3ca8" stroke="#2a3ca8" stroke-width="0.28">15th</text>
<line x1="149.90" y1="450.10" x2="173.40" y2="450.10" stroke="#1a2890" stroke-width="1.3"/>
<text x="174.70" y="453.70" font-size="10.2" font-weight="bold" text-anchor="start" fill="#1a2890" stroke="#1a2890" stroke-width="0.28">20th</text>
<rect x="39.50" y="364.00" width="159.70" height="120.50" fill="none" stroke="#2a2a2a" stroke-width="1.3"/>
<text x="226.30" y="351.80" font-size="18" font-weight="bold" text-anchor="start" fill="#1c1c1c" stroke="#1c1c1c" stroke-width="0.28">g</text>
<text x="252.40" y="359.80" font-size="10.1" font-weight="bold" text-anchor="start" fill="#1c1c1c" stroke="#1c1c1c" stroke-width="0.28">KFMTO&#183;0.16H<tspan dy="2.52" font-size="6.26">2</tspan><tspan dy="-2.52">O</tspan>//SC</text>
<line x1="252.40" y1="484.20" x2="252.40" y2="487.50" stroke="#2a2a2a" stroke-width="0.9"/>
<text transform="translate(252.40 496.00) scale(0.93 1.12)" font-size="7.9" font-weight="bold" text-anchor="middle" fill="#1c1c1c" stroke="#1c1c1c" stroke-width="0.28">0</text>
<line x1="265.73" y1="484.20" x2="265.73" y2="486.20" stroke="#2a2a2a" stroke-width="0.9"/>
<line x1="279.05" y1="484.20" x2="279.05" y2="487.50" stroke="#2a2a2a" stroke-width="0.9"/>
<text transform="translate(279.05 496.00) scale(0.93 1.12)" font-size="7.9" font-weight="bold" text-anchor="middle" fill="#1c1c1c" stroke="#1c1c1c" stroke-width="0.28">5</text>
<line x1="292.38" y1="484.20" x2="292.38" y2="486.20" stroke="#2a2a2a" stroke-width="0.9"/>
<line x1="305.70" y1="484.20" x2="305.70" y2="487.50" stroke="#2a2a2a" stroke-width="0.9"/>
<text transform="translate(305.70 496.00) scale(0.93 1.12)" font-size="7.9" font-weight="bold" text-anchor="middle" fill="#1c1c1c" stroke="#1c1c1c" stroke-width="0.28">10</text>
<line x1="319.02" y1="484.20" x2="319.02" y2="486.20" stroke="#2a2a2a" stroke-width="0.9"/>
<line x1="332.35" y1="484.20" x2="332.35" y2="487.50" stroke="#2a2a2a" stroke-width="0.9"/>
<text transform="translate(332.35 496.00) scale(0.93 1.12)" font-size="7.9" font-weight="bold" text-anchor="middle" fill="#1c1c1c" stroke="#1c1c1c" stroke-width="0.28">15</text>
<line x1="345.68" y1="484.20" x2="345.68" y2="486.20" stroke="#2a2a2a" stroke-width="0.9"/>
<line x1="359.00" y1="484.20" x2="359.00" y2="487.50" stroke="#2a2a2a" stroke-width="0.9"/>
<text transform="translate(359.00 496.00) scale(0.93 1.12)" font-size="7.9" font-weight="bold" text-anchor="middle" fill="#1c1c1c" stroke="#1c1c1c" stroke-width="0.28">20</text>
<line x1="372.32" y1="484.20" x2="372.32" y2="486.20" stroke="#2a2a2a" stroke-width="0.9"/>
<line x1="385.65" y1="484.20" x2="385.65" y2="487.50" stroke="#2a2a2a" stroke-width="0.9"/>
<text transform="translate(385.65 496.00) scale(0.93 1.12)" font-size="7.9" font-weight="bold" text-anchor="middle" fill="#1c1c1c" stroke="#1c1c1c" stroke-width="0.28">25</text>
<line x1="398.98" y1="484.20" x2="398.98" y2="486.20" stroke="#2a2a2a" stroke-width="0.9"/>
<line x1="412.30" y1="484.20" x2="412.30" y2="487.50" stroke="#2a2a2a" stroke-width="0.9"/>
<text transform="translate(412.30 496.00) scale(0.93 1.12)" font-size="7.9" font-weight="bold" text-anchor="middle" fill="#1c1c1c" stroke="#1c1c1c" stroke-width="0.28">30</text>
<line x1="249.10" y1="484.20" x2="252.40" y2="484.20" stroke="#2a2a2a" stroke-width="0.9"/>
<text transform="translate(248.50 486.90) scale(0.93 1.12)" font-size="7.9" font-weight="bold" text-anchor="end" fill="#1c1c1c" stroke="#1c1c1c" stroke-width="0.28">0</text>
<line x1="250.40" y1="475.61" x2="252.40" y2="475.61" stroke="#2a2a2a" stroke-width="0.9"/>
<line x1="249.10" y1="467.03" x2="252.40" y2="467.03" stroke="#2a2a2a" stroke-width="0.9"/>
<text transform="translate(248.50 469.73) scale(0.93 1.12)" font-size="7.9" font-weight="bold" text-anchor="end" fill="#1c1c1c" stroke="#1c1c1c" stroke-width="0.28">20</text>
<line x1="250.40" y1="458.44" x2="252.40" y2="458.44" stroke="#2a2a2a" stroke-width="0.9"/>
<line x1="249.10" y1="449.86" x2="252.40" y2="449.86" stroke="#2a2a2a" stroke-width="0.9"/>
<text transform="translate(248.50 452.56) scale(0.93 1.12)" font-size="7.9" font-weight="bold" text-anchor="end" fill="#1c1c1c" stroke="#1c1c1c" stroke-width="0.28">40</text>
<line x1="250.40" y1="441.27" x2="252.40" y2="441.27" stroke="#2a2a2a" stroke-width="0.9"/>
<line x1="249.10" y1="432.69" x2="252.40" y2="432.69" stroke="#2a2a2a" stroke-width="0.9"/>
<text transform="translate(248.50 435.39) scale(0.93 1.12)" font-size="7.9" font-weight="bold" text-anchor="end" fill="#1c1c1c" stroke="#1c1c1c" stroke-width="0.28">60</text>
<line x1="250.40" y1="424.10" x2="252.40" y2="424.10" stroke="#2a2a2a" stroke-width="0.9"/>
<line x1="249.10" y1="415.51" x2="252.40" y2="415.51" stroke="#2a2a2a" stroke-width="0.9"/>
<text transform="translate(248.50 418.21) scale(0.93 1.12)" font-size="7.9" font-weight="bold" text-anchor="end" fill="#1c1c1c" stroke="#1c1c1c" stroke-width="0.28">80</text>
<line x1="250.40" y1="406.93" x2="252.40" y2="406.93" stroke="#2a2a2a" stroke-width="0.9"/>
<line x1="249.10" y1="398.34" x2="252.40" y2="398.34" stroke="#2a2a2a" stroke-width="0.9"/>
<text transform="translate(248.50 401.04) scale(0.93 1.12)" font-size="7.9" font-weight="bold" text-anchor="end" fill="#1c1c1c" stroke="#1c1c1c" stroke-width="0.28">100</text>
<line x1="250.40" y1="389.76" x2="252.40" y2="389.76" stroke="#2a2a2a" stroke-width="0.9"/>
<line x1="249.10" y1="381.17" x2="252.40" y2="381.17" stroke="#2a2a2a" stroke-width="0.9"/>
<text transform="translate(248.50 383.87) scale(0.93 1.12)" font-size="7.9" font-weight="bold" text-anchor="end" fill="#1c1c1c" stroke="#1c1c1c" stroke-width="0.28">120</text>
<line x1="250.40" y1="372.59" x2="252.40" y2="372.59" stroke="#2a2a2a" stroke-width="0.9"/>
<line x1="249.10" y1="364.00" x2="252.40" y2="364.00" stroke="#2a2a2a" stroke-width="0.9"/>
<text transform="translate(248.50 366.70) scale(0.93 1.12)" font-size="7.9" font-weight="bold" text-anchor="end" fill="#1c1c1c" stroke="#1c1c1c" stroke-width="0.28">140</text>
<text x="292.50" y="509.00" font-size="10.1" font-weight="bold" text-anchor="start" fill="#1c1c1c" stroke="#1c1c1c" stroke-width="0.28">Cycle Number <tspan font-weight="normal" font-size="9.2">(n)</tspan></text>
<text x="228.00" y="422.60" font-size="10.3" font-weight="bold" text-anchor="middle" fill="#1c1c1c" stroke="#1c1c1c" stroke-width="0.28" transform="rotate(-90 228.00 422.60)">Specific Capacity (mAh g<tspan dy="-4.94" font-size="6.39">-1</tspan><tspan dy="4.94">)</tspan></text>
<circle cx="257.73" cy="399.03" r="3.0" fill="#5470c0"/>
<circle cx="263.06" cy="400.06" r="3.0" fill="#5470c0"/>
<circle cx="268.39" cy="400.83" r="3.0" fill="#5470c0"/>
<circle cx="273.72" cy="401.35" r="3.0" fill="#5470c0"/>
<circle cx="279.05" cy="401.35" r="3.0" fill="#5470c0"/>
<circle cx="284.38" cy="408.13" r="3.0" fill="#5470c0"/>
<circle cx="289.71" cy="408.13" r="3.0" fill="#5470c0"/>
<circle cx="295.04" cy="409.16" r="3.0" fill="#5470c0"/>
<circle cx="300.37" cy="409.93" r="3.0" fill="#5470c0"/>
<circle cx="305.70" cy="409.93" r="3.0" fill="#5470c0"/>
<circle cx="311.03" cy="417.83" r="3.0" fill="#5470c0"/>
<circle cx="316.36" cy="417.23" r="3.0" fill="#5470c0"/>
<circle cx="321.69" cy="416.80" r="3.0" fill="#5470c0"/>
<circle cx="327.02" cy="417.23" r="3.0" fill="#5470c0"/>
<circle cx="332.35" cy="418.95" r="3.0" fill="#5470c0"/>
<circle cx="337.68" cy="430.54" r="3.0" fill="#5470c0"/>
<circle cx="343.01" cy="430.54" r="3.0" fill="#5470c0"/>
<circle cx="348.34" cy="430.54" r="3.0" fill="#5470c0"/>
<circle cx="353.67" cy="430.97" r="3.0" fill="#5470c0"/>
<circle cx="359.00" cy="429.68" r="3.0" fill="#5470c0"/>
<circle cx="364.33" cy="441.27" r="3.0" fill="#5470c0"/>
<circle cx="369.66" cy="442.13" r="3.0" fill="#5470c0"/>
<circle cx="374.99" cy="442.13" r="3.0" fill="#5470c0"/>
<circle cx="380.32" cy="441.44" r="3.0" fill="#5470c0"/>
<circle cx="385.65" cy="440.67" r="3.0" fill="#5470c0"/>
<circle cx="390.98" cy="404.10" r="3.0" fill="#5470c0"/>
<circle cx="396.31" cy="404.61" r="3.0" fill="#5470c0"/>
<circle cx="401.64" cy="403.32" r="3.0" fill="#5470c0"/>
<circle cx="406.97" cy="404.35" r="3.0" fill="#5470c0"/>
<circle cx="412.30" cy="404.61" r="3.0" fill="#5470c0"/>
<text x="268.00" y="389.50" font-size="8.3" font-weight="bold" text-anchor="middle" fill="#1c1c1c" stroke="#1c1c1c" stroke-width="0.28">50</text>
<text x="295.00" y="397.30" font-size="8.3" font-weight="bold" text-anchor="middle" fill="#1c1c1c" stroke="#1c1c1c" stroke-width="0.28">100</text>
<text x="322.00" y="411.70" font-size="8.3" font-weight="bold" text-anchor="middle" fill="#1c1c1c" stroke="#1c1c1c" stroke-width="0.28">500</text>
<text x="348.00" y="420.30" font-size="8.3" font-weight="bold" text-anchor="middle" fill="#1c1c1c" stroke="#1c1c1c" stroke-width="0.28">1000</text>
<text x="375.30" y="429.40" font-size="8.3" font-weight="bold" text-anchor="middle" fill="#1c1c1c" stroke="#1c1c1c" stroke-width="0.28">2000</text>
<text x="401.40" y="392.90" font-size="8.3" font-weight="bold" text-anchor="middle" fill="#1c1c1c" stroke="#1c1c1c" stroke-width="0.28">50</text>
<text x="411.50" y="375.80" font-size="10.0" font-weight="bold" text-anchor="end" fill="#1c1c1c" stroke="#1c1c1c" stroke-width="0.28">@ mA g<tspan dy="-4.80" font-size="6.20">-1</tspan></text>
<g>
<clipPath id="cph"><rect x="254.7" y="429.7" width="77.4" height="53.2"/></clipPath>
<g clip-path="url(#cph)">
<rect x="254.7" y="429.7" width="77.4" height="53.2" fill="url(#photobg)"/>
<path d="M254.7,465 Q258,459.5 296,459.5 Q328,459.5 332.1,464 L332.1,483 L254.7,483 Z" fill="url(#tray)"/>
<path d="M258.5,470 Q261,462.5 296,462.5 Q327,462.5 330,469 Q327,477 300,477.5 Q263,477.5 258.5,470 Z" fill="none" stroke="#a8a8a4" stroke-width="0.8"/>
<circle cx="267.6" cy="442.3" r="12.2" fill="url(#planet)"/>
<rect x="295.2" y="433.5" width="2" height="18" fill="#c8c8c4"/>
<rect x="295.4" y="447" width="1.6" height="9" fill="#e8c040"/>
<circle cx="302" cy="455.2" r="2.8" fill="#a05a28"/>
<g fill="#e4ecd4" opacity="0.85"><ellipse cx="287" cy="466" rx="7" ry="6"/><ellipse cx="305" cy="466" rx="7" ry="6"/><ellipse cx="296" cy="470" rx="10" ry="5"/></g>
<ellipse cx="296" cy="463" rx="4" ry="7" fill="#fffff0"/>
<rect x="304" y="478" width="13.7" height="3.8" rx="1.5" fill="#0c0c0c"/>
<path d="M317.7,479 Q328,477 331,470" fill="none" stroke="#a04040" stroke-width="0.8"/>
</g>
<rect x="252.40" y="364.00" width="159.90" height="120.20" fill="none" stroke="#2a2a2a" stroke-width="1.3"/>
<text x="449.30" y="351.80" font-size="18" font-weight="bold" text-anchor="start" fill="#1c1c1c" stroke="#1c1c1c" stroke-width="0.28">h</text>
<text x="469.30" y="359.80" font-size="10.1" font-weight="bold" text-anchor="start" fill="#1c1c1c" stroke="#1c1c1c" stroke-width="0.28">KFMTO&#183;0.16H<tspan dy="2.52" font-size="6.26">2</tspan><tspan dy="-2.52">O</tspan>//SC</text>
<line x1="471.50" y1="484.50" x2="471.50" y2="487.80" stroke="#2a2a2a" stroke-width="0.9"/>
<text transform="translate(471.50 496.00) scale(0.93 1.12)" font-size="7.9" font-weight="bold" text-anchor="middle" fill="#1c1c1c" stroke="#1c1c1c" stroke-width="0.28">0</text>
<line x1="487.53" y1="484.50" x2="487.53" y2="486.50" stroke="#2a2a2a" stroke-width="0.9"/>
<line x1="503.56" y1="484.50" x2="503.56" y2="487.80" stroke="#2a2a2a" stroke-width="0.9"/>
<text transform="translate(503.56 496.00) scale(0.93 1.12)" font-size="7.9" font-weight="bold" text-anchor="middle" fill="#1c1c1c" stroke="#1c1c1c" stroke-width="0.28">200</text>
<line x1="519.59" y1="484.50" x2="519.59" y2="486.50" stroke="#2a2a2a" stroke-width="0.9"/>
<line x1="535.62" y1="484.50" x2="535.62" y2="487.80" stroke="#2a2a2a" stroke-width="0.9"/>
<text transform="translate(535.62 496.00) scale(0.93 1.12)" font-size="7.9" font-weight="bold" text-anchor="middle" fill="#1c1c1c" stroke="#1c1c1c" stroke-width="0.28">400</text>
<line x1="551.65" y1="484.50" x2="551.65" y2="486.50" stroke="#2a2a2a" stroke-width="0.9"/>
<line x1="567.68" y1="484.50" x2="567.68" y2="487.80" stroke="#2a2a2a" stroke-width="0.9"/>
<text transform="translate(567.68 496.00) scale(0.93 1.12)" font-size="7.9" font-weight="bold" text-anchor="middle" fill="#1c1c1c" stroke="#1c1c1c" stroke-width="0.28">600</text>
<line x1="583.71" y1="484.50" x2="583.71" y2="486.50" stroke="#2a2a2a" stroke-width="0.9"/>
<line x1="599.74" y1="484.50" x2="599.74" y2="487.80" stroke="#2a2a2a" stroke-width="0.9"/>
<text transform="translate(599.74 496.00) scale(0.93 1.12)" font-size="7.9" font-weight="bold" text-anchor="middle" fill="#1c1c1c" stroke="#1c1c1c" stroke-width="0.28">800</text>
<line x1="615.77" y1="484.50" x2="615.77" y2="486.50" stroke="#2a2a2a" stroke-width="0.9"/>
<line x1="631.80" y1="484.50" x2="631.80" y2="487.80" stroke="#2a2a2a" stroke-width="0.9"/>
<text transform="translate(631.80 496.00) scale(0.93 1.12)" font-size="7.9" font-weight="bold" text-anchor="middle" fill="#1c1c1c" stroke="#1c1c1c" stroke-width="0.28">1000</text>
<line x1="468.20" y1="484.50" x2="471.50" y2="484.50" stroke="#2a2a2a" stroke-width="0.9"/>
<text transform="translate(467.00 487.20) scale(0.93 1.12)" font-size="7.9" font-weight="bold" text-anchor="end" fill="#1c1c1c" stroke="#1c1c1c" stroke-width="0.28">0</text>
<line x1="469.50" y1="470.52" x2="471.50" y2="470.52" stroke="#2a2a2a" stroke-width="0.9"/>
<line x1="468.20" y1="456.55" x2="471.50" y2="456.55" stroke="#2a2a2a" stroke-width="0.9"/>
<text transform="translate(467.00 459.25) scale(0.93 1.12)" font-size="7.9" font-weight="bold" text-anchor="end" fill="#1c1c1c" stroke="#1c1c1c" stroke-width="0.28">30</text>
<line x1="469.50" y1="442.57" x2="471.50" y2="442.57" stroke="#2a2a2a" stroke-width="0.9"/>
<line x1="468.20" y1="428.60" x2="471.50" y2="428.60" stroke="#2a2a2a" stroke-width="0.9"/>
<text transform="translate(467.00 431.30) scale(0.93 1.12)" font-size="7.9" font-weight="bold" text-anchor="end" fill="#1c1c1c" stroke="#1c1c1c" stroke-width="0.28">60</text>
<line x1="469.50" y1="414.62" x2="471.50" y2="414.62" stroke="#2a2a2a" stroke-width="0.9"/>
<line x1="468.20" y1="400.65" x2="471.50" y2="400.65" stroke="#2a2a2a" stroke-width="0.9"/>
<text transform="translate(467.00 403.35) scale(0.93 1.12)" font-size="7.9" font-weight="bold" text-anchor="end" fill="#1c1c1c" stroke="#1c1c1c" stroke-width="0.28">90</text>
<line x1="469.50" y1="386.67" x2="471.50" y2="386.67" stroke="#2a2a2a" stroke-width="0.9"/>
<line x1="468.20" y1="372.70" x2="471.50" y2="372.70" stroke="#2a2a2a" stroke-width="0.9"/>
<text transform="translate(467.00 375.40) scale(0.93 1.12)" font-size="7.9" font-weight="bold" text-anchor="end" fill="#1c1c1c" stroke="#1c1c1c" stroke-width="0.28">120</text>
<line x1="631.80" y1="484.50" x2="635.10" y2="484.50" stroke="#2a2a2a" stroke-width="0.9"/>
<text transform="translate(636.80 487.20) scale(0.93 1.12)" font-size="7.9" font-weight="bold" text-anchor="start" fill="#1c1c1c" stroke="#1c1c1c" stroke-width="0.28">0</text>
<line x1="631.80" y1="474.79" x2="633.80" y2="474.79" stroke="#2a2a2a" stroke-width="0.9"/>
<line x1="631.80" y1="465.08" x2="635.10" y2="465.08" stroke="#2a2a2a" stroke-width="0.9"/>
<text transform="translate(636.80 467.78) scale(0.93 1.12)" font-size="7.9" font-weight="bold" text-anchor="start" fill="#1c1c1c" stroke="#1c1c1c" stroke-width="0.28">20</text>
<line x1="631.80" y1="455.38" x2="633.80" y2="455.38" stroke="#2a2a2a" stroke-width="0.9"/>
<line x1="631.80" y1="445.67" x2="635.10" y2="445.67" stroke="#2a2a2a" stroke-width="0.9"/>
<text transform="translate(636.80 448.37) scale(0.93 1.12)" font-size="7.9" font-weight="bold" text-anchor="start" fill="#1c1c1c" stroke="#1c1c1c" stroke-width="0.28">40</text>
<line x1="631.80" y1="435.96" x2="633.80" y2="435.96" stroke="#2a2a2a" stroke-width="0.9"/>
<line x1="631.80" y1="426.25" x2="635.10" y2="426.25" stroke="#2a2a2a" stroke-width="0.9"/>
<text transform="translate(636.80 428.95) scale(0.93 1.12)" font-size="7.9" font-weight="bold" text-anchor="start" fill="#1c1c1c" stroke="#1c1c1c" stroke-width="0.28">60</text>
<line x1="631.80" y1="416.54" x2="633.80" y2="416.54" stroke="#2a2a2a" stroke-width="0.9"/>
<line x1="631.80" y1="406.83" x2="635.10" y2="406.83" stroke="#2a2a2a" stroke-width="0.9"/>
<text transform="translate(636.80 409.53) scale(0.93 1.12)" font-size="7.9" font-weight="bold" text-anchor="start" fill="#1c1c1c" stroke="#1c1c1c" stroke-width="0.28">80</text>
<line x1="631.80" y1="397.12" x2="633.80" y2="397.12" stroke="#2a2a2a" stroke-width="0.9"/>
<line x1="631.80" y1="387.42" x2="635.10" y2="387.42" stroke="#2a2a2a" stroke-width="0.9"/>
<text transform="translate(636.80 390.12) scale(0.93 1.12)" font-size="7.9" font-weight="bold" text-anchor="start" fill="#1c1c1c" stroke="#1c1c1c" stroke-width="0.28">100</text>
<line x1="631.80" y1="377.71" x2="633.80" y2="377.71" stroke="#2a2a2a" stroke-width="0.9"/>
<line x1="631.80" y1="368.00" x2="635.10" y2="368.00" stroke="#2a2a2a" stroke-width="0.9"/>
<text transform="translate(636.80 370.70) scale(0.93 1.12)" font-size="7.9" font-weight="bold" text-anchor="start" fill="#1c1c1c" stroke="#1c1c1c" stroke-width="0.28">120</text>
<text x="509.00" y="508.50" font-size="10.1" font-weight="bold" text-anchor="start" fill="#1c1c1c" stroke="#1c1c1c" stroke-width="0.28">Cycle Number (n)</text>
<text x="450.00" y="423.20" font-size="10.3" font-weight="bold" text-anchor="middle" fill="#1c1c1c" stroke="#1c1c1c" stroke-width="0.28" transform="rotate(-90 450.00 423.20)">Specific Capacity (mAh g<tspan dy="-4.94" font-size="6.39">-1</tspan><tspan dy="4.94">)</tspan></text>
<text x="660.60" y="425.80" font-size="10.2" font-weight="bold" text-anchor="middle" fill="#1c1c1c" stroke="#1c1c1c" stroke-width="0.28" transform="rotate(-90 660.60 425.80)">Coulombic Efficiency (%)</text>
<text x="475.40" y="378.30" font-size="10.0" font-weight="bold" text-anchor="start" fill="#1c1c1c" stroke="#1c1c1c" stroke-width="0.28">1 A g<tspan dy="-4.80" font-size="6.20">-1</tspan></text>
<g fill="none" stroke="#6078c4" stroke-width="0.95"><ellipse cx="471.50" cy="388.54" rx="2.3" ry="3.0"/><ellipse cx="474.79" cy="388.20" rx="2.3" ry="3.0"/><ellipse cx="478.07" cy="388.75" rx="2.3" ry="3.0"/><ellipse cx="481.36" cy="388.20" rx="2.3" ry="3.0"/><ellipse cx="484.64" cy="388.33" rx="2.3" ry="3.0"/><ellipse cx="487.93" cy="388.21" rx="2.3" ry="3.0"/><ellipse cx="491.22" cy="388.35" rx="2.3" ry="3.0"/><ellipse cx="494.50" cy="388.05" rx="2.3" ry="3.0"/><ellipse cx="497.79" cy="388.51" rx="2.3" ry="3.0"/><ellipse cx="501.08" cy="388.33" rx="2.3" ry="3.0"/><ellipse cx="504.36" cy="388.74" rx="2.3" ry="3.0"/><ellipse cx="507.65" cy="388.35" rx="2.3" ry="3.0"/><ellipse cx="510.93" cy="388.45" rx="2.3" ry="3.0"/><ellipse cx="514.22" cy="388.01" rx="2.3" ry="3.0"/><ellipse cx="517.51" cy="388.04" rx="2.3" ry="3.0"/><ellipse cx="520.79" cy="388.67" rx="2.3" ry="3.0"/><ellipse cx="524.08" cy="388.74" rx="2.3" ry="3.0"/><ellipse cx="527.36" cy="388.68" rx="2.3" ry="3.0"/><ellipse cx="530.65" cy="388.63" rx="2.3" ry="3.0"/><ellipse cx="533.94" cy="388.21" rx="2.3" ry="3.0"/><ellipse cx="537.22" cy="388.35" rx="2.3" ry="3.0"/><ellipse cx="540.51" cy="388.36" rx="2.3" ry="3.0"/><ellipse cx="543.80" cy="388.42" rx="2.3" ry="3.0"/><ellipse cx="547.08" cy="388.77" rx="2.3" ry="3.0"/><ellipse cx="550.37" cy="388.47" rx="2.3" ry="3.0"/><ellipse cx="553.65" cy="388.00" rx="2.3" ry="3.0"/><ellipse cx="556.94" cy="388.14" rx="2.3" ry="3.0"/><ellipse cx="560.23" cy="388.33" rx="2.3" ry="3.0"/><ellipse cx="563.51" cy="388.62" rx="2.3" ry="3.0"/><ellipse cx="566.80" cy="388.06" rx="2.3" ry="3.0"/><ellipse cx="570.08" cy="388.45" rx="2.3" ry="3.0"/><ellipse cx="573.37" cy="388.29" rx="2.3" ry="3.0"/><ellipse cx="576.66" cy="388.62" rx="2.3" ry="3.0"/><ellipse cx="579.94" cy="388.52" rx="2.3" ry="3.0"/><ellipse cx="583.23" cy="388.51" rx="2.3" ry="3.0"/><ellipse cx="586.52" cy="388.47" rx="2.3" ry="3.0"/><ellipse cx="589.80" cy="388.76" rx="2.3" ry="3.0"/><ellipse cx="593.09" cy="388.26" rx="2.3" ry="3.0"/><ellipse cx="596.37" cy="388.64" rx="2.3" ry="3.0"/><ellipse cx="599.66" cy="388.31" rx="2.3" ry="3.0"/><ellipse cx="602.95" cy="388.29" rx="2.3" ry="3.0"/><ellipse cx="606.23" cy="388.23" rx="2.3" ry="3.0"/><ellipse cx="609.52" cy="388.55" rx="2.3" ry="3.0"/><ellipse cx="612.80" cy="388.55" rx="2.3" ry="3.0"/><ellipse cx="616.09" cy="388.19" rx="2.3" ry="3.0"/><ellipse cx="619.38" cy="388.47" rx="2.3" ry="3.0"/><ellipse cx="622.66" cy="388.66" rx="2.3" ry="3.0"/><ellipse cx="625.95" cy="388.07" rx="2.3" ry="3.0"/><ellipse cx="629.24" cy="388.77" rx="2.3" ry="3.0"/></g>
<g fill="#6a86cc" stroke="#4462b8" stroke-width="0.6"><circle cx="471.98" cy="421.88" r="3.0"/><circle cx="473.90" cy="424.95" r="3.0"/><circle cx="475.83" cy="426.65" r="3.0"/><circle cx="477.75" cy="427.35" r="3.0"/><circle cx="479.68" cy="429.11" r="3.0"/><circle cx="481.60" cy="429.92" r="3.0"/><circle cx="483.52" cy="430.69" r="3.0"/><circle cx="485.45" cy="430.71" r="3.0"/><circle cx="487.37" cy="431.38" r="3.0"/><circle cx="489.29" cy="432.08" r="3.0"/><circle cx="491.22" cy="432.90" r="3.0"/><circle cx="493.14" cy="432.67" r="3.0"/><circle cx="495.06" cy="432.58" r="3.0"/><circle cx="496.99" cy="432.80" r="3.0"/><circle cx="498.91" cy="432.59" r="3.0"/><circle cx="500.83" cy="432.92" r="3.0"/><circle cx="502.76" cy="432.68" r="3.0"/><circle cx="504.68" cy="432.67" r="3.0"/><circle cx="506.61" cy="432.56" r="3.0"/><circle cx="508.53" cy="432.52" r="3.0"/><circle cx="510.45" cy="432.56" r="3.0"/><circle cx="512.38" cy="432.89" r="3.0"/><circle cx="514.30" cy="432.92" r="3.0"/><circle cx="516.22" cy="432.59" r="3.0"/><circle cx="518.15" cy="433.12" r="3.0"/><circle cx="520.07" cy="432.84" r="3.0"/><circle cx="521.99" cy="432.66" r="3.0"/><circle cx="523.92" cy="432.78" r="3.0"/><circle cx="525.84" cy="433.19" r="3.0"/><circle cx="527.77" cy="433.48" r="3.0"/><circle cx="529.69" cy="433.24" r="3.0"/><circle cx="531.61" cy="433.24" r="3.0"/><circle cx="533.54" cy="433.45" r="3.0"/><circle cx="535.46" cy="433.68" r="3.0"/><circle cx="537.38" cy="433.64" r="3.0"/><circle cx="539.31" cy="434.05" r="3.0"/><circle cx="541.23" cy="433.91" r="3.0"/><circle cx="543.15" cy="434.11" r="3.0"/><circle cx="545.08" cy="433.68" r="3.0"/><circle cx="547.00" cy="433.47" r="3.0"/><circle cx="548.92" cy="434.27" r="3.0"/><circle cx="550.85" cy="434.45" r="3.0"/><circle cx="552.77" cy="433.85" r="3.0"/><circle cx="554.70" cy="434.27" r="3.0"/><circle cx="556.62" cy="434.19" r="3.0"/><circle cx="558.54" cy="434.67" r="3.0"/><circle cx="560.47" cy="434.62" r="3.0"/><circle cx="562.39" cy="434.20" r="3.0"/><circle cx="564.31" cy="434.35" r="3.0"/><circle cx="566.24" cy="434.18" r="3.0"/><circle cx="568.16" cy="434.14" r="3.0"/><circle cx="570.08" cy="434.76" r="3.0"/><circle cx="572.01" cy="434.58" r="3.0"/><circle cx="573.93" cy="434.80" r="3.0"/><circle cx="575.86" cy="434.81" r="3.0"/><circle cx="577.78" cy="434.98" r="3.0"/><circle cx="579.70" cy="434.50" r="3.0"/><circle cx="581.63" cy="434.89" r="3.0"/><circle cx="583.55" cy="435.40" r="3.0"/><circle cx="585.47" cy="434.94" r="3.0"/><circle cx="587.40" cy="434.76" r="3.0"/><circle cx="589.32" cy="434.88" r="3.0"/><circle cx="591.24" cy="435.26" r="3.0"/><circle cx="593.17" cy="435.83" r="3.0"/><circle cx="595.09" cy="435.15" r="3.0"/><circle cx="597.01" cy="435.10" r="3.0"/><circle cx="598.94" cy="435.34" r="3.0"/><circle cx="600.86" cy="435.73" r="3.0"/><circle cx="602.79" cy="435.91" r="3.0"/><circle cx="604.71" cy="435.70" r="3.0"/><circle cx="606.63" cy="436.43" r="3.0"/><circle cx="608.56" cy="435.93" r="3.0"/><circle cx="610.48" cy="436.33" r="3.0"/><circle cx="612.40" cy="436.86" r="3.0"/><circle cx="614.33" cy="436.29" r="3.0"/><circle cx="616.25" cy="436.83" r="3.0"/><circle cx="618.17" cy="437.23" r="3.0"/><circle cx="620.10" cy="437.30" r="3.0"/><circle cx="622.02" cy="436.79" r="3.0"/><circle cx="623.95" cy="437.57" r="3.0"/><circle cx="625.87" cy="437.13" r="3.0"/><circle cx="627.79" cy="437.24" r="3.0"/><circle cx="629.72" cy="438.02" r="3.0"/><circle cx="631.64" cy="437.70" r="3.0"/></g>
<g fill="none" stroke="#3a56b8" stroke-width="1.1"><path d="M495,441.2 Q490,447 477,447.7"/><path d="M600.8,396.3 Q606,403 623,404.6"/></g>
<path d="M474,447.7 L480,444.6 L479.2,450.6 Z" fill="#3a56b8"/>
<path d="M626,404.6 L619.6,401.8 L620.4,407.8 Z" fill="#3a56b8"/>
<rect x="471.50" y="364.40" width="160.30" height="120.10" fill="none" stroke="#2a2a2a" stroke-width="1.3"/>
</svg>
</body></html>
